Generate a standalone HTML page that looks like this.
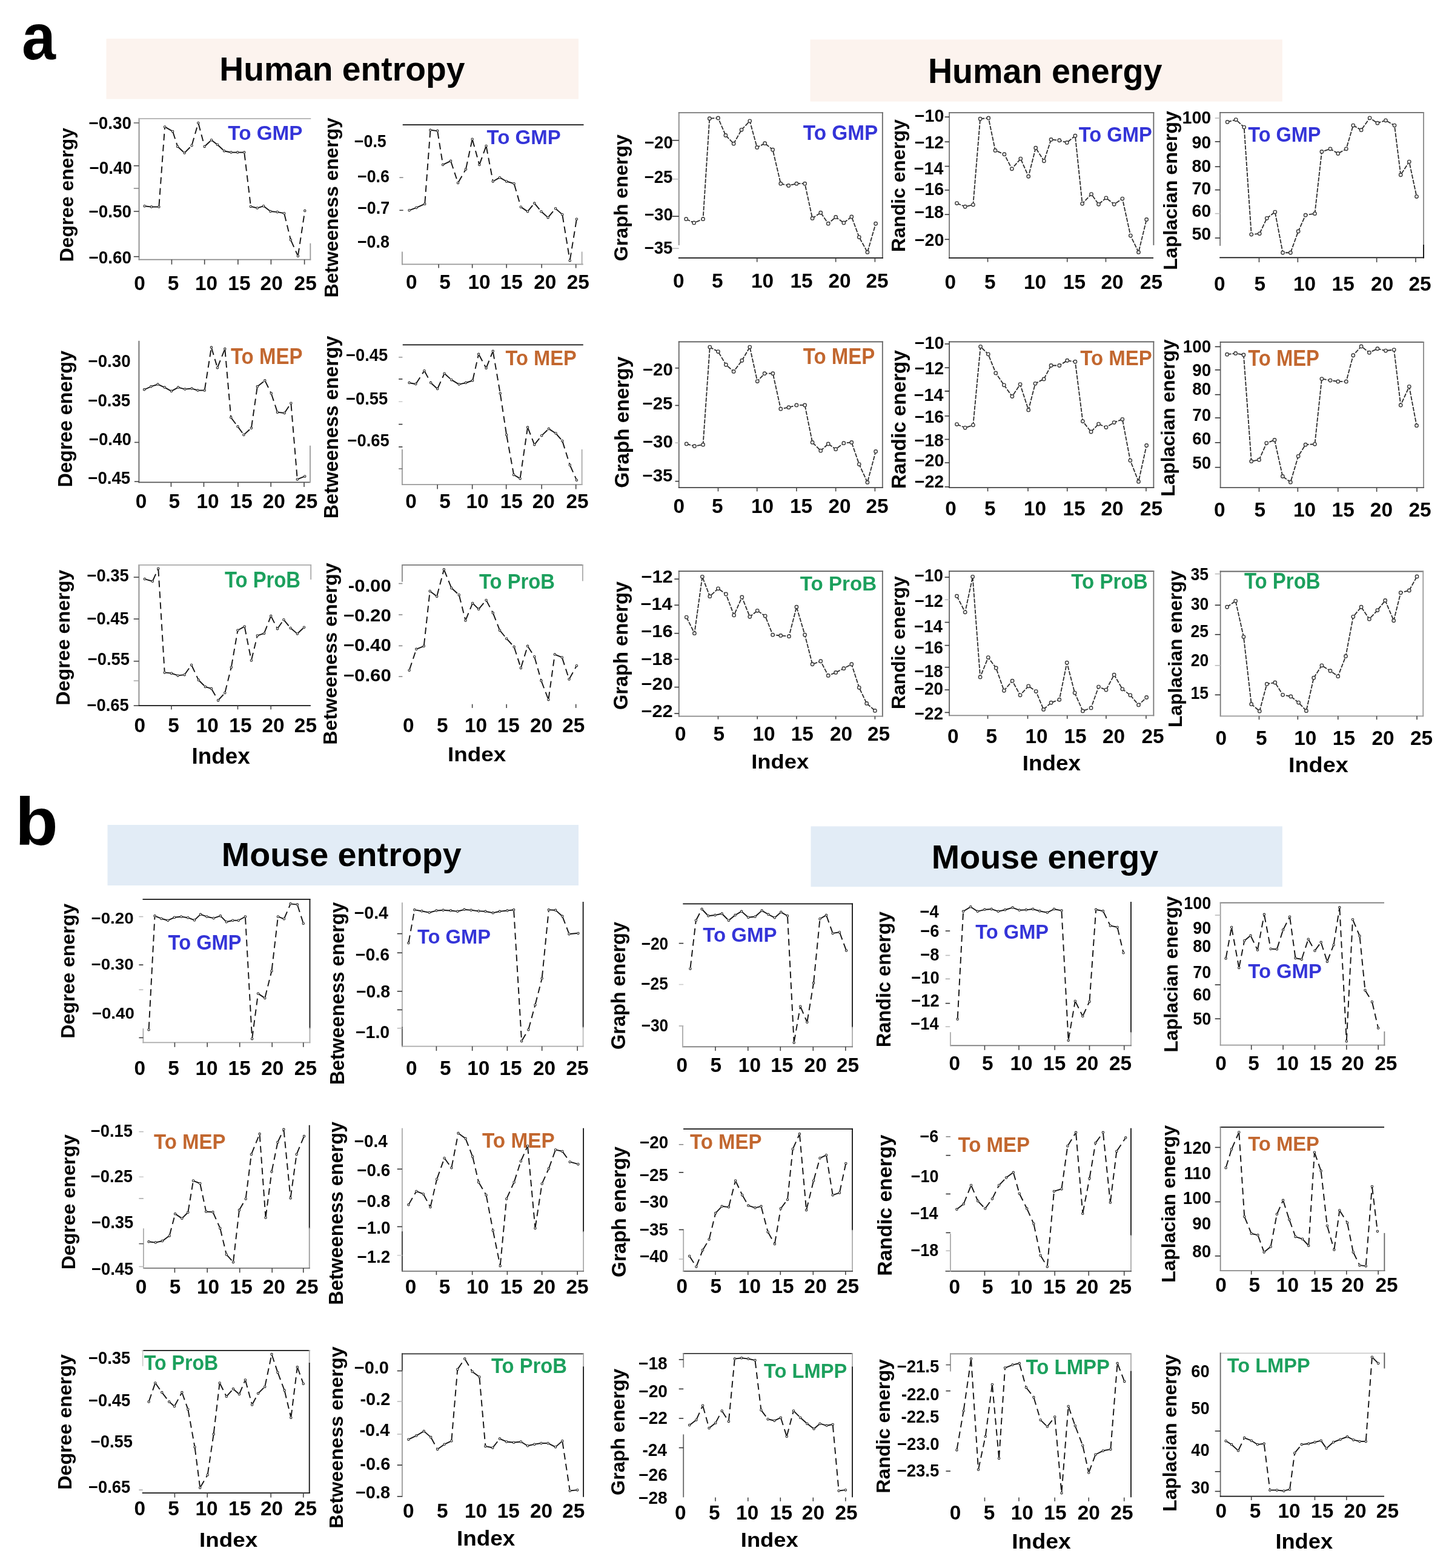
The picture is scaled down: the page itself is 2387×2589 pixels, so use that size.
<!DOCTYPE html>
<html><head><meta charset="utf-8"><title>Figure</title>
<style>html,body{margin:0;padding:0;background:#fff;overflow:hidden;}svg{display:block;}</style></head>
<body><svg width="2387" height="2589" viewBox="0 0 2387 2589" font-family="'Liberation Sans', Arial, sans-serif" font-weight="bold">
<rect x="0" y="0" width="2387" height="2589" fill="#fff"/>
<rect x="175.5" y="63.8" width="779.5" height="99.7" fill="#fcf3ee"/>
<rect x="1337.5" y="65.3" width="779.3" height="102.3" fill="#fcf3ee"/>
<rect x="177.5" y="1362" width="777.5" height="100" fill="#e2ecf6"/>
<rect x="1338.5" y="1364.4" width="778.3" height="99.8" fill="#e2ecf6"/>
<text x="362.37" y="132.8" font-size="55.13" textLength="405" lengthAdjust="spacingAndGlyphs" fill="#000">Human entropy</text>
<text x="1531.95" y="137.4" font-size="58.04" textLength="386.42" lengthAdjust="spacingAndGlyphs" fill="#000">Human energy</text>
<text x="365.84" y="1430.4" font-size="55.13" textLength="395.95" lengthAdjust="spacingAndGlyphs" fill="#000">Mouse entropy</text>
<text x="1537.84" y="1434" font-size="55.27" textLength="374.34" lengthAdjust="spacingAndGlyphs" fill="#000">Mouse energy</text>
<text x="35.99" y="98.4" font-size="107.53" textLength="55.88" lengthAdjust="spacingAndGlyphs" fill="#000">a</text>
<text x="24.97" y="1395.2" font-size="110.62" textLength="70.76" lengthAdjust="spacingAndGlyphs" fill="#000">b</text>
<g id="a1c1">
<line x1="229.55" y1="195.78" x2="229.55" y2="428.57" stroke="#8a8a8a" stroke-width="1.8" stroke-linecap="square"/>
<line x1="229.55" y1="195.78" x2="512.34" y2="195.78" stroke="#b0b0b0" stroke-width="1.8" stroke-linecap="square"/>
<line x1="229.55" y1="428.57" x2="512.34" y2="428.57" stroke="#8a8a8a" stroke-width="1.8" stroke-linecap="square"/>
<line x1="512.34" y1="402.6" x2="512.34" y2="428.57" stroke="#999" stroke-width="1.8" stroke-linecap="square"/>
<line x1="220.78" y1="202.92" x2="229.55" y2="202.92" stroke="#666" stroke-width="1.6"/>
<line x1="220.78" y1="273.7" x2="229.55" y2="273.7" stroke="#444" stroke-width="1.6"/>
<line x1="220.78" y1="311.04" x2="229.55" y2="311.04" stroke="#888" stroke-width="1.6"/>
<line x1="220.78" y1="349.03" x2="229.55" y2="349.03" stroke="#444" stroke-width="1.6"/>
<line x1="220.78" y1="423.7" x2="229.55" y2="423.7" stroke="#444" stroke-width="1.6"/>
<line x1="283.44" y1="428.57" x2="283.44" y2="436.69" stroke="#444" stroke-width="1.6"/>
<line x1="337.66" y1="428.57" x2="337.66" y2="436.69" stroke="#444" stroke-width="1.6"/>
<line x1="392.86" y1="428.57" x2="392.86" y2="436.69" stroke="#444" stroke-width="1.6"/>
<line x1="447.4" y1="428.57" x2="447.4" y2="436.69" stroke="#444" stroke-width="1.6"/>
<line x1="502.6" y1="428.57" x2="502.6" y2="436.69" stroke="#444" stroke-width="1.6"/>
<text x="146.54" y="212.66" font-size="28.67" textLength="70.49" lengthAdjust="spacingAndGlyphs" fill="#000">−0.30</text>
<text x="147.52" y="287.34" font-size="28.67" textLength="70.49" lengthAdjust="spacingAndGlyphs" fill="#000">−0.40</text>
<text x="146.54" y="358.77" font-size="28.67" textLength="70.49" lengthAdjust="spacingAndGlyphs" fill="#000">−0.50</text>
<text x="146.54" y="435.06" font-size="28.67" textLength="70.49" lengthAdjust="spacingAndGlyphs" fill="#000">−0.60</text>
<text x="221.26" y="478.9" font-size="32.97" textLength="18.55" lengthAdjust="spacingAndGlyphs" fill="#000">0</text>
<text x="276.74" y="478.9" font-size="32.97" textLength="18.55" lengthAdjust="spacingAndGlyphs" fill="#000">5</text>
<text x="322.02" y="478.9" font-size="32.97" textLength="37.1" lengthAdjust="spacingAndGlyphs" fill="#000">10</text>
<text x="376.36" y="478.9" font-size="32.97" textLength="37.1" lengthAdjust="spacingAndGlyphs" fill="#000">15</text>
<text x="429.63" y="478.9" font-size="32.97" textLength="37.1" lengthAdjust="spacingAndGlyphs" fill="#000">20</text>
<text x="485.59" y="478.9" font-size="32.97" textLength="37.1" lengthAdjust="spacingAndGlyphs" fill="#000">25</text>
<text transform="translate(120.61,430) rotate(-90)" x="-2.15" y="0" font-size="31.83" textLength="221.12" lengthAdjust="spacingAndGlyphs" fill="#000">Degree energy</text>
<text x="376.29" y="230.52" font-size="32.68" textLength="123.27" lengthAdjust="spacingAndGlyphs" fill="#3434d8">To GMP</text>
<path d="M240.62,340.49L248.01,341.33" fill="none" stroke="#151515" stroke-width="1.9" stroke-dasharray="11 7"/>
<path d="M252,341.56L260.34,341.56" fill="none" stroke="#151515" stroke-width="1.9" stroke-dasharray="11 7"/>
<path d="M262.48,339.56L271.93,211.41" fill="none" stroke="#151515" stroke-width="1.9" stroke-dasharray="11 7"/>
<path d="M273.81,210.41L283.33,215.89" fill="none" stroke="#151515" stroke-width="1.9" stroke-dasharray="11 7"/>
<path d="M285.68,218.79L292.56,239.98" fill="none" stroke="#151515" stroke-width="1.9" stroke-dasharray="11 7"/>
<path d="M294.64,243.26L303.09,251.23" fill="none" stroke="#151515" stroke-width="1.9" stroke-dasharray="11 7"/>
<path d="M305.94,251.16L315.16,241.69" fill="none" stroke="#151515" stroke-width="1.9" stroke-dasharray="11 7"/>
<path d="M317.11,238.34L326.72,204.84" fill="none" stroke="#151515" stroke-width="1.9" stroke-dasharray="11 7"/>
<path d="M327.79,204.85L337.15,239.95" fill="none" stroke="#151515" stroke-width="1.9" stroke-dasharray="11 7"/>
<path d="M339.12,240.51L347.57,232.54" fill="none" stroke="#151515" stroke-width="1.9" stroke-dasharray="11 7"/>
<path d="M350.61,232.39L357.18,237.42" fill="none" stroke="#151515" stroke-width="1.9" stroke-dasharray="11 7"/>
<path d="M360.22,240.01L368.67,247.98" fill="none" stroke="#151515" stroke-width="1.9" stroke-dasharray="11 7"/>
<path d="M372.09,249.74L379.53,251.23" fill="none" stroke="#151515" stroke-width="1.9" stroke-dasharray="11 7"/>
<path d="M383.49,251.62L390.21,251.62" fill="none" stroke="#151515" stroke-width="1.9" stroke-dasharray="11 7"/>
<path d="M394.21,251.62L401.25,251.62" fill="none" stroke="#151515" stroke-width="1.9" stroke-dasharray="11 7"/>
<path d="M403.49,253.61L413.72,338.92" fill="none" stroke="#151515" stroke-width="1.9" stroke-dasharray="11 7"/>
<path d="M415.9,341.38L422.73,343.04" fill="none" stroke="#151515" stroke-width="1.9" stroke-dasharray="11 7"/>
<path d="M426.58,342.91L433.16,340.86" fill="none" stroke="#151515" stroke-width="1.9" stroke-dasharray="11 7"/>
<path d="M436.65,341.48L444.85,347.8" fill="none" stroke="#151515" stroke-width="1.9" stroke-dasharray="11 7"/>
<path d="M448.42,349.2L455.8,349.83" fill="none" stroke="#151515" stroke-width="1.9" stroke-dasharray="11 7"/>
<path d="M459.75,350.39L467.19,351.88" fill="none" stroke="#151515" stroke-width="1.9" stroke-dasharray="11 7"/>
<path d="M469.63,354.22L479.4,394.16" fill="none" stroke="#151515" stroke-width="1.9" stroke-dasharray="11 7"/>
<path d="M480.69,397.93L491.06,420.9" fill="none" stroke="#151515" stroke-width="1.9" stroke-dasharray="11 7"/>
<path d="M492.18,420.75L502.95,350.03" fill="none" stroke="#151515" stroke-width="1.9" stroke-dasharray="11 7"/>
<circle cx="238.64" cy="340.26" r="1.7" fill="none" stroke="#222" stroke-width="1.1"/>
<circle cx="250" cy="341.56" r="1.7" fill="none" stroke="#222" stroke-width="1.1"/>
<circle cx="262.34" cy="341.56" r="1.7" fill="none" stroke="#222" stroke-width="1.1"/>
<circle cx="272.08" cy="209.42" r="1.7" fill="none" stroke="#222" stroke-width="1.1"/>
<circle cx="285.06" cy="216.88" r="1.7" fill="none" stroke="#222" stroke-width="1.1"/>
<circle cx="293.18" cy="241.88" r="1.7" fill="none" stroke="#222" stroke-width="1.1"/>
<circle cx="304.55" cy="252.6" r="1.7" fill="none" stroke="#222" stroke-width="1.1"/>
<circle cx="316.56" cy="240.26" r="1.7" fill="none" stroke="#222" stroke-width="1.1"/>
<circle cx="327.27" cy="202.92" r="1.7" fill="none" stroke="#222" stroke-width="1.1"/>
<circle cx="337.66" cy="241.88" r="1.7" fill="none" stroke="#222" stroke-width="1.1"/>
<circle cx="349.03" cy="231.17" r="1.7" fill="none" stroke="#222" stroke-width="1.1"/>
<circle cx="358.77" cy="238.64" r="1.7" fill="none" stroke="#222" stroke-width="1.1"/>
<circle cx="370.13" cy="249.35" r="1.7" fill="none" stroke="#222" stroke-width="1.1"/>
<circle cx="381.49" cy="251.62" r="1.7" fill="none" stroke="#222" stroke-width="1.1"/>
<circle cx="392.21" cy="251.62" r="1.7" fill="none" stroke="#222" stroke-width="1.1"/>
<circle cx="403.25" cy="251.62" r="1.7" fill="none" stroke="#222" stroke-width="1.1"/>
<circle cx="413.96" cy="340.91" r="1.7" fill="none" stroke="#222" stroke-width="1.1"/>
<circle cx="424.68" cy="343.51" r="1.7" fill="none" stroke="#222" stroke-width="1.1"/>
<circle cx="435.06" cy="340.26" r="1.7" fill="none" stroke="#222" stroke-width="1.1"/>
<circle cx="446.43" cy="349.03" r="1.7" fill="none" stroke="#222" stroke-width="1.1"/>
<circle cx="457.79" cy="350" r="1.7" fill="none" stroke="#222" stroke-width="1.1"/>
<circle cx="469.16" cy="352.27" r="1.7" fill="none" stroke="#222" stroke-width="1.1"/>
<circle cx="479.87" cy="396.1" r="1.7" fill="none" stroke="#222" stroke-width="1.1"/>
<circle cx="491.88" cy="422.73" r="1.7" fill="none" stroke="#222" stroke-width="1.1"/>
<circle cx="503.25" cy="348.05" r="1.7" fill="none" stroke="#222" stroke-width="1.1"/>
</g>
<g id="a1c2">
<line x1="665.63" y1="206.1" x2="962.62" y2="206.1" stroke="#111" stroke-width="1.8" stroke-linecap="square"/>
<line x1="663.89" y1="436.37" x2="961.87" y2="436.37" stroke="#999" stroke-width="1.8" stroke-linecap="square"/>
<line x1="663.89" y1="416.45" x2="663.89" y2="436.37" stroke="#999" stroke-width="1.8" stroke-linecap="square"/>
<line x1="960.63" y1="416.45" x2="960.63" y2="436.37" stroke="#aaa" stroke-width="1.8" stroke-linecap="square"/>
<line x1="659.41" y1="293.23" x2="665.63" y2="293.23" stroke="#888" stroke-width="1.6"/>
<line x1="659.41" y1="347.25" x2="665.63" y2="347.25" stroke="#444" stroke-width="1.6"/>
<line x1="724.13" y1="436.37" x2="724.13" y2="442.59" stroke="#444" stroke-width="1.6"/>
<line x1="779.65" y1="436.37" x2="779.65" y2="442.59" stroke="#444" stroke-width="1.6"/>
<line x1="836.16" y1="436.37" x2="836.16" y2="442.59" stroke="#444" stroke-width="1.6"/>
<line x1="894.16" y1="436.37" x2="894.16" y2="442.59" stroke="#444" stroke-width="1.6"/>
<line x1="950.67" y1="436.37" x2="950.67" y2="442.59" stroke="#444" stroke-width="1.6"/>
<text x="584.83" y="242.69" font-size="28.67" textLength="52.96" lengthAdjust="spacingAndGlyphs" fill="#000">−0.5</text>
<text x="590.01" y="301.44" font-size="28.67" textLength="52.96" lengthAdjust="spacingAndGlyphs" fill="#000">−0.6</text>
<text x="590.21" y="352.97" font-size="28.67" textLength="52.96" lengthAdjust="spacingAndGlyphs" fill="#000">−0.7</text>
<text x="589.88" y="408.98" font-size="28.67" textLength="52.96" lengthAdjust="spacingAndGlyphs" fill="#000">−0.8</text>
<text x="670.07" y="477.44" font-size="32.97" textLength="18.55" lengthAdjust="spacingAndGlyphs" fill="#000">0</text>
<text x="725.29" y="477.44" font-size="32.97" textLength="18.55" lengthAdjust="spacingAndGlyphs" fill="#000">5</text>
<text x="772.46" y="477.44" font-size="32.97" textLength="37.1" lengthAdjust="spacingAndGlyphs" fill="#000">10</text>
<text x="825.78" y="477.44" font-size="32.97" textLength="37.1" lengthAdjust="spacingAndGlyphs" fill="#000">15</text>
<text x="881.21" y="477.44" font-size="32.97" textLength="37.1" lengthAdjust="spacingAndGlyphs" fill="#000">20</text>
<text x="935.77" y="477.44" font-size="32.97" textLength="37.1" lengthAdjust="spacingAndGlyphs" fill="#000">25</text>
<text transform="translate(558.36,489.2) rotate(-90)" x="-2.15" y="0" font-size="31.82" textLength="297.13" lengthAdjust="spacingAndGlyphs" fill="#000">Betweeness energy</text>
<text x="803.46" y="238.46" font-size="32.76" textLength="122.25" lengthAdjust="spacingAndGlyphs" fill="#3434d8">To GMP</text>
<path d="M677.47,346.57L685.41,343.69" fill="none" stroke="#151515" stroke-width="1.9" stroke-dasharray="11 7"/>
<path d="M689.12,342.2L699.4,337.61" fill="none" stroke="#151515" stroke-width="1.9" stroke-dasharray="11 7"/>
<path d="M701.38,334.8L710.29,216.8" fill="none" stroke="#151515" stroke-width="1.9" stroke-dasharray="11 7"/>
<path d="M712.43,215.02L720.15,215.84" fill="none" stroke="#151515" stroke-width="1.9" stroke-dasharray="11 7"/>
<path d="M722.46,218.03L730.79,270.09" fill="none" stroke="#151515" stroke-width="1.9" stroke-dasharray="11 7"/>
<path d="M732.91,271.2L742.25,266.71" fill="none" stroke="#151515" stroke-width="1.9" stroke-dasharray="11 7"/>
<path d="M744.68,267.74L755.37,300.04" fill="none" stroke="#151515" stroke-width="1.9" stroke-dasharray="11 7"/>
<path d="M757,300.21L767.94,281.27" fill="none" stroke="#151515" stroke-width="1.9" stroke-dasharray="11 7"/>
<path d="M769.36,277.58L779.23,231.7" fill="none" stroke="#151515" stroke-width="1.9" stroke-dasharray="11 7"/>
<path d="M780.18,231.67L790.81,270.14" fill="none" stroke="#151515" stroke-width="1.9" stroke-dasharray="11 7"/>
<path d="M792.02,270.18L801.87,242.83" fill="none" stroke="#151515" stroke-width="1.9" stroke-dasharray="11 7"/>
<path d="M802.93,242.91L813.38,297.49" fill="none" stroke="#151515" stroke-width="1.9" stroke-dasharray="11 7"/>
<path d="M815.5,298.48L823.21,294.2" fill="none" stroke="#151515" stroke-width="1.9" stroke-dasharray="11 7"/>
<path d="M826.7,294.2L834.41,298.48" fill="none" stroke="#151515" stroke-width="1.9" stroke-dasharray="11 7"/>
<path d="M838.07,300.02L846.69,302.61" fill="none" stroke="#151515" stroke-width="1.9" stroke-dasharray="11 7"/>
<path d="M849.16,305.1L859.25,339.85" fill="none" stroke="#151515" stroke-width="1.9" stroke-dasharray="11 7"/>
<path d="M861.47,342.88L869.34,348.13" fill="none" stroke="#151515" stroke-width="1.9" stroke-dasharray="11 7"/>
<path d="M872.27,347.69L880.94,337.09" fill="none" stroke="#151515" stroke-width="1.9" stroke-dasharray="11 7"/>
<path d="M883.48,337.09L892.15,347.69" fill="none" stroke="#151515" stroke-width="1.9" stroke-dasharray="11 7"/>
<path d="M894.91,350.57L903.12,357.87" fill="none" stroke="#151515" stroke-width="1.9" stroke-dasharray="11 7"/>
<path d="M905.9,357.66L915.78,345.8" fill="none" stroke="#151515" stroke-width="1.9" stroke-dasharray="11 7"/>
<path d="M918.56,345.59L926.77,352.89" fill="none" stroke="#151515" stroke-width="1.9" stroke-dasharray="11 7"/>
<path d="M928.59,356.19L940.39,428.17" fill="none" stroke="#151515" stroke-width="1.9" stroke-dasharray="11 7"/>
<path d="M941.03,428.17L951.59,363.66" fill="none" stroke="#151515" stroke-width="1.9" stroke-dasharray="11 7"/>
<circle cx="675.59" cy="347.25" r="1.7" fill="none" stroke="#222" stroke-width="1.1"/>
<circle cx="687.29" cy="343.01" r="1.7" fill="none" stroke="#222" stroke-width="1.1"/>
<circle cx="701.23" cy="336.79" r="1.7" fill="none" stroke="#222" stroke-width="1.1"/>
<circle cx="710.44" cy="214.81" r="1.7" fill="none" stroke="#222" stroke-width="1.1"/>
<circle cx="722.14" cy="216.05" r="1.7" fill="none" stroke="#222" stroke-width="1.1"/>
<circle cx="731.1" cy="272.07" r="1.7" fill="none" stroke="#222" stroke-width="1.1"/>
<circle cx="744.05" cy="265.84" r="1.7" fill="none" stroke="#222" stroke-width="1.1"/>
<circle cx="756" cy="301.94" r="1.7" fill="none" stroke="#222" stroke-width="1.1"/>
<circle cx="768.94" cy="279.53" r="1.7" fill="none" stroke="#222" stroke-width="1.1"/>
<circle cx="779.65" cy="229.75" r="1.7" fill="none" stroke="#222" stroke-width="1.1"/>
<circle cx="791.35" cy="272.07" r="1.7" fill="none" stroke="#222" stroke-width="1.1"/>
<circle cx="802.55" cy="240.95" r="1.7" fill="none" stroke="#222" stroke-width="1.1"/>
<circle cx="813.75" cy="299.45" r="1.7" fill="none" stroke="#222" stroke-width="1.1"/>
<circle cx="824.95" cy="293.23" r="1.7" fill="none" stroke="#222" stroke-width="1.1"/>
<circle cx="836.16" cy="299.45" r="1.7" fill="none" stroke="#222" stroke-width="1.1"/>
<circle cx="848.6" cy="303.18" r="1.7" fill="none" stroke="#222" stroke-width="1.1"/>
<circle cx="859.81" cy="341.77" r="1.7" fill="none" stroke="#222" stroke-width="1.1"/>
<circle cx="871.01" cy="349.24" r="1.7" fill="none" stroke="#222" stroke-width="1.1"/>
<circle cx="882.21" cy="335.55" r="1.7" fill="none" stroke="#222" stroke-width="1.1"/>
<circle cx="893.41" cy="349.24" r="1.7" fill="none" stroke="#222" stroke-width="1.1"/>
<circle cx="904.62" cy="359.2" r="1.7" fill="none" stroke="#222" stroke-width="1.1"/>
<circle cx="917.06" cy="344.26" r="1.7" fill="none" stroke="#222" stroke-width="1.1"/>
<circle cx="928.26" cy="354.22" r="1.7" fill="none" stroke="#222" stroke-width="1.1"/>
<circle cx="940.71" cy="430.14" r="1.7" fill="none" stroke="#222" stroke-width="1.1"/>
<circle cx="951.91" cy="361.69" r="1.7" fill="none" stroke="#222" stroke-width="1.1"/>
</g>
<g id="a1c3">
<line x1="1120.74" y1="186.18" x2="1120.74" y2="404.01" stroke="#888" stroke-width="1.8" stroke-linecap="square"/>
<line x1="1120.74" y1="186.18" x2="1456.81" y2="186.18" stroke="#777" stroke-width="1.8" stroke-linecap="square"/>
<line x1="1456.81" y1="186.18" x2="1456.81" y2="425.91" stroke="#666" stroke-width="1.8" stroke-linecap="square"/>
<line x1="1120.74" y1="425.91" x2="1456.81" y2="425.91" stroke="#111" stroke-width="1.8" stroke-linecap="square"/>
<line x1="1109.53" y1="231.74" x2="1120.74" y2="231.74" stroke="#333" stroke-width="1.6"/>
<line x1="1109.53" y1="295.72" x2="1120.74" y2="295.72" stroke="#bbb" stroke-width="1.6"/>
<line x1="1109.53" y1="357.2" x2="1120.74" y2="357.2" stroke="#333" stroke-width="1.6"/>
<line x1="1109.53" y1="410.23" x2="1120.74" y2="410.23" stroke="#bbb" stroke-width="1.6"/>
<line x1="1249.69" y1="425.91" x2="1249.69" y2="432.63" stroke="#444" stroke-width="1.6"/>
<line x1="1379.64" y1="425.91" x2="1379.64" y2="432.63" stroke="#444" stroke-width="1.6"/>
<line x1="1444.36" y1="425.91" x2="1444.36" y2="432.63" stroke="#444" stroke-width="1.6"/>
<text x="1064.05" y="244.68" font-size="28.67" textLength="46.62" lengthAdjust="spacingAndGlyphs" fill="#000">−20</text>
<text x="1063.71" y="301.94" font-size="28.67" textLength="46.62" lengthAdjust="spacingAndGlyphs" fill="#000">−25</text>
<text x="1064.05" y="363.68" font-size="28.67" textLength="46.62" lengthAdjust="spacingAndGlyphs" fill="#000">−30</text>
<text x="1063.71" y="418.94" font-size="28.67" textLength="46.62" lengthAdjust="spacingAndGlyphs" fill="#000">−35</text>
<text x="1110.98" y="474.95" font-size="32.97" textLength="18.55" lengthAdjust="spacingAndGlyphs" fill="#000">0</text>
<text x="1174.92" y="474.95" font-size="32.97" textLength="18.55" lengthAdjust="spacingAndGlyphs" fill="#000">5</text>
<text x="1240.02" y="474.95" font-size="32.97" textLength="37.1" lengthAdjust="spacingAndGlyphs" fill="#000">10</text>
<text x="1304.53" y="474.95" font-size="32.97" textLength="37.1" lengthAdjust="spacingAndGlyphs" fill="#000">15</text>
<text x="1367.43" y="474.95" font-size="32.97" textLength="37.1" lengthAdjust="spacingAndGlyphs" fill="#000">20</text>
<text x="1429.46" y="474.95" font-size="32.97" textLength="37.1" lengthAdjust="spacingAndGlyphs" fill="#000">25</text>
<text transform="translate(1036.29,430) rotate(-90)" x="-1.29" y="0" font-size="32.16" textLength="209.12" lengthAdjust="spacingAndGlyphs" fill="#000">Graph energy</text>
<text x="1325.78" y="230.99" font-size="34.69" textLength="123.51" lengthAdjust="spacingAndGlyphs" fill="#3434d8">To GMP</text>
<polyline points="1132.69,361.69 1145.63,367.91 1160.57,361.69 1171.27,195.64 1185.46,194.89 1197.91,223.52 1211.1,237.21 1224.05,214.31 1237.74,199.87 1249.69,243.44 1262.63,236.72 1275.58,247.17 1288.77,303.18 1301.72,306.42 1314.91,303.18 1328.6,303.18 1341.05,360.44 1354.74,351.23 1367.19,369.15 1379.64,358.45 1392.83,367.91 1405.78,357.95 1418.22,391.56 1431.91,416.45 1445.61,369.15" fill="none" stroke="#2c2c2c" stroke-width="1.8" stroke-dasharray="7 2" stroke-linejoin="round"/>
<circle cx="1132.69" cy="361.69" r="2.7" fill="#fff" stroke="#3a3a3a" stroke-width="1.4"/>
<circle cx="1145.63" cy="367.91" r="2.7" fill="#fff" stroke="#3a3a3a" stroke-width="1.4"/>
<circle cx="1160.57" cy="361.69" r="2.7" fill="#fff" stroke="#3a3a3a" stroke-width="1.4"/>
<circle cx="1171.27" cy="195.64" r="2.7" fill="#fff" stroke="#3a3a3a" stroke-width="1.4"/>
<circle cx="1185.46" cy="194.89" r="2.7" fill="#fff" stroke="#3a3a3a" stroke-width="1.4"/>
<circle cx="1197.91" cy="223.52" r="2.7" fill="#fff" stroke="#3a3a3a" stroke-width="1.4"/>
<circle cx="1211.1" cy="237.21" r="2.7" fill="#fff" stroke="#3a3a3a" stroke-width="1.4"/>
<circle cx="1224.05" cy="214.31" r="2.7" fill="#fff" stroke="#3a3a3a" stroke-width="1.4"/>
<circle cx="1237.74" cy="199.87" r="2.7" fill="#fff" stroke="#3a3a3a" stroke-width="1.4"/>
<circle cx="1249.69" cy="243.44" r="2.7" fill="#fff" stroke="#3a3a3a" stroke-width="1.4"/>
<circle cx="1262.63" cy="236.72" r="2.7" fill="#fff" stroke="#3a3a3a" stroke-width="1.4"/>
<circle cx="1275.58" cy="247.17" r="2.7" fill="#fff" stroke="#3a3a3a" stroke-width="1.4"/>
<circle cx="1288.77" cy="303.18" r="2.7" fill="#fff" stroke="#3a3a3a" stroke-width="1.4"/>
<circle cx="1301.72" cy="306.42" r="2.7" fill="#fff" stroke="#3a3a3a" stroke-width="1.4"/>
<circle cx="1314.91" cy="303.18" r="2.7" fill="#fff" stroke="#3a3a3a" stroke-width="1.4"/>
<circle cx="1328.6" cy="303.18" r="2.7" fill="#fff" stroke="#3a3a3a" stroke-width="1.4"/>
<circle cx="1341.05" cy="360.44" r="2.7" fill="#fff" stroke="#3a3a3a" stroke-width="1.4"/>
<circle cx="1354.74" cy="351.23" r="2.7" fill="#fff" stroke="#3a3a3a" stroke-width="1.4"/>
<circle cx="1367.19" cy="369.15" r="2.7" fill="#fff" stroke="#3a3a3a" stroke-width="1.4"/>
<circle cx="1379.64" cy="358.45" r="2.7" fill="#fff" stroke="#3a3a3a" stroke-width="1.4"/>
<circle cx="1392.83" cy="367.91" r="2.7" fill="#fff" stroke="#3a3a3a" stroke-width="1.4"/>
<circle cx="1405.78" cy="357.95" r="2.7" fill="#fff" stroke="#3a3a3a" stroke-width="1.4"/>
<circle cx="1418.22" cy="391.56" r="2.7" fill="#fff" stroke="#3a3a3a" stroke-width="1.4"/>
<circle cx="1431.91" cy="416.45" r="2.7" fill="#fff" stroke="#3a3a3a" stroke-width="1.4"/>
<circle cx="1445.61" cy="369.15" r="2.7" fill="#fff" stroke="#3a3a3a" stroke-width="1.4"/>
</g>
<g id="a1c4">
<line x1="1567.05" y1="186.18" x2="1567.05" y2="425.91" stroke="#777" stroke-width="1.8" stroke-linecap="square"/>
<line x1="1567.05" y1="186.18" x2="1904.36" y2="186.18" stroke="#666" stroke-width="1.8" stroke-linecap="square"/>
<line x1="1904.36" y1="186.18" x2="1904.36" y2="404.01" stroke="#666" stroke-width="1.8" stroke-linecap="square"/>
<line x1="1567.05" y1="425.91" x2="1903.12" y2="425.91" stroke="#111" stroke-width="1.8" stroke-linecap="square"/>
<line x1="1559.58" y1="193.15" x2="1567.05" y2="193.15" stroke="#333" stroke-width="1.6"/>
<line x1="1559.58" y1="234.23" x2="1567.05" y2="234.23" stroke="#333" stroke-width="1.6"/>
<line x1="1559.58" y1="274.56" x2="1567.05" y2="274.56" stroke="#333" stroke-width="1.6"/>
<line x1="1559.58" y1="313.89" x2="1567.05" y2="313.89" stroke="#333" stroke-width="1.6"/>
<line x1="1559.58" y1="354.22" x2="1567.05" y2="354.22" stroke="#333" stroke-width="1.6"/>
<line x1="1559.58" y1="395.29" x2="1567.05" y2="395.29" stroke="#333" stroke-width="1.6"/>
<line x1="1630.53" y1="425.91" x2="1630.53" y2="432.63" stroke="#444" stroke-width="1.6"/>
<line x1="1761.72" y1="425.91" x2="1761.72" y2="432.63" stroke="#444" stroke-width="1.6"/>
<line x1="1825.45" y1="425.91" x2="1825.45" y2="432.63" stroke="#444" stroke-width="1.6"/>
<text x="1509.82" y="201.12" font-size="28.67" textLength="48.45" lengthAdjust="spacingAndGlyphs" fill="#000">−10</text>
<text x="1509.75" y="244.68" font-size="28.67" textLength="48.45" lengthAdjust="spacingAndGlyphs" fill="#000">−12</text>
<text x="1508.82" y="288.25" font-size="28.67" textLength="48.45" lengthAdjust="spacingAndGlyphs" fill="#000">−14</text>
<text x="1509.68" y="321.85" font-size="28.67" textLength="48.45" lengthAdjust="spacingAndGlyphs" fill="#000">−16</text>
<text x="1509.53" y="360.44" font-size="28.67" textLength="48.45" lengthAdjust="spacingAndGlyphs" fill="#000">−18</text>
<text x="1509.82" y="406.49" font-size="28.67" textLength="48.45" lengthAdjust="spacingAndGlyphs" fill="#000">−20</text>
<text x="1559.53" y="477.44" font-size="32.97" textLength="18.55" lengthAdjust="spacingAndGlyphs" fill="#000">0</text>
<text x="1624.96" y="477.44" font-size="32.97" textLength="18.55" lengthAdjust="spacingAndGlyphs" fill="#000">5</text>
<text x="1690.06" y="477.44" font-size="32.97" textLength="37.1" lengthAdjust="spacingAndGlyphs" fill="#000">10</text>
<text x="1755.07" y="477.44" font-size="32.97" textLength="37.1" lengthAdjust="spacingAndGlyphs" fill="#000">15</text>
<text x="1817.48" y="477.44" font-size="32.97" textLength="37.1" lengthAdjust="spacingAndGlyphs" fill="#000">20</text>
<text x="1881.99" y="477.44" font-size="32.97" textLength="37.1" lengthAdjust="spacingAndGlyphs" fill="#000">25</text>
<text transform="translate(1494.49,413.9) rotate(-90)" x="-2.14" y="0" font-size="31.76" textLength="218.85" lengthAdjust="spacingAndGlyphs" fill="#000">Randic energy</text>
<text x="1780.81" y="234.23" font-size="35.85" textLength="120.99" lengthAdjust="spacingAndGlyphs" fill="#3434d8">To GMP</text>
<polyline points="1579.49,335.55 1593.18,341.27 1606.38,338.04 1618.08,196.14 1631.77,194.89 1642.97,248.42 1657.91,254.64 1670.36,278.79 1684.79,262.11 1697.74,291.23 1709.69,244.18 1723.38,265.84 1735.08,230.49 1748.77,231.74 1761.22,235.47 1774.91,224.27 1786.61,336.29 1801.55,320.61 1813.5,337.29 1825.94,326.83 1839.14,337.29 1852.83,328.08 1866.27,389.07 1879.47,416.45 1892.66,362.43" fill="none" stroke="#2c2c2c" stroke-width="1.8" stroke-dasharray="7 2" stroke-linejoin="round"/>
<circle cx="1579.49" cy="335.55" r="2.7" fill="#fff" stroke="#3a3a3a" stroke-width="1.4"/>
<circle cx="1593.18" cy="341.27" r="2.7" fill="#fff" stroke="#3a3a3a" stroke-width="1.4"/>
<circle cx="1606.38" cy="338.04" r="2.7" fill="#fff" stroke="#3a3a3a" stroke-width="1.4"/>
<circle cx="1618.08" cy="196.14" r="2.7" fill="#fff" stroke="#3a3a3a" stroke-width="1.4"/>
<circle cx="1631.77" cy="194.89" r="2.7" fill="#fff" stroke="#3a3a3a" stroke-width="1.4"/>
<circle cx="1642.97" cy="248.42" r="2.7" fill="#fff" stroke="#3a3a3a" stroke-width="1.4"/>
<circle cx="1657.91" cy="254.64" r="2.7" fill="#fff" stroke="#3a3a3a" stroke-width="1.4"/>
<circle cx="1670.36" cy="278.79" r="2.7" fill="#fff" stroke="#3a3a3a" stroke-width="1.4"/>
<circle cx="1684.79" cy="262.11" r="2.7" fill="#fff" stroke="#3a3a3a" stroke-width="1.4"/>
<circle cx="1697.74" cy="291.23" r="2.7" fill="#fff" stroke="#3a3a3a" stroke-width="1.4"/>
<circle cx="1709.69" cy="244.18" r="2.7" fill="#fff" stroke="#3a3a3a" stroke-width="1.4"/>
<circle cx="1723.38" cy="265.84" r="2.7" fill="#fff" stroke="#3a3a3a" stroke-width="1.4"/>
<circle cx="1735.08" cy="230.49" r="2.7" fill="#fff" stroke="#3a3a3a" stroke-width="1.4"/>
<circle cx="1748.77" cy="231.74" r="2.7" fill="#fff" stroke="#3a3a3a" stroke-width="1.4"/>
<circle cx="1761.22" cy="235.47" r="2.7" fill="#fff" stroke="#3a3a3a" stroke-width="1.4"/>
<circle cx="1774.91" cy="224.27" r="2.7" fill="#fff" stroke="#3a3a3a" stroke-width="1.4"/>
<circle cx="1786.61" cy="336.29" r="2.7" fill="#fff" stroke="#3a3a3a" stroke-width="1.4"/>
<circle cx="1801.55" cy="320.61" r="2.7" fill="#fff" stroke="#3a3a3a" stroke-width="1.4"/>
<circle cx="1813.5" cy="337.29" r="2.7" fill="#fff" stroke="#3a3a3a" stroke-width="1.4"/>
<circle cx="1825.94" cy="326.83" r="2.7" fill="#fff" stroke="#3a3a3a" stroke-width="1.4"/>
<circle cx="1839.14" cy="337.29" r="2.7" fill="#fff" stroke="#3a3a3a" stroke-width="1.4"/>
<circle cx="1852.83" cy="328.08" r="2.7" fill="#fff" stroke="#3a3a3a" stroke-width="1.4"/>
<circle cx="1866.27" cy="389.07" r="2.7" fill="#fff" stroke="#3a3a3a" stroke-width="1.4"/>
<circle cx="1879.47" cy="416.45" r="2.7" fill="#fff" stroke="#3a3a3a" stroke-width="1.4"/>
<circle cx="1892.66" cy="362.43" r="2.7" fill="#fff" stroke="#3a3a3a" stroke-width="1.4"/>
</g>
<g id="a1c5">
<line x1="2014.11" y1="185.84" x2="2014.11" y2="404.99" stroke="#777" stroke-width="1.8" stroke-linecap="square"/>
<line x1="2014.11" y1="185.84" x2="2349.99" y2="185.84" stroke="#666" stroke-width="1.8" stroke-linecap="square"/>
<line x1="2349.99" y1="185.84" x2="2349.99" y2="425.43" stroke="#888" stroke-width="1.8" stroke-linecap="square"/>
<line x1="2349.99" y1="404.99" x2="2349.99" y2="425.43" stroke="#111" stroke-width="1.8" stroke-linecap="square"/>
<line x1="2014.11" y1="425.43" x2="2349.99" y2="425.43" stroke="#111" stroke-width="1.8" stroke-linecap="square"/>
<line x1="2005.68" y1="195.03" x2="2014.11" y2="195.03" stroke="#bbb" stroke-width="1.6"/>
<line x1="2005.68" y1="233.86" x2="2014.11" y2="233.86" stroke="#333" stroke-width="1.6"/>
<line x1="2005.68" y1="275.24" x2="2014.11" y2="275.24" stroke="#333" stroke-width="1.6"/>
<line x1="2005.68" y1="313.55" x2="2014.11" y2="313.55" stroke="#333" stroke-width="1.6"/>
<line x1="2005.68" y1="352.63" x2="2014.11" y2="352.63" stroke="#bbb" stroke-width="1.6"/>
<line x1="2005.68" y1="392.99" x2="2014.11" y2="392.99" stroke="#333" stroke-width="1.6"/>
<line x1="2078.47" y1="425.43" x2="2078.47" y2="433.09" stroke="#444" stroke-width="1.6"/>
<line x1="2142.33" y1="425.43" x2="2142.33" y2="433.09" stroke="#444" stroke-width="1.6"/>
<line x1="2272.6" y1="425.43" x2="2272.6" y2="433.09" stroke="#444" stroke-width="1.6"/>
<line x1="2336.97" y1="425.43" x2="2336.97" y2="433.09" stroke="#444" stroke-width="1.6"/>
<text x="1951.53" y="204.48" font-size="28.67" textLength="47.66" lengthAdjust="spacingAndGlyphs" fill="#000">100</text>
<text x="1967.45" y="245.35" font-size="28.67" textLength="31.77" lengthAdjust="spacingAndGlyphs" fill="#000">90</text>
<text x="1967.45" y="283.67" font-size="28.67" textLength="31.77" lengthAdjust="spacingAndGlyphs" fill="#000">80</text>
<text x="1967.45" y="320.7" font-size="28.67" textLength="31.77" lengthAdjust="spacingAndGlyphs" fill="#000">70</text>
<text x="1967.45" y="357.74" font-size="28.67" textLength="31.77" lengthAdjust="spacingAndGlyphs" fill="#000">60</text>
<text x="1967.45" y="396.05" font-size="28.67" textLength="31.77" lengthAdjust="spacingAndGlyphs" fill="#000">50</text>
<text x="2004.09" y="480.34" font-size="32.97" textLength="18.55" lengthAdjust="spacingAndGlyphs" fill="#000">0</text>
<text x="2070.45" y="480.34" font-size="32.97" textLength="18.55" lengthAdjust="spacingAndGlyphs" fill="#000">5</text>
<text x="2134.94" y="480.34" font-size="32.97" textLength="37.1" lengthAdjust="spacingAndGlyphs" fill="#000">10</text>
<text x="2198.59" y="480.34" font-size="32.97" textLength="37.1" lengthAdjust="spacingAndGlyphs" fill="#000">15</text>
<text x="2263.11" y="480.34" font-size="32.97" textLength="37.1" lengthAdjust="spacingAndGlyphs" fill="#000">20</text>
<text x="2325.48" y="480.34" font-size="32.97" textLength="37.1" lengthAdjust="spacingAndGlyphs" fill="#000">25</text>
<text transform="translate(1942.59,443.9) rotate(-90)" x="-2.17" y="0" font-size="32.17" textLength="262.84" lengthAdjust="spacingAndGlyphs" fill="#000">Laplacian energy</text>
<text x="2060.27" y="233.86" font-size="35.6" textLength="120.26" lengthAdjust="spacingAndGlyphs" fill="#3434d8">To GMP</text>
<polyline points="2026.11,201.42 2040.16,197.59 2053.7,210.1 2065.7,387.11 2079.24,385.84 2091.25,360.29 2104.78,350.08 2117.55,417.25 2130.33,417.25 2143.1,382.01 2155.1,355.19 2170.43,352.63 2181.92,250.46 2195.97,245.86 2208.74,253.52 2222.28,245.86 2233.77,207.04 2247.06,214.7 2261.1,194.78 2273.88,203.21 2287.41,198.86 2301.97,207.04 2312.19,288.77 2326.24,267.06 2338.5,324.53" fill="none" stroke="#2c2c2c" stroke-width="1.8" stroke-dasharray="7 2" stroke-linejoin="round"/>
<circle cx="2026.11" cy="201.42" r="2.7" fill="#fff" stroke="#3a3a3a" stroke-width="1.4"/>
<circle cx="2040.16" cy="197.59" r="2.7" fill="#fff" stroke="#3a3a3a" stroke-width="1.4"/>
<circle cx="2053.7" cy="210.1" r="2.7" fill="#fff" stroke="#3a3a3a" stroke-width="1.4"/>
<circle cx="2065.7" cy="387.11" r="2.7" fill="#fff" stroke="#3a3a3a" stroke-width="1.4"/>
<circle cx="2079.24" cy="385.84" r="2.7" fill="#fff" stroke="#3a3a3a" stroke-width="1.4"/>
<circle cx="2091.25" cy="360.29" r="2.7" fill="#fff" stroke="#3a3a3a" stroke-width="1.4"/>
<circle cx="2104.78" cy="350.08" r="2.7" fill="#fff" stroke="#3a3a3a" stroke-width="1.4"/>
<circle cx="2117.55" cy="417.25" r="2.7" fill="#fff" stroke="#3a3a3a" stroke-width="1.4"/>
<circle cx="2130.33" cy="417.25" r="2.7" fill="#fff" stroke="#3a3a3a" stroke-width="1.4"/>
<circle cx="2143.1" cy="382.01" r="2.7" fill="#fff" stroke="#3a3a3a" stroke-width="1.4"/>
<circle cx="2155.1" cy="355.19" r="2.7" fill="#fff" stroke="#3a3a3a" stroke-width="1.4"/>
<circle cx="2170.43" cy="352.63" r="2.7" fill="#fff" stroke="#3a3a3a" stroke-width="1.4"/>
<circle cx="2181.92" cy="250.46" r="2.7" fill="#fff" stroke="#3a3a3a" stroke-width="1.4"/>
<circle cx="2195.97" cy="245.86" r="2.7" fill="#fff" stroke="#3a3a3a" stroke-width="1.4"/>
<circle cx="2208.74" cy="253.52" r="2.7" fill="#fff" stroke="#3a3a3a" stroke-width="1.4"/>
<circle cx="2222.28" cy="245.86" r="2.7" fill="#fff" stroke="#3a3a3a" stroke-width="1.4"/>
<circle cx="2233.77" cy="207.04" r="2.7" fill="#fff" stroke="#3a3a3a" stroke-width="1.4"/>
<circle cx="2247.06" cy="214.7" r="2.7" fill="#fff" stroke="#3a3a3a" stroke-width="1.4"/>
<circle cx="2261.1" cy="194.78" r="2.7" fill="#fff" stroke="#3a3a3a" stroke-width="1.4"/>
<circle cx="2273.88" cy="203.21" r="2.7" fill="#fff" stroke="#3a3a3a" stroke-width="1.4"/>
<circle cx="2287.41" cy="198.86" r="2.7" fill="#fff" stroke="#3a3a3a" stroke-width="1.4"/>
<circle cx="2301.97" cy="207.04" r="2.7" fill="#fff" stroke="#3a3a3a" stroke-width="1.4"/>
<circle cx="2312.19" cy="288.77" r="2.7" fill="#fff" stroke="#3a3a3a" stroke-width="1.4"/>
<circle cx="2326.24" cy="267.06" r="2.7" fill="#fff" stroke="#3a3a3a" stroke-width="1.4"/>
<circle cx="2338.5" cy="324.53" r="2.7" fill="#fff" stroke="#3a3a3a" stroke-width="1.4"/>
</g>
<g id="a2c1">
<line x1="229.41" y1="563.65" x2="229.41" y2="796.41" stroke="#666" stroke-width="1.8" stroke-linecap="square"/>
<line x1="229.41" y1="796.41" x2="510.71" y2="796.41" stroke="#555" stroke-width="1.8" stroke-linecap="square"/>
<line x1="511.96" y1="736.66" x2="511.96" y2="796.41" stroke="#999" stroke-width="1.8" stroke-linecap="square"/>
<line x1="221.94" y1="730.44" x2="229.41" y2="730.44" stroke="#444" stroke-width="1.6"/>
<line x1="221.94" y1="795.17" x2="229.41" y2="795.17" stroke="#444" stroke-width="1.6"/>
<line x1="282.43" y1="796.41" x2="282.43" y2="803.88" stroke="#444" stroke-width="1.6"/>
<line x1="336.45" y1="796.41" x2="336.45" y2="803.88" stroke="#444" stroke-width="1.6"/>
<line x1="392.96" y1="796.41" x2="392.96" y2="803.88" stroke="#444" stroke-width="1.6"/>
<line x1="447.23" y1="796.41" x2="447.23" y2="803.88" stroke="#444" stroke-width="1.6"/>
<line x1="502" y1="796.41" x2="502" y2="803.88" stroke="#444" stroke-width="1.6"/>
<text x="145.58" y="605.97" font-size="28.67" textLength="70" lengthAdjust="spacingAndGlyphs" fill="#000">−0.30</text>
<text x="145.24" y="670.69" font-size="28.67" textLength="70" lengthAdjust="spacingAndGlyphs" fill="#000">−0.35</text>
<text x="146.83" y="735.42" font-size="28.67" textLength="70" lengthAdjust="spacingAndGlyphs" fill="#000">−0.40</text>
<text x="145.24" y="798.9" font-size="28.67" textLength="70" lengthAdjust="spacingAndGlyphs" fill="#000">−0.45</text>
<text x="223.89" y="838.73" font-size="32.97" textLength="18.55" lengthAdjust="spacingAndGlyphs" fill="#000">0</text>
<text x="278.61" y="838.73" font-size="32.97" textLength="18.55" lengthAdjust="spacingAndGlyphs" fill="#000">5</text>
<text x="324.54" y="838.73" font-size="32.97" textLength="37.1" lengthAdjust="spacingAndGlyphs" fill="#000">10</text>
<text x="379.6" y="838.73" font-size="32.97" textLength="37.1" lengthAdjust="spacingAndGlyphs" fill="#000">15</text>
<text x="433.78" y="838.73" font-size="32.97" textLength="37.1" lengthAdjust="spacingAndGlyphs" fill="#000">20</text>
<text x="487.1" y="838.73" font-size="32.97" textLength="37.1" lengthAdjust="spacingAndGlyphs" fill="#000">25</text>
<text transform="translate(118.51,802.2) rotate(-90)" x="-2.19" y="0" font-size="32.47" textLength="225.57" lengthAdjust="spacingAndGlyphs" fill="#000">Degree energy</text>
<text x="380.93" y="600.99" font-size="37.15" textLength="118.48" lengthAdjust="spacingAndGlyphs" fill="#c2672f">To MEP</text>
<path d="M239.95,642.5L247.5,639.14" fill="none" stroke="#151515" stroke-width="1.9" stroke-dasharray="11 7"/>
<path d="M251.22,637.7L258.63,635.23" fill="none" stroke="#151515" stroke-width="1.9" stroke-dasharray="11 7"/>
<path d="M262.35,635.41L269.9,638.76" fill="none" stroke="#151515" stroke-width="1.9" stroke-dasharray="11 7"/>
<path d="M273.48,640.55L281.18,644.83" fill="none" stroke="#151515" stroke-width="1.9" stroke-dasharray="11 7"/>
<path d="M284.68,644.83L292.38,640.55" fill="none" stroke="#151515" stroke-width="1.9" stroke-dasharray="11 7"/>
<path d="M296.06,640.09L303.4,642.05" fill="none" stroke="#151515" stroke-width="1.9" stroke-dasharray="11 7"/>
<path d="M307.33,642.39L314.55,641.75" fill="none" stroke="#151515" stroke-width="1.9" stroke-dasharray="11 7"/>
<path d="M318.45,642.14L324.58,643.98" fill="none" stroke="#151515" stroke-width="1.9" stroke-dasharray="11 7"/>
<path d="M328.49,644.56L335.7,644.56" fill="none" stroke="#151515" stroke-width="1.9" stroke-dasharray="11 7"/>
<path d="M338.01,642.58L348.59,575.58" fill="none" stroke="#151515" stroke-width="1.9" stroke-dasharray="11 7"/>
<path d="M349.47,575.52L358.29,605.3" fill="none" stroke="#151515" stroke-width="1.9" stroke-dasharray="11 7"/>
<path d="M359.6,605.36L370.56,577.95" fill="none" stroke="#151515" stroke-width="1.9" stroke-dasharray="11 7"/>
<path d="M371.48,578.09L381.09,687.37" fill="none" stroke="#151515" stroke-width="1.9" stroke-dasharray="11 7"/>
<path d="M382.46,690.97L391.26,702.7" fill="none" stroke="#151515" stroke-width="1.9" stroke-dasharray="11 7"/>
<path d="M393.64,705.92L401.25,716.38" fill="none" stroke="#151515" stroke-width="1.9" stroke-dasharray="11 7"/>
<path d="M403.91,716.66L413.38,708.13" fill="none" stroke="#151515" stroke-width="1.9" stroke-dasharray="11 7"/>
<path d="M415.16,704.81L424.54,640.31" fill="none" stroke="#151515" stroke-width="1.9" stroke-dasharray="11 7"/>
<path d="M426.39,637.08L435.71,629.62" fill="none" stroke="#151515" stroke-width="1.9" stroke-dasharray="11 7"/>
<path d="M438.16,630.17L446.84,647.74" fill="none" stroke="#151515" stroke-width="1.9" stroke-dasharray="11 7"/>
<path d="M448.35,651.43L457.31,678.75" fill="none" stroke="#151515" stroke-width="1.9" stroke-dasharray="11 7"/>
<path d="M459.93,680.86L467.65,681.69" fill="none" stroke="#151515" stroke-width="1.9" stroke-dasharray="11 7"/>
<path d="M470.74,680.23L479.24,667.38" fill="none" stroke="#151515" stroke-width="1.9" stroke-dasharray="11 7"/>
<path d="M480.51,667.71L490.63,789.44" fill="none" stroke="#151515" stroke-width="1.9" stroke-dasharray="11 7"/>
<path d="M492.65,790.69L501.39,787.2" fill="none" stroke="#151515" stroke-width="1.9" stroke-dasharray="11 7"/>
<circle cx="238.12" cy="643.31" r="1.7" fill="none" stroke="#222" stroke-width="1.1"/>
<circle cx="249.32" cy="638.33" r="1.7" fill="none" stroke="#222" stroke-width="1.1"/>
<circle cx="260.53" cy="634.6" r="1.7" fill="none" stroke="#222" stroke-width="1.1"/>
<circle cx="271.73" cy="639.58" r="1.7" fill="none" stroke="#222" stroke-width="1.1"/>
<circle cx="282.93" cy="645.8" r="1.7" fill="none" stroke="#222" stroke-width="1.1"/>
<circle cx="294.13" cy="639.58" r="1.7" fill="none" stroke="#222" stroke-width="1.1"/>
<circle cx="305.33" cy="642.56" r="1.7" fill="none" stroke="#222" stroke-width="1.1"/>
<circle cx="316.54" cy="641.57" r="1.7" fill="none" stroke="#222" stroke-width="1.1"/>
<circle cx="326.49" cy="644.56" r="1.7" fill="none" stroke="#222" stroke-width="1.1"/>
<circle cx="337.7" cy="644.56" r="1.7" fill="none" stroke="#222" stroke-width="1.1"/>
<circle cx="348.9" cy="573.61" r="1.7" fill="none" stroke="#222" stroke-width="1.1"/>
<circle cx="358.86" cy="607.21" r="1.7" fill="none" stroke="#222" stroke-width="1.1"/>
<circle cx="371.3" cy="576.1" r="1.7" fill="none" stroke="#222" stroke-width="1.1"/>
<circle cx="381.26" cy="689.37" r="1.7" fill="none" stroke="#222" stroke-width="1.1"/>
<circle cx="392.46" cy="704.3" r="1.7" fill="none" stroke="#222" stroke-width="1.1"/>
<circle cx="402.42" cy="717.99" r="1.7" fill="none" stroke="#222" stroke-width="1.1"/>
<circle cx="414.87" cy="706.79" r="1.7" fill="none" stroke="#222" stroke-width="1.1"/>
<circle cx="424.83" cy="638.33" r="1.7" fill="none" stroke="#222" stroke-width="1.1"/>
<circle cx="437.27" cy="628.37" r="1.7" fill="none" stroke="#222" stroke-width="1.1"/>
<circle cx="447.73" cy="649.53" r="1.7" fill="none" stroke="#222" stroke-width="1.1"/>
<circle cx="457.94" cy="680.65" r="1.7" fill="none" stroke="#222" stroke-width="1.1"/>
<circle cx="469.64" cy="681.9" r="1.7" fill="none" stroke="#222" stroke-width="1.1"/>
<circle cx="480.34" cy="665.72" r="1.7" fill="none" stroke="#222" stroke-width="1.1"/>
<circle cx="490.8" cy="791.43" r="1.7" fill="none" stroke="#222" stroke-width="1.1"/>
<circle cx="503.24" cy="786.45" r="1.7" fill="none" stroke="#222" stroke-width="1.1"/>
</g>
<g id="a2c2">
<line x1="665.63" y1="569.38" x2="961.87" y2="569.38" stroke="#111" stroke-width="1.8" stroke-linecap="square"/>
<line x1="663.89" y1="800.14" x2="960.63" y2="800.14" stroke="#999" stroke-width="1.8" stroke-linecap="square"/>
<line x1="663.89" y1="742.89" x2="663.89" y2="800.14" stroke="#999" stroke-width="1.8" stroke-linecap="square"/>
<line x1="960.63" y1="742.89" x2="960.63" y2="800.14" stroke="#aaa" stroke-width="1.8" stroke-linecap="square"/>
<line x1="658.16" y1="589.79" x2="664.39" y2="589.79" stroke="#999" stroke-width="1.6"/>
<line x1="658.16" y1="625.88" x2="664.39" y2="625.88" stroke="#333" stroke-width="1.6"/>
<line x1="658.16" y1="663.23" x2="664.39" y2="663.23" stroke="#ccc" stroke-width="1.6"/>
<line x1="658.16" y1="700.57" x2="664.39" y2="700.57" stroke="#333" stroke-width="1.6"/>
<line x1="658.16" y1="737.91" x2="664.39" y2="737.91" stroke="#333" stroke-width="1.6"/>
<line x1="658.16" y1="774.01" x2="664.39" y2="774.01" stroke="#777" stroke-width="1.6"/>
<line x1="722.14" y1="800.14" x2="722.14" y2="807.61" stroke="#444" stroke-width="1.6"/>
<line x1="779.65" y1="800.14" x2="779.65" y2="807.61" stroke="#444" stroke-width="1.6"/>
<line x1="835.66" y1="800.14" x2="835.66" y2="807.61" stroke="#444" stroke-width="1.6"/>
<line x1="894.16" y1="800.14" x2="894.16" y2="807.61" stroke="#444" stroke-width="1.6"/>
<line x1="950.67" y1="800.14" x2="950.67" y2="807.61" stroke="#444" stroke-width="1.6"/>
<text x="571.12" y="596.01" font-size="28.67" textLength="69.14" lengthAdjust="spacingAndGlyphs" fill="#000">−0.45</text>
<text x="571.12" y="668.21" font-size="28.67" textLength="69.14" lengthAdjust="spacingAndGlyphs" fill="#000">−0.55</text>
<text x="573.61" y="736.66" font-size="28.67" textLength="69.14" lengthAdjust="spacingAndGlyphs" fill="#000">−0.65</text>
<text x="669.32" y="838.73" font-size="32.97" textLength="18.55" lengthAdjust="spacingAndGlyphs" fill="#000">0</text>
<text x="725.29" y="838.73" font-size="32.97" textLength="18.55" lengthAdjust="spacingAndGlyphs" fill="#000">5</text>
<text x="769.48" y="838.73" font-size="32.97" textLength="37.1" lengthAdjust="spacingAndGlyphs" fill="#000">10</text>
<text x="825.78" y="838.73" font-size="32.97" textLength="37.1" lengthAdjust="spacingAndGlyphs" fill="#000">15</text>
<text x="878.72" y="838.73" font-size="32.97" textLength="37.1" lengthAdjust="spacingAndGlyphs" fill="#000">20</text>
<text x="934.52" y="838.73" font-size="32.97" textLength="37.1" lengthAdjust="spacingAndGlyphs" fill="#000">25</text>
<text transform="translate(558.43,854.1) rotate(-90)" x="-2.18" y="0" font-size="32.33" textLength="301.87" lengthAdjust="spacingAndGlyphs" fill="#000">Betweeness energy</text>
<text x="834.59" y="603.48" font-size="35.2" textLength="117.22" lengthAdjust="spacingAndGlyphs" fill="#c2672f">To MEP</text>
<path d="M677.56,632.47L684.33,633.73" fill="none" stroke="#151515" stroke-width="1.9" stroke-dasharray="11 7"/>
<path d="M687.38,632.42L699.4,613.87" fill="none" stroke="#151515" stroke-width="1.9" stroke-dasharray="11 7"/>
<path d="M701.43,613.95L710.24,630.35" fill="none" stroke="#151515" stroke-width="1.9" stroke-dasharray="11 7"/>
<path d="M712.67,633.45L720.66,640.72" fill="none" stroke="#151515" stroke-width="1.9" stroke-dasharray="11 7"/>
<path d="M722.96,640.24L732.77,618.5" fill="none" stroke="#151515" stroke-width="1.9" stroke-dasharray="11 7"/>
<path d="M735.08,618.01L743.8,625.8" fill="none" stroke="#151515" stroke-width="1.9" stroke-dasharray="11 7"/>
<path d="M747.01,628.16L756.02,633.57" fill="none" stroke="#151515" stroke-width="1.9" stroke-dasharray="11 7"/>
<path d="M759.69,634.16L766.99,632.54" fill="none" stroke="#151515" stroke-width="1.9" stroke-dasharray="11 7"/>
<path d="M770.84,631.48L778.25,629.01" fill="none" stroke="#151515" stroke-width="1.9" stroke-dasharray="11 7"/>
<path d="M780.59,626.42L789.66,586.76" fill="none" stroke="#151515" stroke-width="1.9" stroke-dasharray="11 7"/>
<path d="M791.06,586.57L801.59,605.95" fill="none" stroke="#151515" stroke-width="1.9" stroke-dasharray="11 7"/>
<path d="M803.29,605.86L813.01,581.69" fill="none" stroke="#151515" stroke-width="1.9" stroke-dasharray="11 7"/>
<path d="M814.09,581.8L825.36,647.56" fill="none" stroke="#151515" stroke-width="1.9" stroke-dasharray="11 7"/>
<path d="M826,651.51L835.85,716.02" fill="none" stroke="#151515" stroke-width="1.9" stroke-dasharray="11 7"/>
<path d="M836.51,719.96L847.75,782" fill="none" stroke="#151515" stroke-width="1.9" stroke-dasharray="11 7"/>
<path d="M849.82,784.99L856.84,789.16" fill="none" stroke="#151515" stroke-width="1.9" stroke-dasharray="11 7"/>
<path d="M858.85,788.21L870.72,707.53" fill="none" stroke="#151515" stroke-width="1.9" stroke-dasharray="11 7"/>
<path d="M871.74,707.41L881.48,732.31" fill="none" stroke="#151515" stroke-width="1.9" stroke-dasharray="11 7"/>
<path d="M883.46,732.61L892.91,720.8" fill="none" stroke="#151515" stroke-width="1.9" stroke-dasharray="11 7"/>
<path d="M895.6,717.86L904.42,709.42" fill="none" stroke="#151515" stroke-width="1.9" stroke-dasharray="11 7"/>
<path d="M907.55,709.11L915.87,714.43" fill="none" stroke="#151515" stroke-width="1.9" stroke-dasharray="11 7"/>
<path d="M918.86,717.02L926.96,726.43" fill="none" stroke="#151515" stroke-width="1.9" stroke-dasharray="11 7"/>
<path d="M928.86,729.86L940.12,765.87" fill="none" stroke="#151515" stroke-width="1.9" stroke-dasharray="11 7"/>
<path d="M941.53,769.61L951.09,790.85" fill="none" stroke="#151515" stroke-width="1.9" stroke-dasharray="11 7"/>
<circle cx="675.59" cy="632.11" r="1.7" fill="none" stroke="#222" stroke-width="1.1"/>
<circle cx="686.29" cy="634.1" r="1.7" fill="none" stroke="#222" stroke-width="1.1"/>
<circle cx="700.48" cy="612.19" r="1.7" fill="none" stroke="#222" stroke-width="1.1"/>
<circle cx="711.19" cy="632.11" r="1.7" fill="none" stroke="#222" stroke-width="1.1"/>
<circle cx="722.14" cy="642.07" r="1.7" fill="none" stroke="#222" stroke-width="1.1"/>
<circle cx="733.59" cy="616.67" r="1.7" fill="none" stroke="#222" stroke-width="1.1"/>
<circle cx="745.29" cy="627.13" r="1.7" fill="none" stroke="#222" stroke-width="1.1"/>
<circle cx="757.74" cy="634.6" r="1.7" fill="none" stroke="#222" stroke-width="1.1"/>
<circle cx="768.94" cy="632.11" r="1.7" fill="none" stroke="#222" stroke-width="1.1"/>
<circle cx="780.14" cy="628.37" r="1.7" fill="none" stroke="#222" stroke-width="1.1"/>
<circle cx="790.1" cy="584.81" r="1.7" fill="none" stroke="#222" stroke-width="1.1"/>
<circle cx="802.55" cy="607.71" r="1.7" fill="none" stroke="#222" stroke-width="1.1"/>
<circle cx="813.75" cy="579.83" r="1.7" fill="none" stroke="#222" stroke-width="1.1"/>
<circle cx="825.7" cy="649.53" r="1.7" fill="none" stroke="#222" stroke-width="1.1"/>
<circle cx="836.16" cy="717.99" r="1.7" fill="none" stroke="#222" stroke-width="1.1"/>
<circle cx="848.11" cy="783.96" r="1.7" fill="none" stroke="#222" stroke-width="1.1"/>
<circle cx="858.56" cy="790.19" r="1.7" fill="none" stroke="#222" stroke-width="1.1"/>
<circle cx="871.01" cy="705.55" r="1.7" fill="none" stroke="#222" stroke-width="1.1"/>
<circle cx="882.21" cy="734.17" r="1.7" fill="none" stroke="#222" stroke-width="1.1"/>
<circle cx="894.16" cy="719.24" r="1.7" fill="none" stroke="#222" stroke-width="1.1"/>
<circle cx="905.86" cy="708.04" r="1.7" fill="none" stroke="#222" stroke-width="1.1"/>
<circle cx="917.56" cy="715.5" r="1.7" fill="none" stroke="#222" stroke-width="1.1"/>
<circle cx="928.26" cy="727.95" r="1.7" fill="none" stroke="#222" stroke-width="1.1"/>
<circle cx="940.71" cy="767.78" r="1.7" fill="none" stroke="#222" stroke-width="1.1"/>
<circle cx="951.91" cy="792.68" r="1.7" fill="none" stroke="#222" stroke-width="1.1"/>
</g>
<g id="a2c3">
<line x1="1120.74" y1="564.4" x2="1120.74" y2="805.12" stroke="#666" stroke-width="1.8" stroke-linecap="square"/>
<line x1="1120.74" y1="564.4" x2="1456.81" y2="564.4" stroke="#555" stroke-width="1.8" stroke-linecap="square"/>
<line x1="1456.81" y1="564.4" x2="1456.81" y2="805.12" stroke="#666" stroke-width="1.8" stroke-linecap="square"/>
<line x1="1120.74" y1="805.12" x2="1456.81" y2="805.12" stroke="#444" stroke-width="1.8" stroke-linecap="square"/>
<line x1="1114.51" y1="607.71" x2="1120.74" y2="607.71" stroke="#333" stroke-width="1.6"/>
<line x1="1114.51" y1="669.45" x2="1120.74" y2="669.45" stroke="#333" stroke-width="1.6"/>
<line x1="1114.51" y1="731.19" x2="1120.74" y2="731.19" stroke="#bbb" stroke-width="1.6"/>
<line x1="1114.51" y1="794.67" x2="1120.74" y2="794.67" stroke="#333" stroke-width="1.6"/>
<line x1="1185.46" y1="805.12" x2="1185.46" y2="811.35" stroke="#444" stroke-width="1.6"/>
<line x1="1249.69" y1="805.12" x2="1249.69" y2="811.35" stroke="#444" stroke-width="1.6"/>
<line x1="1314.91" y1="805.12" x2="1314.91" y2="811.35" stroke="#444" stroke-width="1.6"/>
<line x1="1379.64" y1="805.12" x2="1379.64" y2="811.35" stroke="#444" stroke-width="1.6"/>
<line x1="1444.36" y1="805.12" x2="1444.36" y2="811.35" stroke="#444" stroke-width="1.6"/>
<text x="1060.99" y="619.66" font-size="28.67" textLength="49.76" lengthAdjust="spacingAndGlyphs" fill="#000">−20</text>
<text x="1060.62" y="675.67" font-size="28.67" textLength="49.76" lengthAdjust="spacingAndGlyphs" fill="#000">−25</text>
<text x="1060.99" y="739.15" font-size="28.67" textLength="49.76" lengthAdjust="spacingAndGlyphs" fill="#000">−30</text>
<text x="1060.62" y="795.17" font-size="28.67" textLength="49.76" lengthAdjust="spacingAndGlyphs" fill="#000">−35</text>
<text x="1111.48" y="846.7" font-size="32.97" textLength="18.55" lengthAdjust="spacingAndGlyphs" fill="#000">0</text>
<text x="1174.92" y="846.7" font-size="32.97" textLength="18.55" lengthAdjust="spacingAndGlyphs" fill="#000">5</text>
<text x="1240.02" y="846.7" font-size="32.97" textLength="37.1" lengthAdjust="spacingAndGlyphs" fill="#000">10</text>
<text x="1304.03" y="846.7" font-size="32.97" textLength="37.1" lengthAdjust="spacingAndGlyphs" fill="#000">15</text>
<text x="1367.43" y="846.7" font-size="32.97" textLength="37.1" lengthAdjust="spacingAndGlyphs" fill="#000">20</text>
<text x="1429.46" y="846.7" font-size="32.97" textLength="37.1" lengthAdjust="spacingAndGlyphs" fill="#000">25</text>
<text transform="translate(1038.21,804.5) rotate(-90)" x="-1.34" y="0" font-size="33.4" textLength="217.18" lengthAdjust="spacingAndGlyphs" fill="#000">Graph energy</text>
<text x="1325.78" y="600.99" font-size="37.15" textLength="118.48" lengthAdjust="spacingAndGlyphs" fill="#c2672f">To MEP</text>
<polyline points="1133.18,732.93 1146.38,736.66 1160.57,734.17 1171.77,573.11 1185.46,580.58 1198.41,602.24 1211.1,613.44 1224.79,595.27 1237.74,573.11 1250.19,629.62 1262.14,616.67 1275.83,616.67 1288.77,675.18 1301.97,672.69 1314.91,668.95 1328.6,668.95 1341.05,730.44 1354.74,744.13 1367.19,732.93 1379.64,741.64 1392.83,731.69 1405.78,730.44 1418.22,766.54 1431.91,796.41 1445.61,745.38" fill="none" stroke="#2c2c2c" stroke-width="1.8" stroke-dasharray="7 2" stroke-linejoin="round"/>
<circle cx="1133.18" cy="732.93" r="2.7" fill="#fff" stroke="#3a3a3a" stroke-width="1.4"/>
<circle cx="1146.38" cy="736.66" r="2.7" fill="#fff" stroke="#3a3a3a" stroke-width="1.4"/>
<circle cx="1160.57" cy="734.17" r="2.7" fill="#fff" stroke="#3a3a3a" stroke-width="1.4"/>
<circle cx="1171.77" cy="573.11" r="2.7" fill="#fff" stroke="#3a3a3a" stroke-width="1.4"/>
<circle cx="1185.46" cy="580.58" r="2.7" fill="#fff" stroke="#3a3a3a" stroke-width="1.4"/>
<circle cx="1198.41" cy="602.24" r="2.7" fill="#fff" stroke="#3a3a3a" stroke-width="1.4"/>
<circle cx="1211.1" cy="613.44" r="2.7" fill="#fff" stroke="#3a3a3a" stroke-width="1.4"/>
<circle cx="1224.79" cy="595.27" r="2.7" fill="#fff" stroke="#3a3a3a" stroke-width="1.4"/>
<circle cx="1237.74" cy="573.11" r="2.7" fill="#fff" stroke="#3a3a3a" stroke-width="1.4"/>
<circle cx="1250.19" cy="629.62" r="2.7" fill="#fff" stroke="#3a3a3a" stroke-width="1.4"/>
<circle cx="1262.14" cy="616.67" r="2.7" fill="#fff" stroke="#3a3a3a" stroke-width="1.4"/>
<circle cx="1275.83" cy="616.67" r="2.7" fill="#fff" stroke="#3a3a3a" stroke-width="1.4"/>
<circle cx="1288.77" cy="675.18" r="2.7" fill="#fff" stroke="#3a3a3a" stroke-width="1.4"/>
<circle cx="1301.97" cy="672.69" r="2.7" fill="#fff" stroke="#3a3a3a" stroke-width="1.4"/>
<circle cx="1314.91" cy="668.95" r="2.7" fill="#fff" stroke="#3a3a3a" stroke-width="1.4"/>
<circle cx="1328.6" cy="668.95" r="2.7" fill="#fff" stroke="#3a3a3a" stroke-width="1.4"/>
<circle cx="1341.05" cy="730.44" r="2.7" fill="#fff" stroke="#3a3a3a" stroke-width="1.4"/>
<circle cx="1354.74" cy="744.13" r="2.7" fill="#fff" stroke="#3a3a3a" stroke-width="1.4"/>
<circle cx="1367.19" cy="732.93" r="2.7" fill="#fff" stroke="#3a3a3a" stroke-width="1.4"/>
<circle cx="1379.64" cy="741.64" r="2.7" fill="#fff" stroke="#3a3a3a" stroke-width="1.4"/>
<circle cx="1392.83" cy="731.69" r="2.7" fill="#fff" stroke="#3a3a3a" stroke-width="1.4"/>
<circle cx="1405.78" cy="730.44" r="2.7" fill="#fff" stroke="#3a3a3a" stroke-width="1.4"/>
<circle cx="1418.22" cy="766.54" r="2.7" fill="#fff" stroke="#3a3a3a" stroke-width="1.4"/>
<circle cx="1431.91" cy="796.41" r="2.7" fill="#fff" stroke="#3a3a3a" stroke-width="1.4"/>
<circle cx="1445.61" cy="745.38" r="2.7" fill="#fff" stroke="#3a3a3a" stroke-width="1.4"/>
</g>
<g id="a2c4">
<line x1="1567.05" y1="564.4" x2="1567.05" y2="805.12" stroke="#555" stroke-width="1.8" stroke-linecap="square"/>
<line x1="1567.05" y1="564.4" x2="1904.36" y2="564.4" stroke="#555" stroke-width="1.8" stroke-linecap="square"/>
<line x1="1904.36" y1="564.4" x2="1904.36" y2="805.12" stroke="#666" stroke-width="1.8" stroke-linecap="square"/>
<line x1="1567.05" y1="805.12" x2="1904.36" y2="805.12" stroke="#444" stroke-width="1.8" stroke-linecap="square"/>
<line x1="1559.58" y1="567.88" x2="1567.05" y2="567.88" stroke="#333" stroke-width="1.6"/>
<line x1="1559.58" y1="607.21" x2="1567.05" y2="607.21" stroke="#333" stroke-width="1.6"/>
<line x1="1559.58" y1="645.8" x2="1567.05" y2="645.8" stroke="#111" stroke-width="1.6"/>
<line x1="1559.58" y1="686.88" x2="1567.05" y2="686.88" stroke="#333" stroke-width="1.6"/>
<line x1="1559.58" y1="725.46" x2="1567.05" y2="725.46" stroke="#333" stroke-width="1.6"/>
<line x1="1559.58" y1="764.05" x2="1567.05" y2="764.05" stroke="#333" stroke-width="1.6"/>
<line x1="1559.58" y1="803.88" x2="1567.05" y2="803.88" stroke="#333" stroke-width="1.6"/>
<line x1="1630.53" y1="805.12" x2="1630.53" y2="811.35" stroke="#444" stroke-width="1.6"/>
<line x1="1696.99" y1="805.12" x2="1696.99" y2="811.35" stroke="#444" stroke-width="1.6"/>
<line x1="1761.72" y1="805.12" x2="1761.72" y2="811.35" stroke="#444" stroke-width="1.6"/>
<line x1="1825.94" y1="805.12" x2="1825.94" y2="811.35" stroke="#444" stroke-width="1.6"/>
<line x1="1891.91" y1="805.12" x2="1891.91" y2="811.35" stroke="#444" stroke-width="1.6"/>
<text x="1509.82" y="576.1" font-size="28.67" textLength="48.45" lengthAdjust="spacingAndGlyphs" fill="#000">−10</text>
<text x="1509.75" y="618.42" font-size="28.67" textLength="48.45" lengthAdjust="spacingAndGlyphs" fill="#000">−12</text>
<text x="1508.82" y="661.98" font-size="28.67" textLength="48.45" lengthAdjust="spacingAndGlyphs" fill="#000">−14</text>
<text x="1509.68" y="698.08" font-size="28.67" textLength="48.45" lengthAdjust="spacingAndGlyphs" fill="#000">−16</text>
<text x="1509.53" y="736.66" font-size="28.67" textLength="48.45" lengthAdjust="spacingAndGlyphs" fill="#000">−18</text>
<text x="1509.82" y="770.27" font-size="28.67" textLength="48.45" lengthAdjust="spacingAndGlyphs" fill="#000">−20</text>
<text x="1509.75" y="805.12" font-size="28.67" textLength="48.45" lengthAdjust="spacingAndGlyphs" fill="#000">−22</text>
<text x="1560.28" y="851.18" font-size="32.97" textLength="18.55" lengthAdjust="spacingAndGlyphs" fill="#000">0</text>
<text x="1624.96" y="851.18" font-size="32.97" textLength="18.55" lengthAdjust="spacingAndGlyphs" fill="#000">5</text>
<text x="1690.06" y="851.18" font-size="32.97" textLength="37.1" lengthAdjust="spacingAndGlyphs" fill="#000">10</text>
<text x="1754.57" y="851.18" font-size="32.97" textLength="37.1" lengthAdjust="spacingAndGlyphs" fill="#000">15</text>
<text x="1817.48" y="851.18" font-size="32.97" textLength="37.1" lengthAdjust="spacingAndGlyphs" fill="#000">20</text>
<text x="1881.99" y="851.18" font-size="32.97" textLength="37.1" lengthAdjust="spacingAndGlyphs" fill="#000">25</text>
<text transform="translate(1495.17,805) rotate(-90)" x="-2.24" y="0" font-size="33.25" textLength="229.16" lengthAdjust="spacingAndGlyphs" fill="#000">Randic energy</text>
<text x="1783.29" y="603.48" font-size="35.2" textLength="118.48" lengthAdjust="spacingAndGlyphs" fill="#c2672f">To MEP</text>
<polyline points="1579.49,700.57 1593.18,706.29 1606.38,701.81 1618.58,572.36 1631.27,584.81 1643.72,615.93 1657.41,635.84 1670.85,654.51 1684.05,634.6 1697.74,676.92 1708.94,633.35 1723.13,625.88 1735.08,603.48 1748.77,603.48 1761.72,595.27 1774.91,597.26 1787.36,695.59 1801.05,713.01 1813.5,700.07 1825.94,705.55 1839.14,697.58 1852.83,692.35 1865.78,760.31 1879.47,795.17 1892.66,735.42" fill="none" stroke="#2c2c2c" stroke-width="1.8" stroke-dasharray="7 2" stroke-linejoin="round"/>
<circle cx="1579.49" cy="700.57" r="2.7" fill="#fff" stroke="#3a3a3a" stroke-width="1.4"/>
<circle cx="1593.18" cy="706.29" r="2.7" fill="#fff" stroke="#3a3a3a" stroke-width="1.4"/>
<circle cx="1606.38" cy="701.81" r="2.7" fill="#fff" stroke="#3a3a3a" stroke-width="1.4"/>
<circle cx="1618.58" cy="572.36" r="2.7" fill="#fff" stroke="#3a3a3a" stroke-width="1.4"/>
<circle cx="1631.27" cy="584.81" r="2.7" fill="#fff" stroke="#3a3a3a" stroke-width="1.4"/>
<circle cx="1643.72" cy="615.93" r="2.7" fill="#fff" stroke="#3a3a3a" stroke-width="1.4"/>
<circle cx="1657.41" cy="635.84" r="2.7" fill="#fff" stroke="#3a3a3a" stroke-width="1.4"/>
<circle cx="1670.85" cy="654.51" r="2.7" fill="#fff" stroke="#3a3a3a" stroke-width="1.4"/>
<circle cx="1684.05" cy="634.6" r="2.7" fill="#fff" stroke="#3a3a3a" stroke-width="1.4"/>
<circle cx="1697.74" cy="676.92" r="2.7" fill="#fff" stroke="#3a3a3a" stroke-width="1.4"/>
<circle cx="1708.94" cy="633.35" r="2.7" fill="#fff" stroke="#3a3a3a" stroke-width="1.4"/>
<circle cx="1723.13" cy="625.88" r="2.7" fill="#fff" stroke="#3a3a3a" stroke-width="1.4"/>
<circle cx="1735.08" cy="603.48" r="2.7" fill="#fff" stroke="#3a3a3a" stroke-width="1.4"/>
<circle cx="1748.77" cy="603.48" r="2.7" fill="#fff" stroke="#3a3a3a" stroke-width="1.4"/>
<circle cx="1761.72" cy="595.27" r="2.7" fill="#fff" stroke="#3a3a3a" stroke-width="1.4"/>
<circle cx="1774.91" cy="597.26" r="2.7" fill="#fff" stroke="#3a3a3a" stroke-width="1.4"/>
<circle cx="1787.36" cy="695.59" r="2.7" fill="#fff" stroke="#3a3a3a" stroke-width="1.4"/>
<circle cx="1801.05" cy="713.01" r="2.7" fill="#fff" stroke="#3a3a3a" stroke-width="1.4"/>
<circle cx="1813.5" cy="700.07" r="2.7" fill="#fff" stroke="#3a3a3a" stroke-width="1.4"/>
<circle cx="1825.94" cy="705.55" r="2.7" fill="#fff" stroke="#3a3a3a" stroke-width="1.4"/>
<circle cx="1839.14" cy="697.58" r="2.7" fill="#fff" stroke="#3a3a3a" stroke-width="1.4"/>
<circle cx="1852.83" cy="692.35" r="2.7" fill="#fff" stroke="#3a3a3a" stroke-width="1.4"/>
<circle cx="1865.78" cy="760.31" r="2.7" fill="#fff" stroke="#3a3a3a" stroke-width="1.4"/>
<circle cx="1879.47" cy="795.17" r="2.7" fill="#fff" stroke="#3a3a3a" stroke-width="1.4"/>
<circle cx="1892.66" cy="735.42" r="2.7" fill="#fff" stroke="#3a3a3a" stroke-width="1.4"/>
</g>
<g id="a2c5">
<line x1="2014.62" y1="564.78" x2="2014.62" y2="805.13" stroke="#666" stroke-width="1.8" stroke-linecap="square"/>
<line x1="2014.62" y1="564.78" x2="2349.99" y2="564.78" stroke="#555" stroke-width="1.8" stroke-linecap="square"/>
<line x1="2349.99" y1="564.78" x2="2349.99" y2="805.13" stroke="#888" stroke-width="1.8" stroke-linecap="square"/>
<line x1="2014.62" y1="805.13" x2="2349.99" y2="805.13" stroke="#555" stroke-width="1.8" stroke-linecap="square"/>
<line x1="2005.68" y1="572.44" x2="2014.62" y2="572.44" stroke="#333" stroke-width="1.6"/>
<line x1="2005.68" y1="610.75" x2="2014.62" y2="610.75" stroke="#333" stroke-width="1.6"/>
<line x1="2005.68" y1="651.62" x2="2014.62" y2="651.62" stroke="#333" stroke-width="1.6"/>
<line x1="2005.68" y1="689.94" x2="2014.62" y2="689.94" stroke="#333" stroke-width="1.6"/>
<line x1="2005.68" y1="730.8" x2="2014.62" y2="730.8" stroke="#333" stroke-width="1.6"/>
<line x1="2005.68" y1="771.67" x2="2014.62" y2="771.67" stroke="#333" stroke-width="1.6"/>
<line x1="2078.47" y1="805.13" x2="2078.47" y2="812.03" stroke="#444" stroke-width="1.6"/>
<line x1="2142.33" y1="805.13" x2="2142.33" y2="812.03" stroke="#444" stroke-width="1.6"/>
<line x1="2208.74" y1="805.13" x2="2208.74" y2="812.03" stroke="#444" stroke-width="1.6"/>
<line x1="2272.6" y1="805.13" x2="2272.6" y2="812.03" stroke="#444" stroke-width="1.6"/>
<line x1="2339.01" y1="805.13" x2="2339.01" y2="812.03" stroke="#444" stroke-width="1.6"/>
<text x="1952.86" y="582.15" font-size="28.67" textLength="46.29" lengthAdjust="spacingAndGlyphs" fill="#000">100</text>
<text x="1968.33" y="621.23" font-size="28.67" textLength="30.86" lengthAdjust="spacingAndGlyphs" fill="#000">90</text>
<text x="1968.33" y="652.39" font-size="28.67" textLength="30.86" lengthAdjust="spacingAndGlyphs" fill="#000">80</text>
<text x="1968.33" y="694.53" font-size="28.67" textLength="30.86" lengthAdjust="spacingAndGlyphs" fill="#000">70</text>
<text x="1968.33" y="734.13" font-size="28.67" textLength="30.86" lengthAdjust="spacingAndGlyphs" fill="#000">60</text>
<text x="1968.33" y="773.72" font-size="28.67" textLength="30.86" lengthAdjust="spacingAndGlyphs" fill="#000">50</text>
<text x="2004.09" y="852.9" font-size="32.97" textLength="18.55" lengthAdjust="spacingAndGlyphs" fill="#000">0</text>
<text x="2070.45" y="852.9" font-size="32.97" textLength="18.55" lengthAdjust="spacingAndGlyphs" fill="#000">5</text>
<text x="2134.94" y="852.9" font-size="32.97" textLength="37.1" lengthAdjust="spacingAndGlyphs" fill="#000">10</text>
<text x="2198.59" y="852.9" font-size="32.97" textLength="37.1" lengthAdjust="spacingAndGlyphs" fill="#000">15</text>
<text x="2261.84" y="852.9" font-size="32.97" textLength="37.1" lengthAdjust="spacingAndGlyphs" fill="#000">20</text>
<text x="2325.48" y="852.9" font-size="32.97" textLength="37.1" lengthAdjust="spacingAndGlyphs" fill="#000">25</text>
<text transform="translate(1939.48,817.6) rotate(-90)" x="-2.14" y="0" font-size="31.74" textLength="259.31" lengthAdjust="spacingAndGlyphs" fill="#000">Laplacian energy</text>
<text x="2060.27" y="603.86" font-size="36.11" textLength="117.69" lengthAdjust="spacingAndGlyphs" fill="#c2672f">To MEP</text>
<polyline points="2025.6,585.21 2039.65,583.42 2052.93,585.98 2065.7,761.71 2078.47,759.16 2090.73,731.57 2104.02,726.46 2117.3,786.49 2130.33,796.19 2143.1,753.28 2155.1,734.13 2170.43,733.36 2181.92,625.57 2195.97,628.12 2208.74,629.91 2222.28,629.91 2233.77,586.74 2247.06,571.93 2260.34,582.15 2273.88,575.76 2287.41,579.08 2301.21,577.55 2312.19,668.99 2326.24,638.34 2338.5,702.71" fill="none" stroke="#2c2c2c" stroke-width="1.8" stroke-dasharray="7 2" stroke-linejoin="round"/>
<circle cx="2025.6" cy="585.21" r="2.7" fill="#fff" stroke="#3a3a3a" stroke-width="1.4"/>
<circle cx="2039.65" cy="583.42" r="2.7" fill="#fff" stroke="#3a3a3a" stroke-width="1.4"/>
<circle cx="2052.93" cy="585.98" r="2.7" fill="#fff" stroke="#3a3a3a" stroke-width="1.4"/>
<circle cx="2065.7" cy="761.71" r="2.7" fill="#fff" stroke="#3a3a3a" stroke-width="1.4"/>
<circle cx="2078.47" cy="759.16" r="2.7" fill="#fff" stroke="#3a3a3a" stroke-width="1.4"/>
<circle cx="2090.73" cy="731.57" r="2.7" fill="#fff" stroke="#3a3a3a" stroke-width="1.4"/>
<circle cx="2104.02" cy="726.46" r="2.7" fill="#fff" stroke="#3a3a3a" stroke-width="1.4"/>
<circle cx="2117.3" cy="786.49" r="2.7" fill="#fff" stroke="#3a3a3a" stroke-width="1.4"/>
<circle cx="2130.33" cy="796.19" r="2.7" fill="#fff" stroke="#3a3a3a" stroke-width="1.4"/>
<circle cx="2143.1" cy="753.28" r="2.7" fill="#fff" stroke="#3a3a3a" stroke-width="1.4"/>
<circle cx="2155.1" cy="734.13" r="2.7" fill="#fff" stroke="#3a3a3a" stroke-width="1.4"/>
<circle cx="2170.43" cy="733.36" r="2.7" fill="#fff" stroke="#3a3a3a" stroke-width="1.4"/>
<circle cx="2181.92" cy="625.57" r="2.7" fill="#fff" stroke="#3a3a3a" stroke-width="1.4"/>
<circle cx="2195.97" cy="628.12" r="2.7" fill="#fff" stroke="#3a3a3a" stroke-width="1.4"/>
<circle cx="2208.74" cy="629.91" r="2.7" fill="#fff" stroke="#3a3a3a" stroke-width="1.4"/>
<circle cx="2222.28" cy="629.91" r="2.7" fill="#fff" stroke="#3a3a3a" stroke-width="1.4"/>
<circle cx="2233.77" cy="586.74" r="2.7" fill="#fff" stroke="#3a3a3a" stroke-width="1.4"/>
<circle cx="2247.06" cy="571.93" r="2.7" fill="#fff" stroke="#3a3a3a" stroke-width="1.4"/>
<circle cx="2260.34" cy="582.15" r="2.7" fill="#fff" stroke="#3a3a3a" stroke-width="1.4"/>
<circle cx="2273.88" cy="575.76" r="2.7" fill="#fff" stroke="#3a3a3a" stroke-width="1.4"/>
<circle cx="2287.41" cy="579.08" r="2.7" fill="#fff" stroke="#3a3a3a" stroke-width="1.4"/>
<circle cx="2301.21" cy="577.55" r="2.7" fill="#fff" stroke="#3a3a3a" stroke-width="1.4"/>
<circle cx="2312.19" cy="668.99" r="2.7" fill="#fff" stroke="#3a3a3a" stroke-width="1.4"/>
<circle cx="2326.24" cy="638.34" r="2.7" fill="#fff" stroke="#3a3a3a" stroke-width="1.4"/>
<circle cx="2338.5" cy="702.71" r="2.7" fill="#fff" stroke="#3a3a3a" stroke-width="1.4"/>
</g>
<g id="a3c1">
<line x1="229.41" y1="932.9" x2="229.41" y2="1165.17" stroke="#888" stroke-width="1.8" stroke-linecap="square"/>
<line x1="229.41" y1="932.9" x2="513.2" y2="932.9" stroke="#aaa" stroke-width="1.8" stroke-linecap="square"/>
<line x1="513.2" y1="932.9" x2="513.2" y2="956.05" stroke="#aaa" stroke-width="1.8" stroke-linecap="square"/>
<line x1="229.41" y1="1165.17" x2="511.96" y2="1165.17" stroke="#111" stroke-width="1.8" stroke-linecap="square"/>
<line x1="220.69" y1="953.07" x2="229.41" y2="953.07" stroke="#444" stroke-width="1.6"/>
<line x1="220.69" y1="1022.02" x2="229.41" y2="1022.02" stroke="#444" stroke-width="1.6"/>
<line x1="220.69" y1="1091.73" x2="229.41" y2="1091.73" stroke="#444" stroke-width="1.6"/>
<line x1="220.69" y1="1124.09" x2="229.41" y2="1124.09" stroke="#aaa" stroke-width="1.6"/>
<line x1="220.69" y1="1165.17" x2="229.41" y2="1165.17" stroke="#444" stroke-width="1.6"/>
<line x1="282.93" y1="1165.17" x2="282.93" y2="1171.39" stroke="#444" stroke-width="1.6"/>
<line x1="392.46" y1="1165.17" x2="392.46" y2="1171.39" stroke="#444" stroke-width="1.6"/>
<line x1="447.23" y1="1165.17" x2="447.23" y2="1171.39" stroke="#444" stroke-width="1.6"/>
<text x="143.61" y="959.79" font-size="28.67" textLength="69.14" lengthAdjust="spacingAndGlyphs" fill="#000">−0.35</text>
<text x="143.61" y="1030.74" font-size="28.67" textLength="69.14" lengthAdjust="spacingAndGlyphs" fill="#000">−0.45</text>
<text x="144.85" y="1097.95" font-size="28.67" textLength="69.14" lengthAdjust="spacingAndGlyphs" fill="#000">−0.55</text>
<text x="143.61" y="1173.88" font-size="28.67" textLength="69.14" lengthAdjust="spacingAndGlyphs" fill="#000">−0.65</text>
<text x="221.4" y="1208.73" font-size="32.97" textLength="18.55" lengthAdjust="spacingAndGlyphs" fill="#000">0</text>
<text x="277.37" y="1208.73" font-size="32.97" textLength="18.55" lengthAdjust="spacingAndGlyphs" fill="#000">5</text>
<text x="323.79" y="1208.73" font-size="32.97" textLength="37.1" lengthAdjust="spacingAndGlyphs" fill="#000">10</text>
<text x="378.35" y="1208.73" font-size="32.97" textLength="37.1" lengthAdjust="spacingAndGlyphs" fill="#000">15</text>
<text x="432.54" y="1208.73" font-size="32.97" textLength="37.1" lengthAdjust="spacingAndGlyphs" fill="#000">20</text>
<text x="485.85" y="1208.73" font-size="32.97" textLength="37.1" lengthAdjust="spacingAndGlyphs" fill="#000">25</text>
<text transform="translate(115.36,1162.5) rotate(-90)" x="-2.18" y="0" font-size="32.23" textLength="223.95" lengthAdjust="spacingAndGlyphs" fill="#000">Degree energy</text>
<text x="370.98" y="969.75" font-size="37.15" textLength="125.01" lengthAdjust="spacingAndGlyphs" fill="#1ca05d">To ProB</text>
<text x="316.54" y="1261.01" font-size="37.77" textLength="96.19" lengthAdjust="spacingAndGlyphs" fill="#000">Index</text>
<path d="M240.79,956.61L249.89,959.23" fill="none" stroke="#151515" stroke-width="1.9" stroke-dasharray="11 7"/>
<path d="M252.63,957.96L260.46,940.45" fill="none" stroke="#151515" stroke-width="1.9" stroke-dasharray="11 7"/>
<path d="M261.39,940.62L271.61,1108.4" fill="none" stroke="#151515" stroke-width="1.9" stroke-dasharray="11 7"/>
<path d="M273.72,1110.62L280.94,1111.42" fill="none" stroke="#151515" stroke-width="1.9" stroke-dasharray="11 7"/>
<path d="M284.82,1112.3L291.75,1114.72" fill="none" stroke="#151515" stroke-width="1.9" stroke-dasharray="11 7"/>
<path d="M295.62,1115.15L302.6,1114.36" fill="none" stroke="#151515" stroke-width="1.9" stroke-dasharray="11 7"/>
<path d="M305.74,1112.5L314.88,1099.58" fill="none" stroke="#151515" stroke-width="1.9" stroke-dasharray="11 7"/>
<path d="M316.89,1099.76L326.89,1121.04" fill="none" stroke="#151515" stroke-width="1.9" stroke-dasharray="11 7"/>
<path d="M329.15,1124.26L337.53,1132.63" fill="none" stroke="#151515" stroke-width="1.9" stroke-dasharray="11 7"/>
<path d="M340.86,1134.62L346.98,1136.46" fill="none" stroke="#151515" stroke-width="1.9" stroke-dasharray="11 7"/>
<path d="M349.9,1138.77L359.1,1154.72" fill="none" stroke="#151515" stroke-width="1.9" stroke-dasharray="11 7"/>
<path d="M361.44,1154.97L369.97,1145.49" fill="none" stroke="#151515" stroke-width="1.9" stroke-dasharray="11 7"/>
<path d="M371.78,1142.06L381.28,1103.63" fill="none" stroke="#151515" stroke-width="1.9" stroke-dasharray="11 7"/>
<path d="M382.11,1099.72L392.12,1042.66" fill="none" stroke="#151515" stroke-width="1.9" stroke-dasharray="11 7"/>
<path d="M394.21,1039.72L401.92,1035.44" fill="none" stroke="#151515" stroke-width="1.9" stroke-dasharray="11 7"/>
<path d="M404.06,1036.43L414.48,1088.52" fill="none" stroke="#151515" stroke-width="1.9" stroke-dasharray="11 7"/>
<path d="M415.34,1088.54L424.36,1051.35" fill="none" stroke="#151515" stroke-width="1.9" stroke-dasharray="11 7"/>
<path d="M426.72,1048.78L434.13,1046.31" fill="none" stroke="#151515" stroke-width="1.9" stroke-dasharray="11 7"/>
<path d="M436.76,1043.81L446.5,1018.91" fill="none" stroke="#151515" stroke-width="1.9" stroke-dasharray="11 7"/>
<path d="M448.13,1018.83L457.03,1036.42" fill="none" stroke="#151515" stroke-width="1.9" stroke-dasharray="11 7"/>
<path d="M459.08,1036.57L467.24,1024.91" fill="none" stroke="#151515" stroke-width="1.9" stroke-dasharray="11 7"/>
<path d="M469.66,1024.82L478.33,1035.41" fill="none" stroke="#151515" stroke-width="1.9" stroke-dasharray="11 7"/>
<path d="M481.12,1038.25L489.27,1045.13" fill="none" stroke="#151515" stroke-width="1.9" stroke-dasharray="11 7"/>
<path d="M492.24,1045.04L500.55,1037.1" fill="none" stroke="#151515" stroke-width="1.9" stroke-dasharray="11 7"/>
<circle cx="238.87" cy="956.05" r="1.7" fill="none" stroke="#222" stroke-width="1.1"/>
<circle cx="251.81" cy="959.79" r="1.7" fill="none" stroke="#222" stroke-width="1.1"/>
<circle cx="261.27" cy="938.63" r="1.7" fill="none" stroke="#222" stroke-width="1.1"/>
<circle cx="271.73" cy="1110.4" r="1.7" fill="none" stroke="#222" stroke-width="1.1"/>
<circle cx="282.93" cy="1111.64" r="1.7" fill="none" stroke="#222" stroke-width="1.1"/>
<circle cx="293.63" cy="1115.38" r="1.7" fill="none" stroke="#222" stroke-width="1.1"/>
<circle cx="304.59" cy="1114.13" r="1.7" fill="none" stroke="#222" stroke-width="1.1"/>
<circle cx="316.04" cy="1097.95" r="1.7" fill="none" stroke="#222" stroke-width="1.1"/>
<circle cx="327.74" cy="1122.85" r="1.7" fill="none" stroke="#222" stroke-width="1.1"/>
<circle cx="338.94" cy="1134.05" r="1.7" fill="none" stroke="#222" stroke-width="1.1"/>
<circle cx="348.9" cy="1137.04" r="1.7" fill="none" stroke="#222" stroke-width="1.1"/>
<circle cx="360.1" cy="1156.45" r="1.7" fill="none" stroke="#222" stroke-width="1.1"/>
<circle cx="371.3" cy="1144.01" r="1.7" fill="none" stroke="#222" stroke-width="1.1"/>
<circle cx="381.76" cy="1101.69" r="1.7" fill="none" stroke="#222" stroke-width="1.1"/>
<circle cx="392.46" cy="1040.69" r="1.7" fill="none" stroke="#222" stroke-width="1.1"/>
<circle cx="403.67" cy="1034.47" r="1.7" fill="none" stroke="#222" stroke-width="1.1"/>
<circle cx="414.87" cy="1090.48" r="1.7" fill="none" stroke="#222" stroke-width="1.1"/>
<circle cx="424.83" cy="1049.41" r="1.7" fill="none" stroke="#222" stroke-width="1.1"/>
<circle cx="436.03" cy="1045.67" r="1.7" fill="none" stroke="#222" stroke-width="1.1"/>
<circle cx="447.23" cy="1017.05" r="1.7" fill="none" stroke="#222" stroke-width="1.1"/>
<circle cx="457.94" cy="1038.21" r="1.7" fill="none" stroke="#222" stroke-width="1.1"/>
<circle cx="468.39" cy="1023.27" r="1.7" fill="none" stroke="#222" stroke-width="1.1"/>
<circle cx="479.59" cy="1036.96" r="1.7" fill="none" stroke="#222" stroke-width="1.1"/>
<circle cx="490.8" cy="1046.42" r="1.7" fill="none" stroke="#222" stroke-width="1.1"/>
<circle cx="502" cy="1035.72" r="1.7" fill="none" stroke="#222" stroke-width="1.1"/>
</g>
<g id="a3c2">
<line x1="663.89" y1="932.9" x2="961.87" y2="932.9" stroke="#777" stroke-width="1.8" stroke-linecap="square"/>
<line x1="663.89" y1="932.9" x2="663.89" y2="959.79" stroke="#888" stroke-width="1.8" stroke-linecap="square"/>
<line x1="961.87" y1="932.9" x2="961.87" y2="958.54" stroke="#aaa" stroke-width="1.8" stroke-linecap="square"/>
<line x1="658.16" y1="963.52" x2="664.39" y2="963.52" stroke="#888" stroke-width="1.6"/>
<line x1="658.16" y1="1015.05" x2="664.39" y2="1015.05" stroke="#888" stroke-width="1.6"/>
<line x1="658.16" y1="1066.34" x2="664.39" y2="1066.34" stroke="#888" stroke-width="1.6"/>
<line x1="658.16" y1="1117.12" x2="664.39" y2="1117.12" stroke="#888" stroke-width="1.6"/>
<line x1="779.65" y1="1162.68" x2="779.65" y2="1168.9" stroke="#444" stroke-width="1.6"/>
<line x1="836.16" y1="1162.68" x2="836.16" y2="1168.9" stroke="#444" stroke-width="1.6"/>
<line x1="950.67" y1="1162.68" x2="950.67" y2="1168.9" stroke="#444" stroke-width="1.6"/>
<text x="574.77" y="976.72" font-size="28.67" textLength="71.01" lengthAdjust="spacingAndGlyphs" fill="#000">-0.00</text>
<text x="566.9" y="1025.76" font-size="28.67" textLength="78.83" lengthAdjust="spacingAndGlyphs" fill="#000">−0.20</text>
<text x="566.9" y="1074.8" font-size="28.67" textLength="78.83" lengthAdjust="spacingAndGlyphs" fill="#000">−0.40</text>
<text x="566.9" y="1125.33" font-size="28.67" textLength="78.83" lengthAdjust="spacingAndGlyphs" fill="#000">−0.60</text>
<text x="665.09" y="1208.73" font-size="32.97" textLength="18.55" lengthAdjust="spacingAndGlyphs" fill="#000">0</text>
<text x="721.06" y="1208.73" font-size="32.97" textLength="18.55" lengthAdjust="spacingAndGlyphs" fill="#000">5</text>
<text x="766.99" y="1208.73" font-size="32.97" textLength="37.1" lengthAdjust="spacingAndGlyphs" fill="#000">10</text>
<text x="820.8" y="1208.73" font-size="32.97" textLength="37.1" lengthAdjust="spacingAndGlyphs" fill="#000">15</text>
<text x="874.99" y="1208.73" font-size="32.97" textLength="37.1" lengthAdjust="spacingAndGlyphs" fill="#000">20</text>
<text x="928.3" y="1208.73" font-size="32.97" textLength="37.1" lengthAdjust="spacingAndGlyphs" fill="#000">25</text>
<text transform="translate(555.79,1227.5) rotate(-90)" x="-2.17" y="0" font-size="32.15" textLength="300.25" lengthAdjust="spacingAndGlyphs" fill="#000">Betweeness energy</text>
<text x="791.02" y="972.24" font-size="35.2" textLength="125.01" lengthAdjust="spacingAndGlyphs" fill="#1ca05d">To ProB</text>
<text x="739.07" y="1257.27" font-size="32.62" textLength="96.19" lengthAdjust="spacingAndGlyphs" fill="#000">Index</text>
<path d="M676.23,1104.77L686.65,1073.71" fill="none" stroke="#151515" stroke-width="1.9" stroke-dasharray="11 7"/>
<path d="M689.15,1071.07L697.88,1067.58" fill="none" stroke="#151515" stroke-width="1.9" stroke-dasharray="11 7"/>
<path d="M699.95,1064.85L709.48,977.96" fill="none" stroke="#151515" stroke-width="1.9" stroke-dasharray="11 7"/>
<path d="M711.29,977.18L719.55,983.47" fill="none" stroke="#151515" stroke-width="1.9" stroke-dasharray="11 7"/>
<path d="M721.66,982.75L732.33,942.3" fill="none" stroke="#151515" stroke-width="1.9" stroke-dasharray="11 7"/>
<path d="M733.6,942.22L744.54,969.14" fill="none" stroke="#151515" stroke-width="1.9" stroke-dasharray="11 7"/>
<path d="M746.78,972.33L756.25,980.86" fill="none" stroke="#151515" stroke-width="1.9" stroke-dasharray="11 7"/>
<path d="M758.23,984.13L767.95,1022.57" fill="none" stroke="#151515" stroke-width="1.9" stroke-dasharray="11 7"/>
<path d="M769.2,1022.66L779.39,997.74" fill="none" stroke="#151515" stroke-width="1.9" stroke-dasharray="11 7"/>
<path d="M781.56,997.3L788.69,1004.43" fill="none" stroke="#151515" stroke-width="1.9" stroke-dasharray="11 7"/>
<path d="M791.38,1004.31L801.27,992.44" fill="none" stroke="#151515" stroke-width="1.9" stroke-dasharray="11 7"/>
<path d="M803.48,992.67L812.82,1010.3" fill="none" stroke="#151515" stroke-width="1.9" stroke-dasharray="11 7"/>
<path d="M814.48,1013.93L824.23,1038.83" fill="none" stroke="#151515" stroke-width="1.9" stroke-dasharray="11 7"/>
<path d="M826.22,1042.24L834.89,1052.84" fill="none" stroke="#151515" stroke-width="1.9" stroke-dasharray="11 7"/>
<path d="M837.5,1055.87L847.26,1066.6" fill="none" stroke="#151515" stroke-width="1.9" stroke-dasharray="11 7"/>
<path d="M849.22,1069.98L859.19,1101.03" fill="none" stroke="#151515" stroke-width="1.9" stroke-dasharray="11 7"/>
<path d="M860.4,1101.02L870.42,1068.74" fill="none" stroke="#151515" stroke-width="1.9" stroke-dasharray="11 7"/>
<path d="M872.09,1068.52L881.13,1082.58" fill="none" stroke="#151515" stroke-width="1.9" stroke-dasharray="11 7"/>
<path d="M882.75,1086.18L892.87,1122.16" fill="none" stroke="#151515" stroke-width="1.9" stroke-dasharray="11 7"/>
<path d="M894.13,1125.96L904.65,1153.34" fill="none" stroke="#151515" stroke-width="1.9" stroke-dasharray="11 7"/>
<path d="M905.64,1153.23L915.54,1082.51" fill="none" stroke="#151515" stroke-width="1.9" stroke-dasharray="11 7"/>
<path d="M917.66,1081.29L925.92,1084.73" fill="none" stroke="#151515" stroke-width="1.9" stroke-dasharray="11 7"/>
<path d="M928.38,1087.41L938.85,1119.7" fill="none" stroke="#151515" stroke-width="1.9" stroke-dasharray="11 7"/>
<path d="M940.44,1119.85L950.94,1100.94" fill="none" stroke="#151515" stroke-width="1.9" stroke-dasharray="11 7"/>
<circle cx="675.59" cy="1106.66" r="1.7" fill="none" stroke="#222" stroke-width="1.1"/>
<circle cx="687.29" cy="1071.81" r="1.7" fill="none" stroke="#222" stroke-width="1.1"/>
<circle cx="699.74" cy="1066.83" r="1.7" fill="none" stroke="#222" stroke-width="1.1"/>
<circle cx="709.69" cy="975.97" r="1.7" fill="none" stroke="#222" stroke-width="1.1"/>
<circle cx="721.15" cy="984.68" r="1.7" fill="none" stroke="#222" stroke-width="1.1"/>
<circle cx="732.85" cy="940.37" r="1.7" fill="none" stroke="#222" stroke-width="1.1"/>
<circle cx="745.29" cy="970.99" r="1.7" fill="none" stroke="#222" stroke-width="1.1"/>
<circle cx="757.74" cy="982.19" r="1.7" fill="none" stroke="#222" stroke-width="1.1"/>
<circle cx="768.44" cy="1024.51" r="1.7" fill="none" stroke="#222" stroke-width="1.1"/>
<circle cx="780.14" cy="995.88" r="1.7" fill="none" stroke="#222" stroke-width="1.1"/>
<circle cx="790.1" cy="1005.84" r="1.7" fill="none" stroke="#222" stroke-width="1.1"/>
<circle cx="802.55" cy="990.91" r="1.7" fill="none" stroke="#222" stroke-width="1.1"/>
<circle cx="813.75" cy="1012.07" r="1.7" fill="none" stroke="#222" stroke-width="1.1"/>
<circle cx="824.95" cy="1040.69" r="1.7" fill="none" stroke="#222" stroke-width="1.1"/>
<circle cx="836.16" cy="1054.39" r="1.7" fill="none" stroke="#222" stroke-width="1.1"/>
<circle cx="848.6" cy="1068.08" r="1.7" fill="none" stroke="#222" stroke-width="1.1"/>
<circle cx="859.81" cy="1102.93" r="1.7" fill="none" stroke="#222" stroke-width="1.1"/>
<circle cx="871.01" cy="1066.83" r="1.7" fill="none" stroke="#222" stroke-width="1.1"/>
<circle cx="882.21" cy="1084.26" r="1.7" fill="none" stroke="#222" stroke-width="1.1"/>
<circle cx="893.41" cy="1124.09" r="1.7" fill="none" stroke="#222" stroke-width="1.1"/>
<circle cx="905.36" cy="1155.21" r="1.7" fill="none" stroke="#222" stroke-width="1.1"/>
<circle cx="915.82" cy="1080.53" r="1.7" fill="none" stroke="#222" stroke-width="1.1"/>
<circle cx="927.77" cy="1085.5" r="1.7" fill="none" stroke="#222" stroke-width="1.1"/>
<circle cx="939.47" cy="1121.6" r="1.7" fill="none" stroke="#222" stroke-width="1.1"/>
<circle cx="951.91" cy="1099.2" r="1.7" fill="none" stroke="#222" stroke-width="1.1"/>
</g>
<g id="a3c3">
<line x1="1120.74" y1="943.15" x2="1120.74" y2="1182.63" stroke="#777" stroke-width="1.8" stroke-linecap="square"/>
<line x1="1120.74" y1="943.15" x2="1456.81" y2="943.15" stroke="#555" stroke-width="1.8" stroke-linecap="square"/>
<line x1="1456.81" y1="943.15" x2="1456.81" y2="1182.63" stroke="#666" stroke-width="1.8" stroke-linecap="square"/>
<line x1="1120.74" y1="1182.63" x2="1456.81" y2="1182.63" stroke="#888" stroke-width="1.8" stroke-linecap="square"/>
<line x1="1113.27" y1="956.1" x2="1120.74" y2="956.1" stroke="#333" stroke-width="1.6"/>
<line x1="1113.27" y1="999.16" x2="1120.74" y2="999.16" stroke="#333" stroke-width="1.6"/>
<line x1="1113.27" y1="1045.72" x2="1120.74" y2="1045.72" stroke="#333" stroke-width="1.6"/>
<line x1="1113.27" y1="1088.53" x2="1120.74" y2="1088.53" stroke="#111" stroke-width="1.6"/>
<line x1="1113.27" y1="1134.59" x2="1120.74" y2="1134.59" stroke="#333" stroke-width="1.6"/>
<line x1="1113.27" y1="1178.15" x2="1120.74" y2="1178.15" stroke="#333" stroke-width="1.6"/>
<line x1="1185.46" y1="1182.63" x2="1185.46" y2="1187.61" stroke="#444" stroke-width="1.6"/>
<line x1="1250.19" y1="1182.63" x2="1250.19" y2="1187.61" stroke="#444" stroke-width="1.6"/>
<line x1="1314.91" y1="1182.63" x2="1314.91" y2="1187.61" stroke="#444" stroke-width="1.6"/>
<line x1="1379.64" y1="1182.63" x2="1379.64" y2="1187.61" stroke="#444" stroke-width="1.6"/>
<line x1="1444.36" y1="1182.63" x2="1444.36" y2="1187.61" stroke="#444" stroke-width="1.6"/>
<text x="1058.44" y="962.32" font-size="28.67" textLength="52.3" lengthAdjust="spacingAndGlyphs" fill="#000">−12</text>
<text x="1057.43" y="1007.13" font-size="28.67" textLength="52.3" lengthAdjust="spacingAndGlyphs" fill="#000">−14</text>
<text x="1058.36" y="1051.94" font-size="28.67" textLength="52.3" lengthAdjust="spacingAndGlyphs" fill="#000">−16</text>
<text x="1058.2" y="1097.99" font-size="28.67" textLength="52.3" lengthAdjust="spacingAndGlyphs" fill="#000">−18</text>
<text x="1058.51" y="1139.07" font-size="28.67" textLength="52.3" lengthAdjust="spacingAndGlyphs" fill="#000">−20</text>
<text x="1058.44" y="1183.88" font-size="28.67" textLength="52.3" lengthAdjust="spacingAndGlyphs" fill="#000">−22</text>
<text x="1113.97" y="1223.21" font-size="32.97" textLength="18.55" lengthAdjust="spacingAndGlyphs" fill="#000">0</text>
<text x="1177.41" y="1223.21" font-size="32.97" textLength="18.55" lengthAdjust="spacingAndGlyphs" fill="#000">5</text>
<text x="1242.5" y="1223.21" font-size="32.97" textLength="37.1" lengthAdjust="spacingAndGlyphs" fill="#000">10</text>
<text x="1305.78" y="1223.21" font-size="32.97" textLength="37.1" lengthAdjust="spacingAndGlyphs" fill="#000">15</text>
<text x="1369.92" y="1223.21" font-size="32.97" textLength="37.1" lengthAdjust="spacingAndGlyphs" fill="#000">20</text>
<text x="1431.95" y="1223.21" font-size="32.97" textLength="37.1" lengthAdjust="spacingAndGlyphs" fill="#000">25</text>
<text transform="translate(1035.61,1170.8) rotate(-90)" x="-1.3" y="0" font-size="32.61" textLength="212.04" lengthAdjust="spacingAndGlyphs" fill="#000">Graph energy</text>
<text x="1320.8" y="974.77" font-size="33.24" textLength="126.28" lengthAdjust="spacingAndGlyphs" fill="#1ca05d">To ProB</text>
<text x="1240.27" y="1268.52" font-size="32.62" textLength="94.9" lengthAdjust="spacingAndGlyphs" fill="#000">Index</text>
<polyline points="1133.18,1019.08 1146.38,1045.72 1159.32,952.36 1171.77,984.72 1185.46,971.78 1198.41,980.99 1211.6,1015.84 1224.79,985.97 1237.74,1018.33 1250.19,1008.37 1263.13,1017.09 1275.58,1048.21 1288.77,1049.45 1302.46,1050.69 1314.91,1002.15 1328.6,1048.21 1341.05,1096.75 1354.74,1091.77 1367.19,1115.42 1379.64,1110.44 1392.83,1103.72 1405.78,1096.75 1418.22,1135.33 1430.67,1161.47 1444.36,1173.42" fill="none" stroke="#2c2c2c" stroke-width="1.8" stroke-dasharray="7 2" stroke-linejoin="round"/>
<circle cx="1133.18" cy="1019.08" r="2.7" fill="#fff" stroke="#3a3a3a" stroke-width="1.4"/>
<circle cx="1146.38" cy="1045.72" r="2.7" fill="#fff" stroke="#3a3a3a" stroke-width="1.4"/>
<circle cx="1159.32" cy="952.36" r="2.7" fill="#fff" stroke="#3a3a3a" stroke-width="1.4"/>
<circle cx="1171.77" cy="984.72" r="2.7" fill="#fff" stroke="#3a3a3a" stroke-width="1.4"/>
<circle cx="1185.46" cy="971.78" r="2.7" fill="#fff" stroke="#3a3a3a" stroke-width="1.4"/>
<circle cx="1198.41" cy="980.99" r="2.7" fill="#fff" stroke="#3a3a3a" stroke-width="1.4"/>
<circle cx="1211.6" cy="1015.84" r="2.7" fill="#fff" stroke="#3a3a3a" stroke-width="1.4"/>
<circle cx="1224.79" cy="985.97" r="2.7" fill="#fff" stroke="#3a3a3a" stroke-width="1.4"/>
<circle cx="1237.74" cy="1018.33" r="2.7" fill="#fff" stroke="#3a3a3a" stroke-width="1.4"/>
<circle cx="1250.19" cy="1008.37" r="2.7" fill="#fff" stroke="#3a3a3a" stroke-width="1.4"/>
<circle cx="1263.13" cy="1017.09" r="2.7" fill="#fff" stroke="#3a3a3a" stroke-width="1.4"/>
<circle cx="1275.58" cy="1048.21" r="2.7" fill="#fff" stroke="#3a3a3a" stroke-width="1.4"/>
<circle cx="1288.77" cy="1049.45" r="2.7" fill="#fff" stroke="#3a3a3a" stroke-width="1.4"/>
<circle cx="1302.46" cy="1050.69" r="2.7" fill="#fff" stroke="#3a3a3a" stroke-width="1.4"/>
<circle cx="1314.91" cy="1002.15" r="2.7" fill="#fff" stroke="#3a3a3a" stroke-width="1.4"/>
<circle cx="1328.6" cy="1048.21" r="2.7" fill="#fff" stroke="#3a3a3a" stroke-width="1.4"/>
<circle cx="1341.05" cy="1096.75" r="2.7" fill="#fff" stroke="#3a3a3a" stroke-width="1.4"/>
<circle cx="1354.74" cy="1091.77" r="2.7" fill="#fff" stroke="#3a3a3a" stroke-width="1.4"/>
<circle cx="1367.19" cy="1115.42" r="2.7" fill="#fff" stroke="#3a3a3a" stroke-width="1.4"/>
<circle cx="1379.64" cy="1110.44" r="2.7" fill="#fff" stroke="#3a3a3a" stroke-width="1.4"/>
<circle cx="1392.83" cy="1103.72" r="2.7" fill="#fff" stroke="#3a3a3a" stroke-width="1.4"/>
<circle cx="1405.78" cy="1096.75" r="2.7" fill="#fff" stroke="#3a3a3a" stroke-width="1.4"/>
<circle cx="1418.22" cy="1135.33" r="2.7" fill="#fff" stroke="#3a3a3a" stroke-width="1.4"/>
<circle cx="1430.67" cy="1161.47" r="2.7" fill="#fff" stroke="#3a3a3a" stroke-width="1.4"/>
<circle cx="1444.36" cy="1173.42" r="2.7" fill="#fff" stroke="#3a3a3a" stroke-width="1.4"/>
</g>
<g id="a3c4">
<line x1="1567.05" y1="943.15" x2="1567.05" y2="1181.39" stroke="#666" stroke-width="1.8" stroke-linecap="square"/>
<line x1="1567.05" y1="943.15" x2="1904.36" y2="943.15" stroke="#555" stroke-width="1.8" stroke-linecap="square"/>
<line x1="1904.36" y1="943.15" x2="1904.36" y2="1181.39" stroke="#777" stroke-width="1.8" stroke-linecap="square"/>
<line x1="1567.05" y1="1181.39" x2="1904.36" y2="1181.39" stroke="#888" stroke-width="1.8" stroke-linecap="square"/>
<line x1="1559.58" y1="953.11" x2="1567.05" y2="953.11" stroke="#333" stroke-width="1.6"/>
<line x1="1559.58" y1="990.2" x2="1567.05" y2="990.2" stroke="#bbb" stroke-width="1.6"/>
<line x1="1559.58" y1="1027.54" x2="1567.05" y2="1027.54" stroke="#333" stroke-width="1.6"/>
<line x1="1559.58" y1="1065.63" x2="1567.05" y2="1065.63" stroke="#333" stroke-width="1.6"/>
<line x1="1559.58" y1="1101.73" x2="1567.05" y2="1101.73" stroke="#333" stroke-width="1.6"/>
<line x1="1559.58" y1="1139.07" x2="1567.05" y2="1139.07" stroke="#333" stroke-width="1.6"/>
<line x1="1559.58" y1="1176.41" x2="1567.05" y2="1176.41" stroke="#333" stroke-width="1.6"/>
<line x1="1630.53" y1="1181.39" x2="1630.53" y2="1186.87" stroke="#444" stroke-width="1.6"/>
<line x1="1696.49" y1="1181.39" x2="1696.49" y2="1186.87" stroke="#444" stroke-width="1.6"/>
<line x1="1761.72" y1="1181.39" x2="1761.72" y2="1186.87" stroke="#444" stroke-width="1.6"/>
<line x1="1825.94" y1="1181.39" x2="1825.94" y2="1186.87" stroke="#444" stroke-width="1.6"/>
<line x1="1891.91" y1="1181.39" x2="1891.91" y2="1186.87" stroke="#444" stroke-width="1.6"/>
<text x="1509.85" y="959.83" font-size="28.67" textLength="47.14" lengthAdjust="spacingAndGlyphs" fill="#000">−10</text>
<text x="1509.78" y="1002.15" font-size="28.67" textLength="47.14" lengthAdjust="spacingAndGlyphs" fill="#000">−12</text>
<text x="1508.88" y="1044.47" font-size="28.67" textLength="47.14" lengthAdjust="spacingAndGlyphs" fill="#000">−14</text>
<text x="1509.71" y="1079.32" font-size="28.67" textLength="47.14" lengthAdjust="spacingAndGlyphs" fill="#000">−16</text>
<text x="1509.57" y="1117.91" font-size="28.67" textLength="47.14" lengthAdjust="spacingAndGlyphs" fill="#000">−18</text>
<text x="1509.85" y="1146.54" font-size="28.67" textLength="47.14" lengthAdjust="spacingAndGlyphs" fill="#000">−20</text>
<text x="1509.78" y="1187.61" font-size="28.67" textLength="47.14" lengthAdjust="spacingAndGlyphs" fill="#000">−22</text>
<text x="1564.01" y="1226.7" font-size="32.97" textLength="18.55" lengthAdjust="spacingAndGlyphs" fill="#000">0</text>
<text x="1627.45" y="1226.7" font-size="32.97" textLength="18.55" lengthAdjust="spacingAndGlyphs" fill="#000">5</text>
<text x="1692.55" y="1226.7" font-size="32.97" textLength="37.1" lengthAdjust="spacingAndGlyphs" fill="#000">10</text>
<text x="1756.57" y="1226.7" font-size="32.97" textLength="37.1" lengthAdjust="spacingAndGlyphs" fill="#000">15</text>
<text x="1819.97" y="1226.7" font-size="32.97" textLength="37.1" lengthAdjust="spacingAndGlyphs" fill="#000">20</text>
<text x="1884.48" y="1226.7" font-size="32.97" textLength="37.1" lengthAdjust="spacingAndGlyphs" fill="#000">25</text>
<text transform="translate(1494.12,1168.9) rotate(-90)" x="-2.15" y="0" font-size="31.89" textLength="219.76" lengthAdjust="spacingAndGlyphs" fill="#000">Randic energy</text>
<text x="1768.36" y="972.28" font-size="35.2" textLength="126.28" lengthAdjust="spacingAndGlyphs" fill="#1ca05d">To ProB</text>
<text x="1687.79" y="1272.25" font-size="34.34" textLength="96.19" lengthAdjust="spacingAndGlyphs" fill="#000">Index</text>
<polyline points="1579.49,984.23 1593.18,1010.86 1605.63,952.36 1618.08,1117.91 1631.27,1085.55 1644.22,1102.97 1657.41,1140.31 1671.1,1124.13 1684.05,1147.78 1697.74,1132.85 1710.19,1141.56 1722.63,1171.43 1735.08,1160.23 1748.77,1155.25 1761.22,1094.26 1774.16,1144.05 1787.36,1173.92 1801.05,1168.94 1813.5,1134.09 1825.94,1139.07 1839.14,1114.17 1852.83,1137.82 1865.78,1147.78 1879.47,1163.96 1892.66,1151.52" fill="none" stroke="#2c2c2c" stroke-width="1.8" stroke-dasharray="7 2" stroke-linejoin="round"/>
<circle cx="1579.49" cy="984.23" r="2.7" fill="#fff" stroke="#3a3a3a" stroke-width="1.4"/>
<circle cx="1593.18" cy="1010.86" r="2.7" fill="#fff" stroke="#3a3a3a" stroke-width="1.4"/>
<circle cx="1605.63" cy="952.36" r="2.7" fill="#fff" stroke="#3a3a3a" stroke-width="1.4"/>
<circle cx="1618.08" cy="1117.91" r="2.7" fill="#fff" stroke="#3a3a3a" stroke-width="1.4"/>
<circle cx="1631.27" cy="1085.55" r="2.7" fill="#fff" stroke="#3a3a3a" stroke-width="1.4"/>
<circle cx="1644.22" cy="1102.97" r="2.7" fill="#fff" stroke="#3a3a3a" stroke-width="1.4"/>
<circle cx="1657.41" cy="1140.31" r="2.7" fill="#fff" stroke="#3a3a3a" stroke-width="1.4"/>
<circle cx="1671.1" cy="1124.13" r="2.7" fill="#fff" stroke="#3a3a3a" stroke-width="1.4"/>
<circle cx="1684.05" cy="1147.78" r="2.7" fill="#fff" stroke="#3a3a3a" stroke-width="1.4"/>
<circle cx="1697.74" cy="1132.85" r="2.7" fill="#fff" stroke="#3a3a3a" stroke-width="1.4"/>
<circle cx="1710.19" cy="1141.56" r="2.7" fill="#fff" stroke="#3a3a3a" stroke-width="1.4"/>
<circle cx="1722.63" cy="1171.43" r="2.7" fill="#fff" stroke="#3a3a3a" stroke-width="1.4"/>
<circle cx="1735.08" cy="1160.23" r="2.7" fill="#fff" stroke="#3a3a3a" stroke-width="1.4"/>
<circle cx="1748.77" cy="1155.25" r="2.7" fill="#fff" stroke="#3a3a3a" stroke-width="1.4"/>
<circle cx="1761.22" cy="1094.26" r="2.7" fill="#fff" stroke="#3a3a3a" stroke-width="1.4"/>
<circle cx="1774.16" cy="1144.05" r="2.7" fill="#fff" stroke="#3a3a3a" stroke-width="1.4"/>
<circle cx="1787.36" cy="1173.92" r="2.7" fill="#fff" stroke="#3a3a3a" stroke-width="1.4"/>
<circle cx="1801.05" cy="1168.94" r="2.7" fill="#fff" stroke="#3a3a3a" stroke-width="1.4"/>
<circle cx="1813.5" cy="1134.09" r="2.7" fill="#fff" stroke="#3a3a3a" stroke-width="1.4"/>
<circle cx="1825.94" cy="1139.07" r="2.7" fill="#fff" stroke="#3a3a3a" stroke-width="1.4"/>
<circle cx="1839.14" cy="1114.17" r="2.7" fill="#fff" stroke="#3a3a3a" stroke-width="1.4"/>
<circle cx="1852.83" cy="1137.82" r="2.7" fill="#fff" stroke="#3a3a3a" stroke-width="1.4"/>
<circle cx="1865.78" cy="1147.78" r="2.7" fill="#fff" stroke="#3a3a3a" stroke-width="1.4"/>
<circle cx="1879.47" cy="1163.96" r="2.7" fill="#fff" stroke="#3a3a3a" stroke-width="1.4"/>
<circle cx="1892.66" cy="1151.52" r="2.7" fill="#fff" stroke="#3a3a3a" stroke-width="1.4"/>
</g>
<g id="a3c5">
<line x1="2014.62" y1="943.5" x2="2014.62" y2="1182.32" stroke="#777" stroke-width="1.8" stroke-linecap="square"/>
<line x1="2014.62" y1="943.5" x2="2349.23" y2="943.5" stroke="#666" stroke-width="1.8" stroke-linecap="square"/>
<line x1="2349.23" y1="943.5" x2="2349.23" y2="1182.32" stroke="#999" stroke-width="1.8" stroke-linecap="square"/>
<line x1="2014.62" y1="1182.32" x2="2349.23" y2="1182.32" stroke="#999" stroke-width="1.8" stroke-linecap="square"/>
<line x1="2005.68" y1="947.59" x2="2014.62" y2="947.59" stroke="#bbb" stroke-width="1.6"/>
<line x1="2005.68" y1="999.18" x2="2014.62" y2="999.18" stroke="#333" stroke-width="1.6"/>
<line x1="2005.68" y1="1047.71" x2="2014.62" y2="1047.71" stroke="#333" stroke-width="1.6"/>
<line x1="2005.68" y1="1098.8" x2="2014.62" y2="1098.8" stroke="#bbb" stroke-width="1.6"/>
<line x1="2005.68" y1="1147.33" x2="2014.62" y2="1147.33" stroke="#333" stroke-width="1.6"/>
<line x1="2078.47" y1="1182.32" x2="2078.47" y2="1188.2" stroke="#444" stroke-width="1.6"/>
<line x1="2142.33" y1="1182.32" x2="2142.33" y2="1188.2" stroke="#444" stroke-width="1.6"/>
<line x1="2208.74" y1="1182.32" x2="2208.74" y2="1188.2" stroke="#444" stroke-width="1.6"/>
<line x1="2272.6" y1="1182.32" x2="2272.6" y2="1188.2" stroke="#444" stroke-width="1.6"/>
<line x1="2339.01" y1="1182.32" x2="2339.01" y2="1188.2" stroke="#444" stroke-width="1.6"/>
<text x="1965.49" y="958.31" font-size="28.67" textLength="29.48" lengthAdjust="spacingAndGlyphs" fill="#000">35</text>
<text x="1965.82" y="1006.85" font-size="28.67" textLength="29.48" lengthAdjust="spacingAndGlyphs" fill="#000">30</text>
<text x="1965.49" y="1051.55" font-size="28.67" textLength="29.48" lengthAdjust="spacingAndGlyphs" fill="#000">25</text>
<text x="1965.82" y="1100.08" font-size="28.67" textLength="29.48" lengthAdjust="spacingAndGlyphs" fill="#000">20</text>
<text x="1965.49" y="1153.72" font-size="28.67" textLength="29.48" lengthAdjust="spacingAndGlyphs" fill="#000">15</text>
<text x="2006.64" y="1230.34" font-size="32.97" textLength="18.55" lengthAdjust="spacingAndGlyphs" fill="#000">0</text>
<text x="2073.01" y="1230.34" font-size="32.97" textLength="18.55" lengthAdjust="spacingAndGlyphs" fill="#000">5</text>
<text x="2136.22" y="1230.34" font-size="32.97" textLength="37.1" lengthAdjust="spacingAndGlyphs" fill="#000">10</text>
<text x="2199.87" y="1230.34" font-size="32.97" textLength="37.1" lengthAdjust="spacingAndGlyphs" fill="#000">15</text>
<text x="2264.39" y="1230.34" font-size="32.97" textLength="37.1" lengthAdjust="spacingAndGlyphs" fill="#000">20</text>
<text x="2328.04" y="1230.34" font-size="32.97" textLength="37.1" lengthAdjust="spacingAndGlyphs" fill="#000">25</text>
<text transform="translate(1950.63,1198.9) rotate(-90)" x="-2.14" y="0" font-size="31.74" textLength="259.31" lengthAdjust="spacingAndGlyphs" fill="#000">Laplacian energy</text>
<text x="2053.88" y="972.36" font-size="36.11" textLength="125.68" lengthAdjust="spacingAndGlyphs" fill="#1ca05d">To ProB</text>
<text x="2127.01" y="1275.04" font-size="35.23" textLength="98.69" lengthAdjust="spacingAndGlyphs" fill="#000">Index</text>
<polyline points="2025.6,1002.25 2039.65,992.29 2052.93,1051.55 2065.7,1162.66 2079.24,1174.15 2091.25,1129.45 2104.78,1126.9 2117.55,1147.33 2130.84,1149.89 2143.61,1160.1 2156.38,1173.64 2168.64,1119.23 2181.92,1098.8 2195.97,1107.74 2208.74,1116.68 2221.51,1083.47 2233.77,1018.34 2247.06,1002.25 2260.34,1022.17 2273.88,1007.61 2286.65,991.52 2300.7,1024.73 2312.19,978.75 2326.24,974.92 2339.01,951.93" fill="none" stroke="#2c2c2c" stroke-width="1.8" stroke-dasharray="7 2" stroke-linejoin="round"/>
<circle cx="2025.6" cy="1002.25" r="2.7" fill="#fff" stroke="#3a3a3a" stroke-width="1.4"/>
<circle cx="2039.65" cy="992.29" r="2.7" fill="#fff" stroke="#3a3a3a" stroke-width="1.4"/>
<circle cx="2052.93" cy="1051.55" r="2.7" fill="#fff" stroke="#3a3a3a" stroke-width="1.4"/>
<circle cx="2065.7" cy="1162.66" r="2.7" fill="#fff" stroke="#3a3a3a" stroke-width="1.4"/>
<circle cx="2079.24" cy="1174.15" r="2.7" fill="#fff" stroke="#3a3a3a" stroke-width="1.4"/>
<circle cx="2091.25" cy="1129.45" r="2.7" fill="#fff" stroke="#3a3a3a" stroke-width="1.4"/>
<circle cx="2104.78" cy="1126.9" r="2.7" fill="#fff" stroke="#3a3a3a" stroke-width="1.4"/>
<circle cx="2117.55" cy="1147.33" r="2.7" fill="#fff" stroke="#3a3a3a" stroke-width="1.4"/>
<circle cx="2130.84" cy="1149.89" r="2.7" fill="#fff" stroke="#3a3a3a" stroke-width="1.4"/>
<circle cx="2143.61" cy="1160.1" r="2.7" fill="#fff" stroke="#3a3a3a" stroke-width="1.4"/>
<circle cx="2156.38" cy="1173.64" r="2.7" fill="#fff" stroke="#3a3a3a" stroke-width="1.4"/>
<circle cx="2168.64" cy="1119.23" r="2.7" fill="#fff" stroke="#3a3a3a" stroke-width="1.4"/>
<circle cx="2181.92" cy="1098.8" r="2.7" fill="#fff" stroke="#3a3a3a" stroke-width="1.4"/>
<circle cx="2195.97" cy="1107.74" r="2.7" fill="#fff" stroke="#3a3a3a" stroke-width="1.4"/>
<circle cx="2208.74" cy="1116.68" r="2.7" fill="#fff" stroke="#3a3a3a" stroke-width="1.4"/>
<circle cx="2221.51" cy="1083.47" r="2.7" fill="#fff" stroke="#3a3a3a" stroke-width="1.4"/>
<circle cx="2233.77" cy="1018.34" r="2.7" fill="#fff" stroke="#3a3a3a" stroke-width="1.4"/>
<circle cx="2247.06" cy="1002.25" r="2.7" fill="#fff" stroke="#3a3a3a" stroke-width="1.4"/>
<circle cx="2260.34" cy="1022.17" r="2.7" fill="#fff" stroke="#3a3a3a" stroke-width="1.4"/>
<circle cx="2273.88" cy="1007.61" r="2.7" fill="#fff" stroke="#3a3a3a" stroke-width="1.4"/>
<circle cx="2286.65" cy="991.52" r="2.7" fill="#fff" stroke="#3a3a3a" stroke-width="1.4"/>
<circle cx="2300.7" cy="1024.73" r="2.7" fill="#fff" stroke="#3a3a3a" stroke-width="1.4"/>
<circle cx="2312.19" cy="978.75" r="2.7" fill="#fff" stroke="#3a3a3a" stroke-width="1.4"/>
<circle cx="2326.24" cy="974.92" r="2.7" fill="#fff" stroke="#3a3a3a" stroke-width="1.4"/>
<circle cx="2339.01" cy="951.93" r="2.7" fill="#fff" stroke="#3a3a3a" stroke-width="1.4"/>
</g>
<g id="b1c1">
<line x1="236.38" y1="1484.89" x2="511.46" y2="1484.89" stroke="#111" stroke-width="1.8" stroke-linecap="square"/>
<line x1="511.46" y1="1484.89" x2="511.46" y2="1697.74" stroke="#111" stroke-width="1.8" stroke-linecap="square"/>
<line x1="511.46" y1="1697.74" x2="511.46" y2="1721.39" stroke="#aaa" stroke-width="1.8" stroke-linecap="square"/>
<line x1="236.38" y1="1721.39" x2="511.46" y2="1721.39" stroke="#aaa" stroke-width="1.8" stroke-linecap="square"/>
<line x1="236.38" y1="1698.98" x2="236.38" y2="1721.39" stroke="#aaa" stroke-width="1.8" stroke-linecap="square"/>
<line x1="229.41" y1="1513.52" x2="236.38" y2="1513.52" stroke="#bbb" stroke-width="1.6"/>
<line x1="229.41" y1="1593.18" x2="236.38" y2="1593.18" stroke="#333" stroke-width="1.6"/>
<line x1="229.41" y1="1634.26" x2="236.38" y2="1634.26" stroke="#bbb" stroke-width="1.6"/>
<line x1="229.41" y1="1713.42" x2="236.38" y2="1713.42" stroke="#333" stroke-width="1.6"/>
<line x1="288.41" y1="1721.39" x2="288.41" y2="1728.86" stroke="#444" stroke-width="1.6"/>
<line x1="342.18" y1="1721.39" x2="342.18" y2="1728.86" stroke="#444" stroke-width="1.6"/>
<line x1="395.7" y1="1721.39" x2="395.7" y2="1728.86" stroke="#444" stroke-width="1.6"/>
<line x1="449.22" y1="1721.39" x2="449.22" y2="1728.86" stroke="#444" stroke-width="1.6"/>
<line x1="500.75" y1="1721.39" x2="500.75" y2="1728.86" stroke="#444" stroke-width="1.6"/>
<text x="150.56" y="1525.22" font-size="26.24" textLength="70" lengthAdjust="spacingAndGlyphs" fill="#000">−0.20</text>
<text x="150.56" y="1600.65" font-size="26.24" textLength="70" lengthAdjust="spacingAndGlyphs" fill="#000">−0.30</text>
<text x="151.81" y="1681.56" font-size="26.24" textLength="70" lengthAdjust="spacingAndGlyphs" fill="#000">−0.40</text>
<text x="221.4" y="1774.91" font-size="32.97" textLength="18.55" lengthAdjust="spacingAndGlyphs" fill="#000">0</text>
<text x="277.37" y="1774.91" font-size="32.97" textLength="18.55" lengthAdjust="spacingAndGlyphs" fill="#000">5</text>
<text x="322.55" y="1774.91" font-size="32.97" textLength="37.1" lengthAdjust="spacingAndGlyphs" fill="#000">10</text>
<text x="376.61" y="1774.91" font-size="32.97" textLength="37.1" lengthAdjust="spacingAndGlyphs" fill="#000">15</text>
<text x="431.3" y="1774.91" font-size="32.97" textLength="37.1" lengthAdjust="spacingAndGlyphs" fill="#000">20</text>
<text x="485.85" y="1774.91" font-size="32.97" textLength="37.1" lengthAdjust="spacingAndGlyphs" fill="#000">25</text>
<text transform="translate(123.16,1712.5) rotate(-90)" x="-2.16" y="0" font-size="32.06" textLength="222.74" lengthAdjust="spacingAndGlyphs" fill="#000">Degree energy</text>
<text x="277.62" y="1568.29" font-size="34.69" textLength="120.99" lengthAdjust="spacingAndGlyphs" fill="#3434d8">To GMP</text>
<path d="M245.69,1698.23L255.44,1514.28" fill="none" stroke="#151515" stroke-width="1.9" stroke-dasharray="11 7"/>
<path d="M257.39,1513.05L264.41,1515.99" fill="none" stroke="#151515" stroke-width="1.9" stroke-dasharray="11 7"/>
<path d="M268.18,1517.29L275.27,1519.22" fill="none" stroke="#151515" stroke-width="1.9" stroke-dasharray="11 7"/>
<path d="M279.02,1518.9L286.1,1515.61" fill="none" stroke="#151515" stroke-width="1.9" stroke-dasharray="11 7"/>
<path d="M289.9,1514.55L297.12,1513.74" fill="none" stroke="#151515" stroke-width="1.9" stroke-dasharray="11 7"/>
<path d="M301.09,1513.83L308.34,1514.96" fill="none" stroke="#151515" stroke-width="1.9" stroke-dasharray="11 7"/>
<path d="M312.19,1515.96L319.14,1518.55" fill="none" stroke="#151515" stroke-width="1.9" stroke-dasharray="11 7"/>
<path d="M322.47,1517.87L329.53,1511.17" fill="none" stroke="#151515" stroke-width="1.9" stroke-dasharray="11 7"/>
<path d="M332.86,1510.46L339.55,1512.85" fill="none" stroke="#151515" stroke-width="1.9" stroke-dasharray="11 7"/>
<path d="M343.38,1513.96L350.68,1515.58" fill="none" stroke="#151515" stroke-width="1.9" stroke-dasharray="11 7"/>
<path d="M354.53,1515.38L361.94,1512.91" fill="none" stroke="#151515" stroke-width="1.9" stroke-dasharray="11 7"/>
<path d="M365.25,1513.69L372.38,1520.82" fill="none" stroke="#151515" stroke-width="1.9" stroke-dasharray="11 7"/>
<path d="M375.74,1521.77L382.3,1520.21" fill="none" stroke="#151515" stroke-width="1.9" stroke-dasharray="11 7"/>
<path d="M386.25,1519.75L391.71,1519.75" fill="none" stroke="#151515" stroke-width="1.9" stroke-dasharray="11 7"/>
<path d="M395.46,1518.77L403.16,1514.49" fill="none" stroke="#151515" stroke-width="1.9" stroke-dasharray="11 7"/>
<path d="M405.02,1515.52L416,1713.17" fill="none" stroke="#151515" stroke-width="1.9" stroke-dasharray="11 7"/>
<path d="M416.38,1713.18L425.81,1642.47" fill="none" stroke="#151515" stroke-width="1.9" stroke-dasharray="11 7"/>
<path d="M427.74,1641.59L435.61,1646.84" fill="none" stroke="#151515" stroke-width="1.9" stroke-dasharray="11 7"/>
<path d="M437.76,1646.01L447.99,1605.08" fill="none" stroke="#151515" stroke-width="1.9" stroke-dasharray="11 7"/>
<path d="M448.71,1601.16L458.7,1515.51" fill="none" stroke="#151515" stroke-width="1.9" stroke-dasharray="11 7"/>
<path d="M460.8,1514.22L467.02,1516.55" fill="none" stroke="#151515" stroke-width="1.9" stroke-dasharray="11 7"/>
<path d="M469.68,1515.42L478.8,1494.2" fill="none" stroke="#151515" stroke-width="1.9" stroke-dasharray="11 7"/>
<path d="M481.58,1492.58L488.81,1493.39" fill="none" stroke="#151515" stroke-width="1.9" stroke-dasharray="11 7"/>
<path d="M491.41,1495.51L500.14,1522.82" fill="none" stroke="#151515" stroke-width="1.9" stroke-dasharray="11 7"/>
<circle cx="245.59" cy="1700.23" r="1.7" fill="none" stroke="#222" stroke-width="1.1"/>
<circle cx="255.55" cy="1512.28" r="1.7" fill="none" stroke="#222" stroke-width="1.1"/>
<circle cx="266.25" cy="1516.76" r="1.7" fill="none" stroke="#222" stroke-width="1.1"/>
<circle cx="277.2" cy="1519.75" r="1.7" fill="none" stroke="#222" stroke-width="1.1"/>
<circle cx="287.91" cy="1514.77" r="1.7" fill="none" stroke="#222" stroke-width="1.1"/>
<circle cx="299.11" cy="1513.52" r="1.7" fill="none" stroke="#222" stroke-width="1.1"/>
<circle cx="310.31" cy="1515.27" r="1.7" fill="none" stroke="#222" stroke-width="1.1"/>
<circle cx="321.02" cy="1519.25" r="1.7" fill="none" stroke="#222" stroke-width="1.1"/>
<circle cx="330.98" cy="1509.79" r="1.7" fill="none" stroke="#222" stroke-width="1.1"/>
<circle cx="341.43" cy="1513.52" r="1.7" fill="none" stroke="#222" stroke-width="1.1"/>
<circle cx="352.63" cy="1516.01" r="1.7" fill="none" stroke="#222" stroke-width="1.1"/>
<circle cx="363.84" cy="1512.28" r="1.7" fill="none" stroke="#222" stroke-width="1.1"/>
<circle cx="373.79" cy="1522.24" r="1.7" fill="none" stroke="#222" stroke-width="1.1"/>
<circle cx="384.25" cy="1519.75" r="1.7" fill="none" stroke="#222" stroke-width="1.1"/>
<circle cx="393.71" cy="1519.75" r="1.7" fill="none" stroke="#222" stroke-width="1.1"/>
<circle cx="404.91" cy="1513.52" r="1.7" fill="none" stroke="#222" stroke-width="1.1"/>
<circle cx="416.11" cy="1715.17" r="1.7" fill="none" stroke="#222" stroke-width="1.1"/>
<circle cx="426.07" cy="1640.48" r="1.7" fill="none" stroke="#222" stroke-width="1.1"/>
<circle cx="437.27" cy="1647.95" r="1.7" fill="none" stroke="#222" stroke-width="1.1"/>
<circle cx="448.48" cy="1603.14" r="1.7" fill="none" stroke="#222" stroke-width="1.1"/>
<circle cx="458.93" cy="1513.52" r="1.7" fill="none" stroke="#222" stroke-width="1.1"/>
<circle cx="468.89" cy="1517.26" r="1.7" fill="none" stroke="#222" stroke-width="1.1"/>
<circle cx="479.59" cy="1492.36" r="1.7" fill="none" stroke="#222" stroke-width="1.1"/>
<circle cx="490.8" cy="1493.61" r="1.7" fill="none" stroke="#222" stroke-width="1.1"/>
<circle cx="500.75" cy="1524.72" r="1.7" fill="none" stroke="#222" stroke-width="1.1"/>
</g>
<g id="b1c2">
<line x1="663.89" y1="1491.12" x2="663.89" y2="1696.49" stroke="#aaa" stroke-width="1.8" stroke-linecap="square"/>
<line x1="663.89" y1="1696.49" x2="663.89" y2="1727.61" stroke="#555" stroke-width="1.8" stroke-linecap="square"/>
<line x1="962.62" y1="1489.87" x2="962.62" y2="1696.49" stroke="#111" stroke-width="1.8" stroke-linecap="square"/>
<line x1="962.62" y1="1696.49" x2="962.62" y2="1727.61" stroke="#bbb" stroke-width="1.8" stroke-linecap="square"/>
<line x1="663.89" y1="1727.61" x2="962.62" y2="1727.61" stroke="#aaa" stroke-width="1.8" stroke-linecap="square"/>
<line x1="655.67" y1="1541.65" x2="663.89" y2="1541.65" stroke="#333" stroke-width="1.6"/>
<line x1="655.67" y1="1573.27" x2="663.89" y2="1573.27" stroke="#333" stroke-width="1.6"/>
<line x1="655.67" y1="1636.75" x2="663.89" y2="1636.75" stroke="#333" stroke-width="1.6"/>
<line x1="655.67" y1="1667.37" x2="663.89" y2="1667.37" stroke="#333" stroke-width="1.6"/>
<line x1="655.67" y1="1697.74" x2="663.89" y2="1697.74" stroke="#bbb" stroke-width="1.6"/>
<line x1="720.4" y1="1727.61" x2="720.4" y2="1735.08" stroke="#444" stroke-width="1.6"/>
<line x1="779.65" y1="1727.61" x2="779.65" y2="1735.08" stroke="#444" stroke-width="1.6"/>
<line x1="837.4" y1="1727.61" x2="837.4" y2="1735.08" stroke="#444" stroke-width="1.6"/>
<line x1="894.66" y1="1727.61" x2="894.66" y2="1735.08" stroke="#444" stroke-width="1.6"/>
<line x1="953.16" y1="1727.61" x2="953.16" y2="1735.08" stroke="#444" stroke-width="1.6"/>
<text x="584.76" y="1516.76" font-size="28.67" textLength="56.17" lengthAdjust="spacingAndGlyphs" fill="#000">−0.4</text>
<text x="586.86" y="1585.72" font-size="28.67" textLength="56.17" lengthAdjust="spacingAndGlyphs" fill="#000">−0.6</text>
<text x="587.96" y="1646.71" font-size="28.67" textLength="56.17" lengthAdjust="spacingAndGlyphs" fill="#000">−0.8</text>
<text x="587" y="1713.92" font-size="28.67" textLength="56.17" lengthAdjust="spacingAndGlyphs" fill="#000">−1.0</text>
<text x="670.07" y="1774.91" font-size="32.97" textLength="18.55" lengthAdjust="spacingAndGlyphs" fill="#000">0</text>
<text x="726.04" y="1774.91" font-size="32.97" textLength="18.55" lengthAdjust="spacingAndGlyphs" fill="#000">5</text>
<text x="771.22" y="1774.91" font-size="32.97" textLength="37.1" lengthAdjust="spacingAndGlyphs" fill="#000">10</text>
<text x="824.53" y="1774.91" font-size="32.97" textLength="37.1" lengthAdjust="spacingAndGlyphs" fill="#000">15</text>
<text x="879.97" y="1774.91" font-size="32.97" textLength="37.1" lengthAdjust="spacingAndGlyphs" fill="#000">20</text>
<text x="934.52" y="1774.91" font-size="32.97" textLength="37.1" lengthAdjust="spacingAndGlyphs" fill="#000">25</text>
<text transform="translate(568.43,1789.1) rotate(-90)" x="-2.18" y="0" font-size="32.33" textLength="301.87" lengthAdjust="spacingAndGlyphs" fill="#000">Betweeness energy</text>
<text x="688.95" y="1558.33" font-size="32.76" textLength="120.99" lengthAdjust="spacingAndGlyphs" fill="#3434d8">To GMP</text>
<path d="M674.7,1555.12L683.94,1504.29" fill="none" stroke="#151515" stroke-width="1.9" stroke-dasharray="11 7"/>
<path d="M686.27,1502.65L694.28,1503.98" fill="none" stroke="#151515" stroke-width="1.9" stroke-dasharray="11 7"/>
<path d="M698.21,1504.7L706.74,1506.41" fill="none" stroke="#151515" stroke-width="1.9" stroke-dasharray="11 7"/>
<path d="M710.63,1506.27L718.47,1504.1" fill="none" stroke="#151515" stroke-width="1.9" stroke-dasharray="11 7"/>
<path d="M722.39,1503.43L729.61,1502.95" fill="none" stroke="#151515" stroke-width="1.9" stroke-dasharray="11 7"/>
<path d="M733.6,1502.94L742.05,1503.45" fill="none" stroke="#151515" stroke-width="1.9" stroke-dasharray="11 7"/>
<path d="M746.04,1503.79L753.26,1504.59" fill="none" stroke="#151515" stroke-width="1.9" stroke-dasharray="11 7"/>
<path d="M757.18,1504.29L764.52,1502.34" fill="none" stroke="#151515" stroke-width="1.9" stroke-dasharray="11 7"/>
<path d="M768.44,1502L775.66,1502.64" fill="none" stroke="#151515" stroke-width="1.9" stroke-dasharray="11 7"/>
<path d="M779.64,1503.06L788.12,1504.07" fill="none" stroke="#151515" stroke-width="1.9" stroke-dasharray="11 7"/>
<path d="M792.1,1504.4L799.31,1504.72" fill="none" stroke="#151515" stroke-width="1.9" stroke-dasharray="11 7"/>
<path d="M803.27,1505.2L811.79,1506.91" fill="none" stroke="#151515" stroke-width="1.9" stroke-dasharray="11 7"/>
<path d="M815.7,1506.87L823,1505.24" fill="none" stroke="#151515" stroke-width="1.9" stroke-dasharray="11 7"/>
<path d="M826.94,1504.61L835.41,1503.76" fill="none" stroke="#151515" stroke-width="1.9" stroke-dasharray="11 7"/>
<path d="M839.39,1503.33L846.12,1502.55" fill="none" stroke="#151515" stroke-width="1.9" stroke-dasharray="11 7"/>
<path d="M848.22,1504.32L860.93,1716.9" fill="none" stroke="#151515" stroke-width="1.9" stroke-dasharray="11 7"/>
<path d="M862.08,1717.18L871.22,1701.94" fill="none" stroke="#151515" stroke-width="1.9" stroke-dasharray="11 7"/>
<path d="M872.78,1698.3L882.93,1661.08" fill="none" stroke="#151515" stroke-width="1.9" stroke-dasharray="11 7"/>
<path d="M883.95,1657.22L894.16,1617.53" fill="none" stroke="#151515" stroke-width="1.9" stroke-dasharray="11 7"/>
<path d="M894.85,1613.6L905.66,1504.31" fill="none" stroke="#151515" stroke-width="1.9" stroke-dasharray="11 7"/>
<path d="M907.86,1502.41L915.06,1502.73" fill="none" stroke="#151515" stroke-width="1.9" stroke-dasharray="11 7"/>
<path d="M918.56,1504.15L926.77,1511.45" fill="none" stroke="#151515" stroke-width="1.9" stroke-dasharray="11 7"/>
<path d="M928.98,1514.64L938.75,1540.28" fill="none" stroke="#151515" stroke-width="1.9" stroke-dasharray="11 7"/>
<path d="M941.46,1541.98L952.41,1541.07" fill="none" stroke="#151515" stroke-width="1.9" stroke-dasharray="11 7"/>
<circle cx="674.34" cy="1557.09" r="1.7" fill="none" stroke="#222" stroke-width="1.1"/>
<circle cx="684.3" cy="1502.32" r="1.7" fill="none" stroke="#222" stroke-width="1.1"/>
<circle cx="696.25" cy="1504.31" r="1.7" fill="none" stroke="#222" stroke-width="1.1"/>
<circle cx="708.7" cy="1506.8" r="1.7" fill="none" stroke="#222" stroke-width="1.1"/>
<circle cx="720.4" cy="1503.56" r="1.7" fill="none" stroke="#222" stroke-width="1.1"/>
<circle cx="731.6" cy="1502.82" r="1.7" fill="none" stroke="#222" stroke-width="1.1"/>
<circle cx="744.05" cy="1503.56" r="1.7" fill="none" stroke="#222" stroke-width="1.1"/>
<circle cx="755.25" cy="1504.81" r="1.7" fill="none" stroke="#222" stroke-width="1.1"/>
<circle cx="766.45" cy="1501.82" r="1.7" fill="none" stroke="#222" stroke-width="1.1"/>
<circle cx="777.65" cy="1502.82" r="1.7" fill="none" stroke="#222" stroke-width="1.1"/>
<circle cx="790.1" cy="1504.31" r="1.7" fill="none" stroke="#222" stroke-width="1.1"/>
<circle cx="801.3" cy="1504.81" r="1.7" fill="none" stroke="#222" stroke-width="1.1"/>
<circle cx="813.75" cy="1507.3" r="1.7" fill="none" stroke="#222" stroke-width="1.1"/>
<circle cx="824.95" cy="1504.81" r="1.7" fill="none" stroke="#222" stroke-width="1.1"/>
<circle cx="837.4" cy="1503.56" r="1.7" fill="none" stroke="#222" stroke-width="1.1"/>
<circle cx="848.11" cy="1502.32" r="1.7" fill="none" stroke="#222" stroke-width="1.1"/>
<circle cx="861.05" cy="1718.9" r="1.7" fill="none" stroke="#222" stroke-width="1.1"/>
<circle cx="872.25" cy="1700.23" r="1.7" fill="none" stroke="#222" stroke-width="1.1"/>
<circle cx="883.46" cy="1659.15" r="1.7" fill="none" stroke="#222" stroke-width="1.1"/>
<circle cx="894.66" cy="1615.59" r="1.7" fill="none" stroke="#222" stroke-width="1.1"/>
<circle cx="905.86" cy="1502.32" r="1.7" fill="none" stroke="#222" stroke-width="1.1"/>
<circle cx="917.06" cy="1502.82" r="1.7" fill="none" stroke="#222" stroke-width="1.1"/>
<circle cx="928.26" cy="1512.78" r="1.7" fill="none" stroke="#222" stroke-width="1.1"/>
<circle cx="939.47" cy="1542.15" r="1.7" fill="none" stroke="#222" stroke-width="1.1"/>
<circle cx="954.4" cy="1540.91" r="1.7" fill="none" stroke="#222" stroke-width="1.1"/>
</g>
<g id="b1c3">
<line x1="1128.21" y1="1492.36" x2="1407.02" y2="1492.36" stroke="#111" stroke-width="1.8" stroke-linecap="square"/>
<line x1="1407.02" y1="1492.36" x2="1407.02" y2="1696.49" stroke="#111" stroke-width="1.8" stroke-linecap="square"/>
<line x1="1407.02" y1="1696.49" x2="1407.02" y2="1728.36" stroke="#aaa" stroke-width="1.8" stroke-linecap="square"/>
<line x1="1126.96" y1="1728.36" x2="1407.02" y2="1728.36" stroke="#777" stroke-width="1.8" stroke-linecap="square"/>
<line x1="1126.96" y1="1695.25" x2="1126.96" y2="1728.36" stroke="#aaa" stroke-width="1.8" stroke-linecap="square"/>
<line x1="1120.74" y1="1557.59" x2="1128.21" y2="1557.59" stroke="#333" stroke-width="1.6"/>
<line x1="1120.74" y1="1625.55" x2="1128.21" y2="1625.55" stroke="#ccc" stroke-width="1.6"/>
<line x1="1120.74" y1="1694.01" x2="1128.21" y2="1694.01" stroke="#aaa" stroke-width="1.6"/>
<line x1="1180.98" y1="1728.36" x2="1180.98" y2="1735.08" stroke="#444" stroke-width="1.6"/>
<line x1="1234.75" y1="1728.36" x2="1234.75" y2="1735.08" stroke="#444" stroke-width="1.6"/>
<line x1="1288.27" y1="1728.36" x2="1288.27" y2="1735.08" stroke="#444" stroke-width="1.6"/>
<line x1="1342.3" y1="1728.36" x2="1342.3" y2="1735.08" stroke="#444" stroke-width="1.6"/>
<line x1="1395.82" y1="1728.36" x2="1395.82" y2="1735.08" stroke="#444" stroke-width="1.6"/>
<text x="1058.63" y="1568.29" font-size="28.67" textLength="44.52" lengthAdjust="spacingAndGlyphs" fill="#000">−20</text>
<text x="1058.3" y="1634.26" font-size="28.67" textLength="44.52" lengthAdjust="spacingAndGlyphs" fill="#000">−25</text>
<text x="1058.63" y="1702.72" font-size="28.67" textLength="44.52" lengthAdjust="spacingAndGlyphs" fill="#000">−30</text>
<text x="1116.46" y="1769.93" font-size="32.97" textLength="18.55" lengthAdjust="spacingAndGlyphs" fill="#000">0</text>
<text x="1172.43" y="1769.93" font-size="32.97" textLength="18.55" lengthAdjust="spacingAndGlyphs" fill="#000">5</text>
<text x="1218.86" y="1769.93" font-size="32.97" textLength="37.1" lengthAdjust="spacingAndGlyphs" fill="#000">10</text>
<text x="1272.17" y="1769.93" font-size="32.97" textLength="37.1" lengthAdjust="spacingAndGlyphs" fill="#000">15</text>
<text x="1327.6" y="1769.93" font-size="32.97" textLength="37.1" lengthAdjust="spacingAndGlyphs" fill="#000">20</text>
<text x="1380.92" y="1769.93" font-size="32.97" textLength="37.1" lengthAdjust="spacingAndGlyphs" fill="#000">25</text>
<text transform="translate(1031.81,1731.6) rotate(-90)" x="-1.3" y="0" font-size="32.42" textLength="210.83" lengthAdjust="spacingAndGlyphs" fill="#000">Graph energy</text>
<text x="1160.24" y="1554.6" font-size="32.76" textLength="122.25" lengthAdjust="spacingAndGlyphs" fill="#3434d8">To GMP</text>
<path d="M1139.64,1597.42L1148.63,1521.73" fill="none" stroke="#151515" stroke-width="1.9" stroke-dasharray="11 7"/>
<path d="M1149.79,1517.97L1157.65,1502.85" fill="none" stroke="#151515" stroke-width="1.9" stroke-dasharray="11 7"/>
<path d="M1159.96,1502.52L1167.9,1510.83" fill="none" stroke="#151515" stroke-width="1.9" stroke-dasharray="11 7"/>
<path d="M1171.27,1512.06L1178.5,1511.25" fill="none" stroke="#151515" stroke-width="1.9" stroke-dasharray="11 7"/>
<path d="M1182.44,1510.6L1189.73,1508.98" fill="none" stroke="#151515" stroke-width="1.9" stroke-dasharray="11 7"/>
<path d="M1193.1,1509.96L1201.47,1518.33" fill="none" stroke="#151515" stroke-width="1.9" stroke-dasharray="11 7"/>
<path d="M1204.44,1518.48L1212.04,1512.3" fill="none" stroke="#151515" stroke-width="1.9" stroke-dasharray="11 7"/>
<path d="M1215.31,1510.01L1222.33,1505.83" fill="none" stroke="#151515" stroke-width="1.9" stroke-dasharray="11 7"/>
<path d="M1225.54,1506.14L1233.76,1513.44" fill="none" stroke="#151515" stroke-width="1.9" stroke-dasharray="11 7"/>
<path d="M1237.24,1514.55L1244.46,1513.74" fill="none" stroke="#151515" stroke-width="1.9" stroke-dasharray="11 7"/>
<path d="M1247.95,1512.19L1256.16,1504.89" fill="none" stroke="#151515" stroke-width="1.9" stroke-dasharray="11 7"/>
<path d="M1259.38,1504.57L1266.63,1508.78" fill="none" stroke="#151515" stroke-width="1.9" stroke-dasharray="11 7"/>
<path d="M1270.13,1510.72L1277.04,1514.34" fill="none" stroke="#151515" stroke-width="1.9" stroke-dasharray="11 7"/>
<path d="M1280.32,1513.94L1287.77,1507.38" fill="none" stroke="#151515" stroke-width="1.9" stroke-dasharray="11 7"/>
<path d="M1291,1507.06L1298.25,1511.27" fill="none" stroke="#151515" stroke-width="1.9" stroke-dasharray="11 7"/>
<path d="M1300.08,1514.28L1310.58,1719.39" fill="none" stroke="#151515" stroke-width="1.9" stroke-dasharray="11 7"/>
<path d="M1311.02,1719.42L1320.79,1663.61" fill="none" stroke="#151515" stroke-width="1.9" stroke-dasharray="11 7"/>
<path d="M1321.92,1663.48L1331.55,1685.94" fill="none" stroke="#151515" stroke-width="1.9" stroke-dasharray="11 7"/>
<path d="M1332.66,1685.81L1342.72,1625.03" fill="none" stroke="#151515" stroke-width="1.9" stroke-dasharray="11 7"/>
<path d="M1343.24,1621.07L1353.3,1519.25" fill="none" stroke="#151515" stroke-width="1.9" stroke-dasharray="11 7"/>
<path d="M1355.22,1516.23L1362.23,1512.06" fill="none" stroke="#151515" stroke-width="1.9" stroke-dasharray="11 7"/>
<path d="M1364.63,1512.92L1373.98,1539.02" fill="none" stroke="#151515" stroke-width="1.9" stroke-dasharray="11 7"/>
<path d="M1376.63,1540.6L1383.88,1539.47" fill="none" stroke="#151515" stroke-width="1.9" stroke-dasharray="11 7"/>
<path d="M1386.55,1541.04L1396.37,1567.66" fill="none" stroke="#151515" stroke-width="1.9" stroke-dasharray="11 7"/>
<circle cx="1139.41" cy="1599.41" r="1.7" fill="none" stroke="#222" stroke-width="1.1"/>
<circle cx="1148.87" cy="1519.75" r="1.7" fill="none" stroke="#222" stroke-width="1.1"/>
<circle cx="1158.58" cy="1501.08" r="1.7" fill="none" stroke="#222" stroke-width="1.1"/>
<circle cx="1169.28" cy="1512.28" r="1.7" fill="none" stroke="#222" stroke-width="1.1"/>
<circle cx="1180.48" cy="1511.03" r="1.7" fill="none" stroke="#222" stroke-width="1.1"/>
<circle cx="1191.69" cy="1508.54" r="1.7" fill="none" stroke="#222" stroke-width="1.1"/>
<circle cx="1202.89" cy="1519.75" r="1.7" fill="none" stroke="#222" stroke-width="1.1"/>
<circle cx="1213.59" cy="1511.03" r="1.7" fill="none" stroke="#222" stroke-width="1.1"/>
<circle cx="1224.05" cy="1504.81" r="1.7" fill="none" stroke="#222" stroke-width="1.1"/>
<circle cx="1235.25" cy="1514.77" r="1.7" fill="none" stroke="#222" stroke-width="1.1"/>
<circle cx="1246.45" cy="1513.52" r="1.7" fill="none" stroke="#222" stroke-width="1.1"/>
<circle cx="1257.65" cy="1503.56" r="1.7" fill="none" stroke="#222" stroke-width="1.1"/>
<circle cx="1268.36" cy="1509.79" r="1.7" fill="none" stroke="#222" stroke-width="1.1"/>
<circle cx="1278.82" cy="1515.27" r="1.7" fill="none" stroke="#222" stroke-width="1.1"/>
<circle cx="1289.27" cy="1506.05" r="1.7" fill="none" stroke="#222" stroke-width="1.1"/>
<circle cx="1299.98" cy="1512.28" r="1.7" fill="none" stroke="#222" stroke-width="1.1"/>
<circle cx="1310.68" cy="1721.39" r="1.7" fill="none" stroke="#222" stroke-width="1.1"/>
<circle cx="1321.14" cy="1661.64" r="1.7" fill="none" stroke="#222" stroke-width="1.1"/>
<circle cx="1332.34" cy="1687.78" r="1.7" fill="none" stroke="#222" stroke-width="1.1"/>
<circle cx="1343.04" cy="1623.06" r="1.7" fill="none" stroke="#222" stroke-width="1.1"/>
<circle cx="1353.5" cy="1517.26" r="1.7" fill="none" stroke="#222" stroke-width="1.1"/>
<circle cx="1363.95" cy="1511.03" r="1.7" fill="none" stroke="#222" stroke-width="1.1"/>
<circle cx="1374.66" cy="1540.91" r="1.7" fill="none" stroke="#222" stroke-width="1.1"/>
<circle cx="1385.86" cy="1539.16" r="1.7" fill="none" stroke="#222" stroke-width="1.1"/>
<circle cx="1397.06" cy="1569.53" r="1.7" fill="none" stroke="#222" stroke-width="1.1"/>
</g>
<g id="b1c4">
<line x1="1866.94" y1="1489.87" x2="1866.94" y2="1705.21" stroke="#111" stroke-width="1.8" stroke-linecap="square"/>
<line x1="1866.94" y1="1705.21" x2="1866.94" y2="1726.37" stroke="#aaa" stroke-width="1.8" stroke-linecap="square"/>
<line x1="1568.95" y1="1726.37" x2="1866.94" y2="1726.37" stroke="#777" stroke-width="1.8" stroke-linecap="square"/>
<line x1="1568.95" y1="1705.21" x2="1568.95" y2="1726.37" stroke="#aaa" stroke-width="1.8" stroke-linecap="square"/>
<line x1="1560.74" y1="1537.17" x2="1568.21" y2="1537.17" stroke="#333" stroke-width="1.6"/>
<line x1="1560.74" y1="1577.5" x2="1568.21" y2="1577.5" stroke="#bbb" stroke-width="1.6"/>
<line x1="1560.74" y1="1616.34" x2="1568.21" y2="1616.34" stroke="#aaa" stroke-width="1.6"/>
<line x1="1560.74" y1="1656.66" x2="1568.21" y2="1656.66" stroke="#333" stroke-width="1.6"/>
<line x1="1560.74" y1="1695.25" x2="1568.21" y2="1695.25" stroke="#bbb" stroke-width="1.6"/>
<line x1="1625.46" y1="1726.37" x2="1625.46" y2="1733.84" stroke="#444" stroke-width="1.6"/>
<line x1="1681.97" y1="1726.37" x2="1681.97" y2="1733.84" stroke="#444" stroke-width="1.6"/>
<line x1="1741.22" y1="1726.37" x2="1741.22" y2="1733.84" stroke="#444" stroke-width="1.6"/>
<line x1="1798.48" y1="1726.37" x2="1798.48" y2="1733.84" stroke="#444" stroke-width="1.6"/>
<line x1="1855.73" y1="1726.37" x2="1855.73" y2="1733.84" stroke="#444" stroke-width="1.6"/>
<text x="1518.5" y="1514.77" font-size="29.09" textLength="31.18" lengthAdjust="spacingAndGlyphs" fill="#000">−4</text>
<text x="1519.32" y="1547.13" font-size="29.09" textLength="31.18" lengthAdjust="spacingAndGlyphs" fill="#000">−6</text>
<text x="1519.18" y="1585.72" font-size="29.09" textLength="31.18" lengthAdjust="spacingAndGlyphs" fill="#000">−8</text>
<text x="1504.28" y="1624.3" font-size="29.09" textLength="46.38" lengthAdjust="spacingAndGlyphs" fill="#000">−10</text>
<text x="1504.21" y="1661.64" font-size="29.09" textLength="46.38" lengthAdjust="spacingAndGlyphs" fill="#000">−12</text>
<text x="1503.32" y="1700.23" font-size="29.09" textLength="46.38" lengthAdjust="spacingAndGlyphs" fill="#000">−14</text>
<text x="1566.42" y="1767.44" font-size="32.97" textLength="18.55" lengthAdjust="spacingAndGlyphs" fill="#000">0</text>
<text x="1621.14" y="1767.44" font-size="32.97" textLength="18.55" lengthAdjust="spacingAndGlyphs" fill="#000">5</text>
<text x="1667.57" y="1767.44" font-size="32.97" textLength="37.1" lengthAdjust="spacingAndGlyphs" fill="#000">10</text>
<text x="1722.13" y="1767.44" font-size="32.97" textLength="37.1" lengthAdjust="spacingAndGlyphs" fill="#000">15</text>
<text x="1776.32" y="1767.44" font-size="32.97" textLength="37.1" lengthAdjust="spacingAndGlyphs" fill="#000">20</text>
<text x="1830.88" y="1767.44" font-size="32.97" textLength="37.1" lengthAdjust="spacingAndGlyphs" fill="#000">25</text>
<text transform="translate(1469.58,1727.1) rotate(-90)" x="-2.19" y="0" font-size="32.5" textLength="224" lengthAdjust="spacingAndGlyphs" fill="#000">Randic energy</text>
<text x="1610.2" y="1550.12" font-size="33.53" textLength="120.99" lengthAdjust="spacingAndGlyphs" fill="#3434d8">To GMP</text>
<path d="M1580.76,1680.81L1590.01,1506.81" fill="none" stroke="#151515" stroke-width="1.9" stroke-dasharray="11 7"/>
<path d="M1591.82,1503.77L1600.6,1498.39" fill="none" stroke="#151515" stroke-width="1.9" stroke-dasharray="11 7"/>
<path d="M1603.99,1498.43L1612.09,1503.72" fill="none" stroke="#151515" stroke-width="1.9" stroke-dasharray="11 7"/>
<path d="M1615.7,1504.31L1623.52,1502.32" fill="none" stroke="#151515" stroke-width="1.9" stroke-dasharray="11 7"/>
<path d="M1627.46,1501.69L1634.67,1501.21" fill="none" stroke="#151515" stroke-width="1.9" stroke-dasharray="11 7"/>
<path d="M1638.56,1501.71L1645.97,1504.18" fill="none" stroke="#151515" stroke-width="1.9" stroke-dasharray="11 7"/>
<path d="M1649.82,1504.38L1657.12,1502.75" fill="none" stroke="#151515" stroke-width="1.9" stroke-dasharray="11 7"/>
<path d="M1660.98,1501.75L1669.6,1499.16" fill="none" stroke="#151515" stroke-width="1.9" stroke-dasharray="11 7"/>
<path d="M1673.39,1499.29L1680.85,1502.11" fill="none" stroke="#151515" stroke-width="1.9" stroke-dasharray="11 7"/>
<path d="M1684.72,1502.73L1691.92,1502.41" fill="none" stroke="#151515" stroke-width="1.9" stroke-dasharray="11 7"/>
<path d="M1695.91,1502.1L1703.14,1501.3" fill="none" stroke="#151515" stroke-width="1.9" stroke-dasharray="11 7"/>
<path d="M1707.04,1501.63L1714.4,1503.76" fill="none" stroke="#151515" stroke-width="1.9" stroke-dasharray="11 7"/>
<path d="M1718.29,1504.7L1726.81,1506.41" fill="none" stroke="#151515" stroke-width="1.9" stroke-dasharray="11 7"/>
<path d="M1730.55,1505.89L1738.19,1501.99" fill="none" stroke="#151515" stroke-width="1.9" stroke-dasharray="11 7"/>
<path d="M1741.94,1501.47L1750.46,1503.17" fill="none" stroke="#151515" stroke-width="1.9" stroke-dasharray="11 7"/>
<path d="M1752.53,1505.56L1763.52,1715.66" fill="none" stroke="#151515" stroke-width="1.9" stroke-dasharray="11 7"/>
<path d="M1763.97,1715.68L1774.49,1654.9" fill="none" stroke="#151515" stroke-width="1.9" stroke-dasharray="11 7"/>
<path d="M1775.72,1654.72L1786.38,1676.04" fill="none" stroke="#151515" stroke-width="1.9" stroke-dasharray="11 7"/>
<path d="M1788.12,1676.01L1797.63,1655.49" fill="none" stroke="#151515" stroke-width="1.9" stroke-dasharray="11 7"/>
<path d="M1798.62,1651.68L1809.04,1503.82" fill="none" stroke="#151515" stroke-width="1.9" stroke-dasharray="11 7"/>
<path d="M1811.14,1502.24L1818.93,1503.9" fill="none" stroke="#151515" stroke-width="1.9" stroke-dasharray="11 7"/>
<path d="M1821.77,1506.1L1831.94,1526.67" fill="none" stroke="#151515" stroke-width="1.9" stroke-dasharray="11 7"/>
<path d="M1834.79,1528.88L1842.57,1530.53" fill="none" stroke="#151515" stroke-width="1.9" stroke-dasharray="11 7"/>
<path d="M1844.99,1532.9L1854.03,1571.32" fill="none" stroke="#151515" stroke-width="1.9" stroke-dasharray="11 7"/>
<circle cx="1580.65" cy="1682.8" r="1.7" fill="none" stroke="#222" stroke-width="1.1"/>
<circle cx="1590.11" cy="1504.81" r="1.7" fill="none" stroke="#222" stroke-width="1.1"/>
<circle cx="1602.31" cy="1497.34" r="1.7" fill="none" stroke="#222" stroke-width="1.1"/>
<circle cx="1613.76" cy="1504.81" r="1.7" fill="none" stroke="#222" stroke-width="1.1"/>
<circle cx="1625.46" cy="1501.82" r="1.7" fill="none" stroke="#222" stroke-width="1.1"/>
<circle cx="1636.66" cy="1501.08" r="1.7" fill="none" stroke="#222" stroke-width="1.1"/>
<circle cx="1647.87" cy="1504.81" r="1.7" fill="none" stroke="#222" stroke-width="1.1"/>
<circle cx="1659.07" cy="1502.32" r="1.7" fill="none" stroke="#222" stroke-width="1.1"/>
<circle cx="1671.52" cy="1498.59" r="1.7" fill="none" stroke="#222" stroke-width="1.1"/>
<circle cx="1682.72" cy="1502.82" r="1.7" fill="none" stroke="#222" stroke-width="1.1"/>
<circle cx="1693.92" cy="1502.32" r="1.7" fill="none" stroke="#222" stroke-width="1.1"/>
<circle cx="1705.12" cy="1501.08" r="1.7" fill="none" stroke="#222" stroke-width="1.1"/>
<circle cx="1716.33" cy="1504.31" r="1.7" fill="none" stroke="#222" stroke-width="1.1"/>
<circle cx="1728.77" cy="1506.8" r="1.7" fill="none" stroke="#222" stroke-width="1.1"/>
<circle cx="1739.98" cy="1501.08" r="1.7" fill="none" stroke="#222" stroke-width="1.1"/>
<circle cx="1752.42" cy="1503.56" r="1.7" fill="none" stroke="#222" stroke-width="1.1"/>
<circle cx="1763.62" cy="1717.65" r="1.7" fill="none" stroke="#222" stroke-width="1.1"/>
<circle cx="1774.83" cy="1652.93" r="1.7" fill="none" stroke="#222" stroke-width="1.1"/>
<circle cx="1787.27" cy="1677.82" r="1.7" fill="none" stroke="#222" stroke-width="1.1"/>
<circle cx="1798.48" cy="1653.68" r="1.7" fill="none" stroke="#222" stroke-width="1.1"/>
<circle cx="1809.18" cy="1501.82" r="1.7" fill="none" stroke="#222" stroke-width="1.1"/>
<circle cx="1820.88" cy="1504.31" r="1.7" fill="none" stroke="#222" stroke-width="1.1"/>
<circle cx="1832.83" cy="1528.46" r="1.7" fill="none" stroke="#222" stroke-width="1.1"/>
<circle cx="1844.53" cy="1530.95" r="1.7" fill="none" stroke="#222" stroke-width="1.1"/>
<circle cx="1854.49" cy="1573.27" r="1.7" fill="none" stroke="#222" stroke-width="1.1"/>
</g>
<g id="b1c5">
<line x1="2014.62" y1="1490.65" x2="2284.09" y2="1490.65" stroke="#777" stroke-width="1.8" stroke-linecap="square"/>
<line x1="2014.62" y1="1490.65" x2="2014.62" y2="1725.64" stroke="#999" stroke-width="1.8" stroke-linecap="square"/>
<line x1="2014.62" y1="1725.64" x2="2285.37" y2="1725.64" stroke="#999" stroke-width="1.8" stroke-linecap="square"/>
<line x1="2285.37" y1="1703.93" x2="2285.37" y2="1725.64" stroke="#888" stroke-width="1.8" stroke-linecap="square"/>
<line x1="2005.68" y1="1511.09" x2="2014.62" y2="1511.09" stroke="#bbb" stroke-width="1.6"/>
<line x1="2005.68" y1="1626.03" x2="2014.62" y2="1626.03" stroke="#333" stroke-width="1.6"/>
<line x1="2005.68" y1="1682.22" x2="2014.62" y2="1682.22" stroke="#333" stroke-width="1.6"/>
<line x1="2065.7" y1="1725.64" x2="2065.7" y2="1733.31" stroke="#444" stroke-width="1.6"/>
<line x1="2118.07" y1="1725.64" x2="2118.07" y2="1733.31" stroke="#444" stroke-width="1.6"/>
<line x1="2170.43" y1="1725.64" x2="2170.43" y2="1733.31" stroke="#444" stroke-width="1.6"/>
<line x1="2222.79" y1="1725.64" x2="2222.79" y2="1733.31" stroke="#444" stroke-width="1.6"/>
<line x1="2275.15" y1="1725.64" x2="2275.15" y2="1733.31" stroke="#444" stroke-width="1.6"/>
<text x="1954.19" y="1500.87" font-size="28.67" textLength="44.93" lengthAdjust="spacingAndGlyphs" fill="#000">100</text>
<text x="1969.2" y="1541.74" font-size="28.67" textLength="29.96" lengthAdjust="spacingAndGlyphs" fill="#000">90</text>
<text x="1969.2" y="1572.39" font-size="28.67" textLength="29.96" lengthAdjust="spacingAndGlyphs" fill="#000">80</text>
<text x="1969.2" y="1615.3" font-size="28.67" textLength="29.96" lengthAdjust="spacingAndGlyphs" fill="#000">70</text>
<text x="1969.2" y="1651.57" font-size="28.67" textLength="29.96" lengthAdjust="spacingAndGlyphs" fill="#000">60</text>
<text x="1969.2" y="1692.44" font-size="28.67" textLength="29.96" lengthAdjust="spacingAndGlyphs" fill="#000">50</text>
<text x="2006.13" y="1766.51" font-size="32.97" textLength="18.55" lengthAdjust="spacingAndGlyphs" fill="#000">0</text>
<text x="2060.24" y="1766.51" font-size="32.97" textLength="18.55" lengthAdjust="spacingAndGlyphs" fill="#000">5</text>
<text x="2106.84" y="1766.51" font-size="32.97" textLength="37.1" lengthAdjust="spacingAndGlyphs" fill="#000">10</text>
<text x="2161.55" y="1766.51" font-size="32.97" textLength="37.1" lengthAdjust="spacingAndGlyphs" fill="#000">15</text>
<text x="2214.58" y="1766.51" font-size="32.97" textLength="37.1" lengthAdjust="spacingAndGlyphs" fill="#000">20</text>
<text x="2269.29" y="1766.51" font-size="32.97" textLength="37.1" lengthAdjust="spacingAndGlyphs" fill="#000">25</text>
<text transform="translate(1943.69,1735.4) rotate(-90)" x="-2.13" y="0" font-size="31.57" textLength="257.9" lengthAdjust="spacingAndGlyphs" fill="#000">Laplacian energy</text>
<text x="2060.27" y="1614.53" font-size="33.62" textLength="121.55" lengthAdjust="spacingAndGlyphs" fill="#3434d8">To GMP</text>
<path d="M2023.92,1580.64L2032.65,1532.98" fill="none" stroke="#151515" stroke-width="1.9" stroke-dasharray="11 7"/>
<path d="M2033.37,1532.98L2044.91,1595.96" fill="none" stroke="#151515" stroke-width="1.9" stroke-dasharray="11 7"/>
<path d="M2045.66,1595.97L2053.82,1555.19" fill="none" stroke="#151515" stroke-width="1.9" stroke-dasharray="11 7"/>
<path d="M2055.75,1551.96L2062.88,1546.07" fill="none" stroke="#151515" stroke-width="1.9" stroke-dasharray="11 7"/>
<path d="M2065.3,1546.6L2075.05,1566.76" fill="none" stroke="#151515" stroke-width="1.9" stroke-dasharray="11 7"/>
<path d="M2076.29,1566.59L2086.54,1511.77" fill="none" stroke="#151515" stroke-width="1.9" stroke-dasharray="11 7"/>
<path d="M2087.27,1511.77L2097.26,1564.8" fill="none" stroke="#151515" stroke-width="1.9" stroke-dasharray="11 7"/>
<path d="M2099.63,1566.87L2105.85,1567.18" fill="none" stroke="#151515" stroke-width="1.9" stroke-dasharray="11 7"/>
<path d="M2108.46,1565.37L2117.46,1537.26" fill="none" stroke="#151515" stroke-width="1.9" stroke-dasharray="11 7"/>
<path d="M2118.97,1533.57L2128.15,1515.42" fill="none" stroke="#151515" stroke-width="1.9" stroke-dasharray="11 7"/>
<path d="M2129.32,1515.62L2138.23,1580.11" fill="none" stroke="#151515" stroke-width="1.9" stroke-dasharray="11 7"/>
<path d="M2140.47,1582.44L2146.75,1583.54" fill="none" stroke="#151515" stroke-width="1.9" stroke-dasharray="11 7"/>
<path d="M2149.34,1581.98L2159.07,1552.58" fill="none" stroke="#151515" stroke-width="1.9" stroke-dasharray="11 7"/>
<path d="M2160.68,1552.42L2169.45,1568.09" fill="none" stroke="#151515" stroke-width="1.9" stroke-dasharray="11 7"/>
<path d="M2171.6,1568.22L2179.47,1557.4" fill="none" stroke="#151515" stroke-width="1.9" stroke-dasharray="11 7"/>
<path d="M2181.25,1557.69L2190.25,1585.81" fill="none" stroke="#151515" stroke-width="1.9" stroke-dasharray="11 7"/>
<path d="M2191.59,1585.85L2200.87,1561.99" fill="none" stroke="#151515" stroke-width="1.9" stroke-dasharray="11 7"/>
<path d="M2201.9,1558.15L2210.99,1500.29" fill="none" stroke="#151515" stroke-width="1.9" stroke-dasharray="11 7"/>
<path d="M2211.4,1500.31L2222.69,1717.26" fill="none" stroke="#151515" stroke-width="1.9" stroke-dasharray="11 7"/>
<path d="M2222.89,1717.26L2232.91,1520.23" fill="none" stroke="#151515" stroke-width="1.9" stroke-dasharray="11 7"/>
<path d="M2233.78,1520.08L2243.73,1543.72" fill="none" stroke="#151515" stroke-width="1.9" stroke-dasharray="11 7"/>
<path d="M2244.7,1547.56L2253.24,1632.98" fill="none" stroke="#151515" stroke-width="1.9" stroke-dasharray="11 7"/>
<path d="M2254.47,1636.68L2263.91,1652.41" fill="none" stroke="#151515" stroke-width="1.9" stroke-dasharray="11 7"/>
<path d="M2265.39,1656.07L2274.7,1695.6" fill="none" stroke="#151515" stroke-width="1.9" stroke-dasharray="11 7"/>
<circle cx="2023.56" cy="1582.61" r="1.7" fill="none" stroke="#222" stroke-width="1.1"/>
<circle cx="2033.01" cy="1531.01" r="1.7" fill="none" stroke="#222" stroke-width="1.1"/>
<circle cx="2045.27" cy="1597.93" r="1.7" fill="none" stroke="#222" stroke-width="1.1"/>
<circle cx="2054.21" cy="1553.23" r="1.7" fill="none" stroke="#222" stroke-width="1.1"/>
<circle cx="2064.43" cy="1544.8" r="1.7" fill="none" stroke="#222" stroke-width="1.1"/>
<circle cx="2075.92" cy="1568.56" r="1.7" fill="none" stroke="#222" stroke-width="1.1"/>
<circle cx="2086.9" cy="1509.81" r="1.7" fill="none" stroke="#222" stroke-width="1.1"/>
<circle cx="2097.63" cy="1566.77" r="1.7" fill="none" stroke="#222" stroke-width="1.1"/>
<circle cx="2107.85" cy="1567.28" r="1.7" fill="none" stroke="#222" stroke-width="1.1"/>
<circle cx="2118.07" cy="1535.35" r="1.7" fill="none" stroke="#222" stroke-width="1.1"/>
<circle cx="2129.05" cy="1513.64" r="1.7" fill="none" stroke="#222" stroke-width="1.1"/>
<circle cx="2138.5" cy="1582.09" r="1.7" fill="none" stroke="#222" stroke-width="1.1"/>
<circle cx="2148.72" cy="1583.88" r="1.7" fill="none" stroke="#222" stroke-width="1.1"/>
<circle cx="2159.7" cy="1550.68" r="1.7" fill="none" stroke="#222" stroke-width="1.1"/>
<circle cx="2170.43" cy="1569.83" r="1.7" fill="none" stroke="#222" stroke-width="1.1"/>
<circle cx="2180.64" cy="1555.79" r="1.7" fill="none" stroke="#222" stroke-width="1.1"/>
<circle cx="2190.86" cy="1587.71" r="1.7" fill="none" stroke="#222" stroke-width="1.1"/>
<circle cx="2201.59" cy="1560.13" r="1.7" fill="none" stroke="#222" stroke-width="1.1"/>
<circle cx="2211.3" cy="1498.31" r="1.7" fill="none" stroke="#222" stroke-width="1.1"/>
<circle cx="2222.79" cy="1719.26" r="1.7" fill="none" stroke="#222" stroke-width="1.1"/>
<circle cx="2233.01" cy="1518.24" r="1.7" fill="none" stroke="#222" stroke-width="1.1"/>
<circle cx="2244.5" cy="1545.57" r="1.7" fill="none" stroke="#222" stroke-width="1.1"/>
<circle cx="2253.44" cy="1634.97" r="1.7" fill="none" stroke="#222" stroke-width="1.1"/>
<circle cx="2264.94" cy="1654.13" r="1.7" fill="none" stroke="#222" stroke-width="1.1"/>
<circle cx="2275.15" cy="1697.55" r="1.7" fill="none" stroke="#222" stroke-width="1.1"/>
</g>
<g id="b2c1">
<line x1="510.71" y1="1858.65" x2="510.71" y2="2027.93" stroke="#111" stroke-width="1.8" stroke-linecap="square"/>
<line x1="510.71" y1="2027.93" x2="510.71" y2="2093.9" stroke="#999" stroke-width="1.8" stroke-linecap="square"/>
<line x1="236.88" y1="2093.9" x2="510.71" y2="2093.9" stroke="#777" stroke-width="1.8" stroke-linecap="square"/>
<line x1="236.88" y1="2029.17" x2="236.88" y2="2093.9" stroke="#aaa" stroke-width="1.8" stroke-linecap="square"/>
<line x1="229.41" y1="1868.61" x2="236.88" y2="1868.61" stroke="#bbb" stroke-width="1.6"/>
<line x1="229.41" y1="1943.29" x2="236.88" y2="1943.29" stroke="#ccc" stroke-width="1.6"/>
<line x1="229.41" y1="1978.89" x2="236.88" y2="1978.89" stroke="#aaa" stroke-width="1.6"/>
<line x1="229.41" y1="2053.57" x2="236.88" y2="2053.57" stroke="#555" stroke-width="1.6"/>
<line x1="229.41" y1="2091.41" x2="236.88" y2="2091.41" stroke="#bbb" stroke-width="1.6"/>
<line x1="288.41" y1="2093.9" x2="288.41" y2="2101.37" stroke="#444" stroke-width="1.6"/>
<line x1="342.18" y1="2093.9" x2="342.18" y2="2101.37" stroke="#444" stroke-width="1.6"/>
<line x1="395.7" y1="2093.9" x2="395.7" y2="2101.37" stroke="#444" stroke-width="1.6"/>
<line x1="449.22" y1="2093.9" x2="449.22" y2="2101.37" stroke="#444" stroke-width="1.6"/>
<line x1="500.75" y1="2093.9" x2="500.75" y2="2101.37" stroke="#444" stroke-width="1.6"/>
<text x="149.83" y="1877.32" font-size="28.67" textLength="69.14" lengthAdjust="spacingAndGlyphs" fill="#000">−0.15</text>
<text x="149.83" y="1952" font-size="28.67" textLength="69.14" lengthAdjust="spacingAndGlyphs" fill="#000">−0.25</text>
<text x="151.07" y="2027.93" font-size="28.67" textLength="69.14" lengthAdjust="spacingAndGlyphs" fill="#000">−0.35</text>
<text x="151.07" y="2105.1" font-size="28.67" textLength="69.14" lengthAdjust="spacingAndGlyphs" fill="#000">−0.45</text>
<text x="223.89" y="2136.22" font-size="32.97" textLength="18.55" lengthAdjust="spacingAndGlyphs" fill="#000">0</text>
<text x="279.86" y="2136.22" font-size="32.97" textLength="18.55" lengthAdjust="spacingAndGlyphs" fill="#000">5</text>
<text x="325.04" y="2136.22" font-size="32.97" textLength="37.1" lengthAdjust="spacingAndGlyphs" fill="#000">10</text>
<text x="379.6" y="2136.22" font-size="32.97" textLength="37.1" lengthAdjust="spacingAndGlyphs" fill="#000">15</text>
<text x="433.78" y="2136.22" font-size="32.97" textLength="37.1" lengthAdjust="spacingAndGlyphs" fill="#000">20</text>
<text x="488.34" y="2136.22" font-size="32.97" textLength="37.1" lengthAdjust="spacingAndGlyphs" fill="#000">25</text>
<text transform="translate(123.63,2094.2) rotate(-90)" x="-2.17" y="0" font-size="32.12" textLength="223.14" lengthAdjust="spacingAndGlyphs" fill="#000">Degree energy</text>
<text x="253.97" y="1897.24" font-size="35.2" textLength="118.48" lengthAdjust="spacingAndGlyphs" fill="#c2672f">To MEP</text>
<path d="M247.58,2050.56L254.8,2051.36" fill="none" stroke="#151515" stroke-width="1.9" stroke-dasharray="11 7"/>
<path d="M258.74,2051.15L266.04,2049.52" fill="none" stroke="#151515" stroke-width="1.9" stroke-dasharray="11 7"/>
<path d="M269.6,2047.9L278.09,2041.57" fill="none" stroke="#151515" stroke-width="1.9" stroke-dasharray="11 7"/>
<path d="M280.2,2038.44L288.65,2006.22" fill="none" stroke="#151515" stroke-width="1.9" stroke-dasharray="11 7"/>
<path d="M290.82,2005.39L298.69,2010.64" fill="none" stroke="#151515" stroke-width="1.9" stroke-dasharray="11 7"/>
<path d="M301.77,2010.33L308.9,2003.21" fill="none" stroke="#151515" stroke-width="1.9" stroke-dasharray="11 7"/>
<path d="M310.64,1999.82L318.7,1951.49" fill="none" stroke="#151515" stroke-width="1.9" stroke-dasharray="11 7"/>
<path d="M320.88,1950.26L328.37,1953.25" fill="none" stroke="#151515" stroke-width="1.9" stroke-dasharray="11 7"/>
<path d="M330.65,1955.95L339.77,1998.59" fill="none" stroke="#151515" stroke-width="1.9" stroke-dasharray="11 7"/>
<path d="M342.18,2000.68L349.39,2001.16" fill="none" stroke="#151515" stroke-width="1.9" stroke-dasharray="11 7"/>
<path d="M352.21,2003.12L362.52,2026.11" fill="none" stroke="#151515" stroke-width="1.9" stroke-dasharray="11 7"/>
<path d="M363.81,2029.87L373.33,2069.55" fill="none" stroke="#151515" stroke-width="1.9" stroke-dasharray="11 7"/>
<path d="M375.13,2072.98L383.66,2082.46" fill="none" stroke="#151515" stroke-width="1.9" stroke-dasharray="11 7"/>
<path d="M385.23,2081.96L394.72,2000.04" fill="none" stroke="#151515" stroke-width="1.9" stroke-dasharray="11 7"/>
<path d="M395.95,1996.32L404.66,1981.12" fill="none" stroke="#151515" stroke-width="1.9" stroke-dasharray="11 7"/>
<path d="M405.91,1977.4L414.62,1907.93" fill="none" stroke="#151515" stroke-width="1.9" stroke-dasharray="11 7"/>
<path d="M415.62,1904.1L427.81,1874.19" fill="none" stroke="#151515" stroke-width="1.9" stroke-dasharray="11 7"/>
<path d="M428.7,1874.34L438.38,2008.51" fill="none" stroke="#151515" stroke-width="1.9" stroke-dasharray="11 7"/>
<path d="M438.78,2008.52L448.22,1936.56" fill="none" stroke="#151515" stroke-width="1.9" stroke-dasharray="11 7"/>
<path d="M448.88,1932.62L458.03,1887.99" fill="none" stroke="#151515" stroke-width="1.9" stroke-dasharray="11 7"/>
<path d="M459.29,1884.22L467.54,1866.68" fill="none" stroke="#151515" stroke-width="1.9" stroke-dasharray="11 7"/>
<path d="M468.59,1866.86L479.4,1976.15" fill="none" stroke="#151515" stroke-width="1.9" stroke-dasharray="11 7"/>
<path d="M479.87,1976.16L489.28,1907.93" fill="none" stroke="#151515" stroke-width="1.9" stroke-dasharray="11 7"/>
<path d="M490.32,1904.1L501.23,1877.92" fill="none" stroke="#151515" stroke-width="1.9" stroke-dasharray="11 7"/>
<circle cx="245.59" cy="2050.33" r="1.7" fill="none" stroke="#222" stroke-width="1.1"/>
<circle cx="256.79" cy="2051.58" r="1.7" fill="none" stroke="#222" stroke-width="1.1"/>
<circle cx="267.99" cy="2049.09" r="1.7" fill="none" stroke="#222" stroke-width="1.1"/>
<circle cx="279.69" cy="2040.38" r="1.7" fill="none" stroke="#222" stroke-width="1.1"/>
<circle cx="289.15" cy="2004.28" r="1.7" fill="none" stroke="#222" stroke-width="1.1"/>
<circle cx="300.36" cy="2011.75" r="1.7" fill="none" stroke="#222" stroke-width="1.1"/>
<circle cx="310.31" cy="2001.79" r="1.7" fill="none" stroke="#222" stroke-width="1.1"/>
<circle cx="319.03" cy="1949.51" r="1.7" fill="none" stroke="#222" stroke-width="1.1"/>
<circle cx="330.23" cy="1953.99" r="1.7" fill="none" stroke="#222" stroke-width="1.1"/>
<circle cx="340.19" cy="2000.55" r="1.7" fill="none" stroke="#222" stroke-width="1.1"/>
<circle cx="351.39" cy="2001.29" r="1.7" fill="none" stroke="#222" stroke-width="1.1"/>
<circle cx="363.34" cy="2027.93" r="1.7" fill="none" stroke="#222" stroke-width="1.1"/>
<circle cx="373.79" cy="2071.49" r="1.7" fill="none" stroke="#222" stroke-width="1.1"/>
<circle cx="385" cy="2083.94" r="1.7" fill="none" stroke="#222" stroke-width="1.1"/>
<circle cx="394.95" cy="1998.06" r="1.7" fill="none" stroke="#222" stroke-width="1.1"/>
<circle cx="405.66" cy="1979.39" r="1.7" fill="none" stroke="#222" stroke-width="1.1"/>
<circle cx="414.87" cy="1905.95" r="1.7" fill="none" stroke="#222" stroke-width="1.1"/>
<circle cx="428.56" cy="1872.34" r="1.7" fill="none" stroke="#222" stroke-width="1.1"/>
<circle cx="438.52" cy="2010.5" r="1.7" fill="none" stroke="#222" stroke-width="1.1"/>
<circle cx="448.48" cy="1934.58" r="1.7" fill="none" stroke="#222" stroke-width="1.1"/>
<circle cx="458.43" cy="1886.03" r="1.7" fill="none" stroke="#222" stroke-width="1.1"/>
<circle cx="468.39" cy="1864.87" r="1.7" fill="none" stroke="#222" stroke-width="1.1"/>
<circle cx="479.59" cy="1978.14" r="1.7" fill="none" stroke="#222" stroke-width="1.1"/>
<circle cx="489.55" cy="1905.95" r="1.7" fill="none" stroke="#222" stroke-width="1.1"/>
<circle cx="502" cy="1876.08" r="1.7" fill="none" stroke="#222" stroke-width="1.1"/>
</g>
<g id="b2c2">
<line x1="663.89" y1="1863.63" x2="663.89" y2="2034.15" stroke="#aaa" stroke-width="1.8" stroke-linecap="square"/>
<line x1="663.89" y1="2034.15" x2="663.89" y2="2098.88" stroke="#333" stroke-width="1.8" stroke-linecap="square"/>
<line x1="963.12" y1="1863.63" x2="963.12" y2="2034.15" stroke="#111" stroke-width="1.8" stroke-linecap="square"/>
<line x1="963.12" y1="2034.15" x2="963.12" y2="2098.88" stroke="#aaa" stroke-width="1.8" stroke-linecap="square"/>
<line x1="663.89" y1="2098.88" x2="963.12" y2="2098.88" stroke="#777" stroke-width="1.8" stroke-linecap="square"/>
<line x1="655.67" y1="1930.34" x2="663.89" y2="1930.34" stroke="#333" stroke-width="1.6"/>
<line x1="655.67" y1="2025.44" x2="663.89" y2="2025.44" stroke="#333" stroke-width="1.6"/>
<line x1="655.67" y1="2072.74" x2="663.89" y2="2072.74" stroke="#ccc" stroke-width="1.6"/>
<line x1="720.4" y1="2098.88" x2="720.4" y2="2105.1" stroke="#444" stroke-width="1.6"/>
<line x1="779.65" y1="2098.88" x2="779.65" y2="2105.1" stroke="#444" stroke-width="1.6"/>
<line x1="837.4" y1="2098.88" x2="837.4" y2="2105.1" stroke="#444" stroke-width="1.6"/>
<line x1="894.66" y1="2098.88" x2="894.66" y2="2105.1" stroke="#444" stroke-width="1.6"/>
<line x1="953.16" y1="2098.88" x2="953.16" y2="2105.1" stroke="#444" stroke-width="1.6"/>
<text x="584.79" y="1893.5" font-size="28.67" textLength="54.89" lengthAdjust="spacingAndGlyphs" fill="#000">−0.4</text>
<text x="589.36" y="1942.05" font-size="28.67" textLength="54.89" lengthAdjust="spacingAndGlyphs" fill="#000">−0.6</text>
<text x="589.22" y="1993.08" font-size="28.67" textLength="54.89" lengthAdjust="spacingAndGlyphs" fill="#000">−0.8</text>
<text x="589.5" y="2036.64" font-size="28.67" textLength="54.89" lengthAdjust="spacingAndGlyphs" fill="#000">−1.0</text>
<text x="589.43" y="2085.19" font-size="28.67" textLength="54.89" lengthAdjust="spacingAndGlyphs" fill="#000">−1.2</text>
<text x="668.82" y="2136.22" font-size="32.97" textLength="18.55" lengthAdjust="spacingAndGlyphs" fill="#000">0</text>
<text x="724.79" y="2136.22" font-size="32.97" textLength="18.55" lengthAdjust="spacingAndGlyphs" fill="#000">5</text>
<text x="769.97" y="2136.22" font-size="32.97" textLength="37.1" lengthAdjust="spacingAndGlyphs" fill="#000">10</text>
<text x="825.78" y="2136.22" font-size="32.97" textLength="37.1" lengthAdjust="spacingAndGlyphs" fill="#000">15</text>
<text x="879.97" y="2136.22" font-size="32.97" textLength="37.1" lengthAdjust="spacingAndGlyphs" fill="#000">20</text>
<text x="934.52" y="2136.22" font-size="32.97" textLength="37.1" lengthAdjust="spacingAndGlyphs" fill="#000">25</text>
<text transform="translate(566.45,2152.5) rotate(-90)" x="-2.19" y="0" font-size="32.41" textLength="302.67" lengthAdjust="spacingAndGlyphs" fill="#000">Betweeness energy</text>
<text x="795.99" y="1894.75" font-size="35.2" textLength="119.74" lengthAdjust="spacingAndGlyphs" fill="#c2672f">To MEP</text>
<path d="M675.34,1987.61L686.29,1968.67" fill="none" stroke="#151515" stroke-width="1.9" stroke-dasharray="11 7"/>
<path d="M689.15,1967.67L696.88,1970.69" fill="none" stroke="#151515" stroke-width="1.9" stroke-dasharray="11 7"/>
<path d="M699.69,1973.18L709.49,1991.32" fill="none" stroke="#151515" stroke-width="1.9" stroke-dasharray="11 7"/>
<path d="M710.89,1991.13L720.69,1948.97" fill="none" stroke="#151515" stroke-width="1.9" stroke-dasharray="11 7"/>
<path d="M721.82,1945.14L732.92,1914.06" fill="none" stroke="#151515" stroke-width="1.9" stroke-dasharray="11 7"/>
<path d="M734.76,1913.79L744.12,1926.73" fill="none" stroke="#151515" stroke-width="1.9" stroke-dasharray="11 7"/>
<path d="M745.68,1926.39L756.11,1873.06" fill="none" stroke="#151515" stroke-width="1.9" stroke-dasharray="11 7"/>
<path d="M758.11,1872.27L766.83,1878.63" fill="none" stroke="#151515" stroke-width="1.9" stroke-dasharray="11 7"/>
<path d="M769.17,1881.67L779.42,1907.82" fill="none" stroke="#151515" stroke-width="1.9" stroke-dasharray="11 7"/>
<path d="M780.6,1911.63L789.64,1950.06" fill="none" stroke="#151515" stroke-width="1.9" stroke-dasharray="11 7"/>
<path d="M791.12,1953.73L801.54,1971.44" fill="none" stroke="#151515" stroke-width="1.9" stroke-dasharray="11 7"/>
<path d="M802.93,1975.13L813.38,2029.7" fill="none" stroke="#151515" stroke-width="1.9" stroke-dasharray="11 7"/>
<path d="M814.15,2033.62L825.3,2088.21" fill="none" stroke="#151515" stroke-width="1.9" stroke-dasharray="11 7"/>
<path d="M825.89,2088.17L835.97,1981.38" fill="none" stroke="#151515" stroke-width="1.9" stroke-dasharray="11 7"/>
<path d="M836.98,1977.57L847.78,1953.82" fill="none" stroke="#151515" stroke-width="1.9" stroke-dasharray="11 7"/>
<path d="M849.22,1950.1L859.19,1919.05" fill="none" stroke="#151515" stroke-width="1.9" stroke-dasharray="11 7"/>
<path d="M860.63,1915.33L870.19,1894.08" fill="none" stroke="#151515" stroke-width="1.9" stroke-dasharray="11 7"/>
<path d="M871.19,1894.25L883.27,2025.94" fill="none" stroke="#151515" stroke-width="1.9" stroke-dasharray="11 7"/>
<path d="M883.76,2025.95L894.36,1956.47" fill="none" stroke="#151515" stroke-width="1.9" stroke-dasharray="11 7"/>
<path d="M895.48,1952.67L905.04,1931.42" fill="none" stroke="#151515" stroke-width="1.9" stroke-dasharray="11 7"/>
<path d="M906.54,1927.72L916.39,1900.36" fill="none" stroke="#151515" stroke-width="1.9" stroke-dasharray="11 7"/>
<path d="M919.01,1898.91L926.31,1900.54" fill="none" stroke="#151515" stroke-width="1.9" stroke-dasharray="11 7"/>
<path d="M929.43,1902.6L939.55,1916.77" fill="none" stroke="#151515" stroke-width="1.9" stroke-dasharray="11 7"/>
<path d="M942.64,1918.92L952.47,1921.6" fill="none" stroke="#151515" stroke-width="1.9" stroke-dasharray="11 7"/>
<circle cx="674.34" cy="1989.34" r="1.7" fill="none" stroke="#222" stroke-width="1.1"/>
<circle cx="687.29" cy="1966.94" r="1.7" fill="none" stroke="#222" stroke-width="1.1"/>
<circle cx="698.74" cy="1971.42" r="1.7" fill="none" stroke="#222" stroke-width="1.1"/>
<circle cx="710.44" cy="1993.08" r="1.7" fill="none" stroke="#222" stroke-width="1.1"/>
<circle cx="721.15" cy="1947.02" r="1.7" fill="none" stroke="#222" stroke-width="1.1"/>
<circle cx="733.59" cy="1912.17" r="1.7" fill="none" stroke="#222" stroke-width="1.1"/>
<circle cx="745.29" cy="1928.35" r="1.7" fill="none" stroke="#222" stroke-width="1.1"/>
<circle cx="756.49" cy="1871.1" r="1.7" fill="none" stroke="#222" stroke-width="1.1"/>
<circle cx="768.44" cy="1879.81" r="1.7" fill="none" stroke="#222" stroke-width="1.1"/>
<circle cx="780.14" cy="1909.68" r="1.7" fill="none" stroke="#222" stroke-width="1.1"/>
<circle cx="790.1" cy="1952" r="1.7" fill="none" stroke="#222" stroke-width="1.1"/>
<circle cx="802.55" cy="1973.16" r="1.7" fill="none" stroke="#222" stroke-width="1.1"/>
<circle cx="813.75" cy="2031.66" r="1.7" fill="none" stroke="#222" stroke-width="1.1"/>
<circle cx="825.7" cy="2090.17" r="1.7" fill="none" stroke="#222" stroke-width="1.1"/>
<circle cx="836.16" cy="1979.39" r="1.7" fill="none" stroke="#222" stroke-width="1.1"/>
<circle cx="848.6" cy="1952" r="1.7" fill="none" stroke="#222" stroke-width="1.1"/>
<circle cx="859.81" cy="1917.15" r="1.7" fill="none" stroke="#222" stroke-width="1.1"/>
<circle cx="871.01" cy="1892.26" r="1.7" fill="none" stroke="#222" stroke-width="1.1"/>
<circle cx="883.46" cy="2027.93" r="1.7" fill="none" stroke="#222" stroke-width="1.1"/>
<circle cx="894.66" cy="1954.49" r="1.7" fill="none" stroke="#222" stroke-width="1.1"/>
<circle cx="905.86" cy="1929.6" r="1.7" fill="none" stroke="#222" stroke-width="1.1"/>
<circle cx="917.06" cy="1898.48" r="1.7" fill="none" stroke="#222" stroke-width="1.1"/>
<circle cx="928.26" cy="1900.97" r="1.7" fill="none" stroke="#222" stroke-width="1.1"/>
<circle cx="940.71" cy="1918.4" r="1.7" fill="none" stroke="#222" stroke-width="1.1"/>
<circle cx="954.4" cy="1922.13" r="1.7" fill="none" stroke="#222" stroke-width="1.1"/>
</g>
<g id="b2c3">
<line x1="1128.95" y1="1864.13" x2="1407.02" y2="1864.13" stroke="#111" stroke-width="1.8" stroke-linecap="square"/>
<line x1="1407.02" y1="1864.13" x2="1407.02" y2="2031.66" stroke="#111" stroke-width="1.8" stroke-linecap="square"/>
<line x1="1407.02" y1="2031.66" x2="1407.02" y2="2098.88" stroke="#aaa" stroke-width="1.8" stroke-linecap="square"/>
<line x1="1128.21" y1="2098.88" x2="1407.02" y2="2098.88" stroke="#444" stroke-width="1.8" stroke-linecap="square"/>
<line x1="1128.21" y1="2030.42" x2="1128.21" y2="2098.88" stroke="#aaa" stroke-width="1.8" stroke-linecap="square"/>
<line x1="1120.74" y1="1889.77" x2="1128.21" y2="1889.77" stroke="#888" stroke-width="1.6"/>
<line x1="1120.74" y1="1935.82" x2="1128.21" y2="1935.82" stroke="#333" stroke-width="1.6"/>
<line x1="1120.74" y1="2030.42" x2="1128.21" y2="2030.42" stroke="#333" stroke-width="1.6"/>
<line x1="1120.74" y1="2078.96" x2="1128.21" y2="2078.96" stroke="#bbb" stroke-width="1.6"/>
<line x1="1180.98" y1="2098.88" x2="1180.98" y2="2105.1" stroke="#444" stroke-width="1.6"/>
<line x1="1234.75" y1="2098.88" x2="1234.75" y2="2105.1" stroke="#444" stroke-width="1.6"/>
<line x1="1288.27" y1="2098.88" x2="1288.27" y2="2105.1" stroke="#444" stroke-width="1.6"/>
<line x1="1342.3" y1="2098.88" x2="1342.3" y2="2105.1" stroke="#444" stroke-width="1.6"/>
<line x1="1395.82" y1="2098.88" x2="1395.82" y2="2105.1" stroke="#444" stroke-width="1.6"/>
<text x="1056.08" y="1895.99" font-size="28.67" textLength="47.14" lengthAdjust="spacingAndGlyphs" fill="#000">−20</text>
<text x="1055.73" y="1949.51" font-size="28.67" textLength="47.14" lengthAdjust="spacingAndGlyphs" fill="#000">−25</text>
<text x="1056.08" y="1994.32" font-size="28.67" textLength="47.14" lengthAdjust="spacingAndGlyphs" fill="#000">−30</text>
<text x="1055.73" y="2040.38" font-size="28.67" textLength="47.14" lengthAdjust="spacingAndGlyphs" fill="#000">−35</text>
<text x="1056.08" y="2083.94" font-size="28.67" textLength="47.14" lengthAdjust="spacingAndGlyphs" fill="#000">−40</text>
<text x="1116.46" y="2134.98" font-size="32.97" textLength="18.55" lengthAdjust="spacingAndGlyphs" fill="#000">0</text>
<text x="1172.43" y="2134.98" font-size="32.97" textLength="18.55" lengthAdjust="spacingAndGlyphs" fill="#000">5</text>
<text x="1218.86" y="2134.98" font-size="32.97" textLength="37.1" lengthAdjust="spacingAndGlyphs" fill="#000">10</text>
<text x="1273.41" y="2134.98" font-size="32.97" textLength="37.1" lengthAdjust="spacingAndGlyphs" fill="#000">15</text>
<text x="1327.6" y="2134.98" font-size="32.97" textLength="37.1" lengthAdjust="spacingAndGlyphs" fill="#000">20</text>
<text x="1380.92" y="2134.98" font-size="32.97" textLength="37.1" lengthAdjust="spacingAndGlyphs" fill="#000">25</text>
<text transform="translate(1032.86,2107.6) rotate(-90)" x="-1.33" y="0" font-size="33.21" textLength="215.97" lengthAdjust="spacingAndGlyphs" fill="#000">Graph energy</text>
<text x="1139.08" y="1897.24" font-size="35.2" textLength="118.48" lengthAdjust="spacingAndGlyphs" fill="#c2672f">To MEP</text>
<path d="M1139.24,2075.67L1148.28,2089.73" fill="none" stroke="#151515" stroke-width="1.9" stroke-dasharray="11 7"/>
<path d="M1150.09,2089.55L1159.34,2065.89" fill="none" stroke="#151515" stroke-width="1.9" stroke-dasharray="11 7"/>
<path d="M1161.1,2062.31L1169.5,2048.32" fill="none" stroke="#151515" stroke-width="1.9" stroke-dasharray="11 7"/>
<path d="M1171,2044.66L1180.75,2004.98" fill="none" stroke="#151515" stroke-width="1.9" stroke-dasharray="11 7"/>
<path d="M1182.59,2001.57L1190.32,1993.3" fill="none" stroke="#151515" stroke-width="1.9" stroke-dasharray="11 7"/>
<path d="M1193.67,1992.05L1200.9,1992.86" fill="none" stroke="#151515" stroke-width="1.9" stroke-dasharray="11 7"/>
<path d="M1203.39,1991.14L1213.59,1951.45" fill="none" stroke="#151515" stroke-width="1.9" stroke-dasharray="11 7"/>
<path d="M1214.95,1951.32L1224.44,1971.36" fill="none" stroke="#151515" stroke-width="1.9" stroke-dasharray="11 7"/>
<path d="M1226.28,1974.9L1234.26,1988.85" fill="none" stroke="#151515" stroke-width="1.9" stroke-dasharray="11 7"/>
<path d="M1237.15,1991.22L1244.56,1993.69" fill="none" stroke="#151515" stroke-width="1.9" stroke-dasharray="11 7"/>
<path d="M1248.39,1993.84L1254.47,1992.32" fill="none" stroke="#151515" stroke-width="1.9" stroke-dasharray="11 7"/>
<path d="M1256.92,1993.77L1267.1,2032.22" fill="none" stroke="#151515" stroke-width="1.9" stroke-dasharray="11 7"/>
<path d="M1268.59,2035.9L1277.83,2052.33" fill="none" stroke="#151515" stroke-width="1.9" stroke-dasharray="11 7"/>
<path d="M1279.15,2052.1L1288.44,1997.54" fill="none" stroke="#151515" stroke-width="1.9" stroke-dasharray="11 7"/>
<path d="M1289.97,1993.97L1298.78,1982.23" fill="none" stroke="#151515" stroke-width="1.9" stroke-dasharray="11 7"/>
<path d="M1300.18,1978.64L1308.48,1899.22" fill="none" stroke="#151515" stroke-width="1.9" stroke-dasharray="11 7"/>
<path d="M1309.51,1895.41L1319.07,1874.17" fill="none" stroke="#151515" stroke-width="1.9" stroke-dasharray="11 7"/>
<path d="M1320.07,1874.33L1330.92,1996.06" fill="none" stroke="#151515" stroke-width="1.9" stroke-dasharray="11 7"/>
<path d="M1331.57,1996.11L1342.56,1951.46" fill="none" stroke="#151515" stroke-width="1.9" stroke-dasharray="11 7"/>
<path d="M1343.58,1947.59L1352.96,1914.1" fill="none" stroke="#151515" stroke-width="1.9" stroke-dasharray="11 7"/>
<path d="M1355.3,1911.31L1362.15,1908.05" fill="none" stroke="#151515" stroke-width="1.9" stroke-dasharray="11 7"/>
<path d="M1364.27,1909.17L1374.34,1971.19" fill="none" stroke="#151515" stroke-width="1.9" stroke-dasharray="11 7"/>
<path d="M1376.56,1972.53L1383.96,1970.06" fill="none" stroke="#151515" stroke-width="1.9" stroke-dasharray="11 7"/>
<path d="M1386.28,1967.47L1395.89,1922.84" fill="none" stroke="#151515" stroke-width="1.9" stroke-dasharray="11 7"/>
<circle cx="1138.16" cy="2073.98" r="1.7" fill="none" stroke="#222" stroke-width="1.1"/>
<circle cx="1149.37" cy="2091.41" r="1.7" fill="none" stroke="#222" stroke-width="1.1"/>
<circle cx="1160.07" cy="2064.03" r="1.7" fill="none" stroke="#222" stroke-width="1.1"/>
<circle cx="1170.53" cy="2046.6" r="1.7" fill="none" stroke="#222" stroke-width="1.1"/>
<circle cx="1181.23" cy="2003.04" r="1.7" fill="none" stroke="#222" stroke-width="1.1"/>
<circle cx="1191.69" cy="1991.83" r="1.7" fill="none" stroke="#222" stroke-width="1.1"/>
<circle cx="1202.89" cy="1993.08" r="1.7" fill="none" stroke="#222" stroke-width="1.1"/>
<circle cx="1214.09" cy="1949.51" r="1.7" fill="none" stroke="#222" stroke-width="1.1"/>
<circle cx="1225.29" cy="1973.16" r="1.7" fill="none" stroke="#222" stroke-width="1.1"/>
<circle cx="1235.25" cy="1990.59" r="1.7" fill="none" stroke="#222" stroke-width="1.1"/>
<circle cx="1246.45" cy="1994.32" r="1.7" fill="none" stroke="#222" stroke-width="1.1"/>
<circle cx="1256.41" cy="1991.83" r="1.7" fill="none" stroke="#222" stroke-width="1.1"/>
<circle cx="1267.61" cy="2034.15" r="1.7" fill="none" stroke="#222" stroke-width="1.1"/>
<circle cx="1278.82" cy="2054.07" r="1.7" fill="none" stroke="#222" stroke-width="1.1"/>
<circle cx="1288.77" cy="1995.57" r="1.7" fill="none" stroke="#222" stroke-width="1.1"/>
<circle cx="1299.98" cy="1980.63" r="1.7" fill="none" stroke="#222" stroke-width="1.1"/>
<circle cx="1308.69" cy="1897.24" r="1.7" fill="none" stroke="#222" stroke-width="1.1"/>
<circle cx="1319.89" cy="1872.34" r="1.7" fill="none" stroke="#222" stroke-width="1.1"/>
<circle cx="1331.09" cy="1998.06" r="1.7" fill="none" stroke="#222" stroke-width="1.1"/>
<circle cx="1343.04" cy="1949.51" r="1.7" fill="none" stroke="#222" stroke-width="1.1"/>
<circle cx="1353.5" cy="1912.17" r="1.7" fill="none" stroke="#222" stroke-width="1.1"/>
<circle cx="1363.95" cy="1907.19" r="1.7" fill="none" stroke="#222" stroke-width="1.1"/>
<circle cx="1374.66" cy="1973.16" r="1.7" fill="none" stroke="#222" stroke-width="1.1"/>
<circle cx="1385.86" cy="1969.43" r="1.7" fill="none" stroke="#222" stroke-width="1.1"/>
<circle cx="1396.32" cy="1920.88" r="1.7" fill="none" stroke="#222" stroke-width="1.1"/>
</g>
<g id="b2c4">
<line x1="1866.94" y1="1863.63" x2="1866.94" y2="2040.38" stroke="#111" stroke-width="1.8" stroke-linecap="square"/>
<line x1="1866.94" y1="2040.38" x2="1866.94" y2="2098.88" stroke="#aaa" stroke-width="1.8" stroke-linecap="square"/>
<line x1="1561.48" y1="2098.88" x2="1866.94" y2="2098.88" stroke="#555" stroke-width="1.8" stroke-linecap="square"/>
<line x1="1568.95" y1="2037.89" x2="1568.95" y2="2098.88" stroke="#aaa" stroke-width="1.8" stroke-linecap="square"/>
<line x1="1561.48" y1="1876.82" x2="1568.95" y2="1876.82" stroke="#888" stroke-width="1.6"/>
<line x1="1561.48" y1="1907.69" x2="1568.95" y2="1907.69" stroke="#333" stroke-width="1.6"/>
<line x1="1561.48" y1="1971.42" x2="1568.95" y2="1971.42" stroke="#333" stroke-width="1.6"/>
<line x1="1561.48" y1="2035.4" x2="1568.95" y2="2035.4" stroke="#333" stroke-width="1.6"/>
<line x1="1561.48" y1="2065.27" x2="1568.95" y2="2065.27" stroke="#bbb" stroke-width="1.6"/>
<line x1="1625.46" y1="2098.88" x2="1625.46" y2="2106.35" stroke="#444" stroke-width="1.6"/>
<line x1="1681.97" y1="2098.88" x2="1681.97" y2="2106.35" stroke="#444" stroke-width="1.6"/>
<line x1="1741.22" y1="2098.88" x2="1741.22" y2="2106.35" stroke="#444" stroke-width="1.6"/>
<line x1="1797.23" y1="2098.88" x2="1797.23" y2="2106.35" stroke="#444" stroke-width="1.6"/>
<line x1="1855.73" y1="2098.88" x2="1855.73" y2="2106.35" stroke="#444" stroke-width="1.6"/>
<text x="1518.52" y="1886.03" font-size="28.67" textLength="30.72" lengthAdjust="spacingAndGlyphs" fill="#000">−6</text>
<text x="1503.7" y="1952" font-size="28.67" textLength="45.71" lengthAdjust="spacingAndGlyphs" fill="#000">−10</text>
<text x="1502.75" y="2012.99" font-size="28.67" textLength="45.71" lengthAdjust="spacingAndGlyphs" fill="#000">−14</text>
<text x="1503.43" y="2073.98" font-size="28.67" textLength="45.71" lengthAdjust="spacingAndGlyphs" fill="#000">−18</text>
<text x="1566.42" y="2136.22" font-size="32.97" textLength="18.55" lengthAdjust="spacingAndGlyphs" fill="#000">0</text>
<text x="1621.14" y="2136.22" font-size="32.97" textLength="18.55" lengthAdjust="spacingAndGlyphs" fill="#000">5</text>
<text x="1667.57" y="2136.22" font-size="32.97" textLength="37.1" lengthAdjust="spacingAndGlyphs" fill="#000">10</text>
<text x="1722.13" y="2136.22" font-size="32.97" textLength="37.1" lengthAdjust="spacingAndGlyphs" fill="#000">15</text>
<text x="1776.32" y="2136.22" font-size="32.97" textLength="37.1" lengthAdjust="spacingAndGlyphs" fill="#000">20</text>
<text x="1830.88" y="2136.22" font-size="32.97" textLength="37.1" lengthAdjust="spacingAndGlyphs" fill="#000">25</text>
<text transform="translate(1472.37,2104.4) rotate(-90)" x="-2.28" y="0" font-size="33.84" textLength="233.2" lengthAdjust="spacingAndGlyphs" fill="#000">Randic energy</text>
<text x="1581.57" y="1902.21" font-size="35.2" textLength="118.48" lengthAdjust="spacingAndGlyphs" fill="#c2672f">To MEP</text>
<path d="M1580.99,1995.58L1589.03,1989.33" fill="none" stroke="#151515" stroke-width="1.9" stroke-dasharray="11 7"/>
<path d="M1591.35,1986.24L1602.31,1958.84" fill="none" stroke="#151515" stroke-width="1.9" stroke-dasharray="11 7"/>
<path d="M1603.84,1958.82L1613.47,1981.28" fill="none" stroke="#151515" stroke-width="1.9" stroke-dasharray="11 7"/>
<path d="M1615.64,1984.56L1624.82,1994.12" fill="none" stroke="#151515" stroke-width="1.9" stroke-dasharray="11 7"/>
<path d="M1627.38,1993.95L1636.74,1981.01" fill="none" stroke="#151515" stroke-width="1.9" stroke-dasharray="11 7"/>
<path d="M1638.8,1977.6L1648.22,1958.77" fill="none" stroke="#151515" stroke-width="1.9" stroke-dasharray="11 7"/>
<path d="M1650.5,1955.54L1659.68,1945.98" fill="none" stroke="#151515" stroke-width="1.9" stroke-dasharray="11 7"/>
<path d="M1662.66,1943.34L1671.16,1937.02" fill="none" stroke="#151515" stroke-width="1.9" stroke-dasharray="11 7"/>
<path d="M1673.31,1937.74L1682.17,1968.75" fill="none" stroke="#151515" stroke-width="1.9" stroke-dasharray="11 7"/>
<path d="M1683.61,1972.46L1694.27,1993.78" fill="none" stroke="#151515" stroke-width="1.9" stroke-dasharray="11 7"/>
<path d="M1695.99,1997.39L1705.55,2018.64" fill="none" stroke="#151515" stroke-width="1.9" stroke-dasharray="11 7"/>
<path d="M1706.79,2022.42L1717.15,2070.78" fill="none" stroke="#151515" stroke-width="1.9" stroke-dasharray="11 7"/>
<path d="M1718.6,2074.45L1727.74,2089.7" fill="none" stroke="#151515" stroke-width="1.9" stroke-dasharray="11 7"/>
<path d="M1728.95,2089.42L1739.8,1968.93" fill="none" stroke="#151515" stroke-width="1.9" stroke-dasharray="11 7"/>
<path d="M1741.89,1966.36L1750.51,1963.78" fill="none" stroke="#151515" stroke-width="1.9" stroke-dasharray="11 7"/>
<path d="M1752.7,1961.22L1762.1,1894.24" fill="none" stroke="#151515" stroke-width="1.9" stroke-dasharray="11 7"/>
<path d="M1763.42,1890.55L1775.03,1871.56" fill="none" stroke="#151515" stroke-width="1.9" stroke-dasharray="11 7"/>
<path d="M1776.24,1871.84L1787.11,2001.79" fill="none" stroke="#151515" stroke-width="1.9" stroke-dasharray="11 7"/>
<path d="M1787.65,2001.82L1798.1,1947.74" fill="none" stroke="#151515" stroke-width="1.9" stroke-dasharray="11 7"/>
<path d="M1798.81,1943.81L1808.1,1889.25" fill="none" stroke="#151515" stroke-width="1.9" stroke-dasharray="11 7"/>
<path d="M1809.6,1885.65L1819.72,1871.48" fill="none" stroke="#151515" stroke-width="1.9" stroke-dasharray="11 7"/>
<path d="M1821.09,1871.84L1832.63,1983.62" fill="none" stroke="#151515" stroke-width="1.9" stroke-dasharray="11 7"/>
<path d="M1833.08,1983.62L1843.04,1902.95" fill="none" stroke="#151515" stroke-width="1.9" stroke-dasharray="11 7"/>
<path d="M1844.4,1899.31L1857.11,1880.23" fill="none" stroke="#151515" stroke-width="1.9" stroke-dasharray="11 7"/>
<circle cx="1579.41" cy="1996.81" r="1.7" fill="none" stroke="#222" stroke-width="1.1"/>
<circle cx="1590.61" cy="1988.1" r="1.7" fill="none" stroke="#222" stroke-width="1.1"/>
<circle cx="1603.06" cy="1956.98" r="1.7" fill="none" stroke="#222" stroke-width="1.1"/>
<circle cx="1614.26" cy="1983.12" r="1.7" fill="none" stroke="#222" stroke-width="1.1"/>
<circle cx="1626.21" cy="1995.57" r="1.7" fill="none" stroke="#222" stroke-width="1.1"/>
<circle cx="1637.91" cy="1979.39" r="1.7" fill="none" stroke="#222" stroke-width="1.1"/>
<circle cx="1649.11" cy="1956.98" r="1.7" fill="none" stroke="#222" stroke-width="1.1"/>
<circle cx="1661.06" cy="1944.53" r="1.7" fill="none" stroke="#222" stroke-width="1.1"/>
<circle cx="1672.76" cy="1935.82" r="1.7" fill="none" stroke="#222" stroke-width="1.1"/>
<circle cx="1682.72" cy="1970.67" r="1.7" fill="none" stroke="#222" stroke-width="1.1"/>
<circle cx="1695.17" cy="1995.57" r="1.7" fill="none" stroke="#222" stroke-width="1.1"/>
<circle cx="1706.37" cy="2020.46" r="1.7" fill="none" stroke="#222" stroke-width="1.1"/>
<circle cx="1717.57" cy="2072.74" r="1.7" fill="none" stroke="#222" stroke-width="1.1"/>
<circle cx="1728.77" cy="2091.41" r="1.7" fill="none" stroke="#222" stroke-width="1.1"/>
<circle cx="1739.98" cy="1966.94" r="1.7" fill="none" stroke="#222" stroke-width="1.1"/>
<circle cx="1752.42" cy="1963.21" r="1.7" fill="none" stroke="#222" stroke-width="1.1"/>
<circle cx="1762.38" cy="1892.26" r="1.7" fill="none" stroke="#222" stroke-width="1.1"/>
<circle cx="1776.07" cy="1869.85" r="1.7" fill="none" stroke="#222" stroke-width="1.1"/>
<circle cx="1787.27" cy="2003.78" r="1.7" fill="none" stroke="#222" stroke-width="1.1"/>
<circle cx="1798.48" cy="1945.78" r="1.7" fill="none" stroke="#222" stroke-width="1.1"/>
<circle cx="1808.43" cy="1887.28" r="1.7" fill="none" stroke="#222" stroke-width="1.1"/>
<circle cx="1820.88" cy="1869.85" r="1.7" fill="none" stroke="#222" stroke-width="1.1"/>
<circle cx="1832.83" cy="1985.61" r="1.7" fill="none" stroke="#222" stroke-width="1.1"/>
<circle cx="1843.29" cy="1900.97" r="1.7" fill="none" stroke="#222" stroke-width="1.1"/>
<circle cx="1858.22" cy="1878.56" r="1.7" fill="none" stroke="#222" stroke-width="1.1"/>
</g>
<g id="b2c5">
<line x1="2014.62" y1="1861.05" x2="2284.09" y2="1861.05" stroke="#111" stroke-width="1.8" stroke-linecap="square"/>
<line x1="2014.62" y1="1861.05" x2="2014.62" y2="2098.09" stroke="#888" stroke-width="1.8" stroke-linecap="square"/>
<line x1="2014.62" y1="2098.09" x2="2285.37" y2="2098.09" stroke="#888" stroke-width="1.8" stroke-linecap="square"/>
<line x1="2285.37" y1="2036.79" x2="2285.37" y2="2098.09" stroke="#666" stroke-width="1.8" stroke-linecap="square"/>
<line x1="2005.68" y1="1894.51" x2="2014.62" y2="1894.51" stroke="#333" stroke-width="1.6"/>
<line x1="2005.68" y1="1984.43" x2="2014.62" y2="1984.43" stroke="#333" stroke-width="1.6"/>
<line x1="2005.68" y1="2073.83" x2="2014.62" y2="2073.83" stroke="#333" stroke-width="1.6"/>
<line x1="2065.7" y1="2098.09" x2="2065.7" y2="2104.48" stroke="#444" stroke-width="1.6"/>
<line x1="2118.07" y1="2098.09" x2="2118.07" y2="2104.48" stroke="#444" stroke-width="1.6"/>
<line x1="2170.43" y1="2098.09" x2="2170.43" y2="2104.48" stroke="#444" stroke-width="1.6"/>
<line x1="2222.79" y1="2098.09" x2="2222.79" y2="2104.48" stroke="#444" stroke-width="1.6"/>
<line x1="2275.15" y1="2098.09" x2="2275.15" y2="2104.48" stroke="#444" stroke-width="1.6"/>
<text x="1952.86" y="1905.24" font-size="28.67" textLength="46.29" lengthAdjust="spacingAndGlyphs" fill="#000">120</text>
<text x="1954.38" y="1947.39" font-size="28.67" textLength="44.76" lengthAdjust="spacingAndGlyphs" fill="#000">110</text>
<text x="1952.86" y="1988.26" font-size="28.67" textLength="46.29" lengthAdjust="spacingAndGlyphs" fill="#000">100</text>
<text x="1968.33" y="2030.4" font-size="28.67" textLength="30.86" lengthAdjust="spacingAndGlyphs" fill="#000">90</text>
<text x="1968.33" y="2076.38" font-size="28.67" textLength="30.86" lengthAdjust="spacingAndGlyphs" fill="#000">80</text>
<text x="2006.13" y="2132.57" font-size="32.97" textLength="18.55" lengthAdjust="spacingAndGlyphs" fill="#000">0</text>
<text x="2061.51" y="2132.57" font-size="32.97" textLength="18.55" lengthAdjust="spacingAndGlyphs" fill="#000">5</text>
<text x="2106.84" y="2132.57" font-size="32.97" textLength="37.1" lengthAdjust="spacingAndGlyphs" fill="#000">10</text>
<text x="2162.83" y="2132.57" font-size="32.97" textLength="37.1" lengthAdjust="spacingAndGlyphs" fill="#000">15</text>
<text x="2214.58" y="2132.57" font-size="32.97" textLength="37.1" lengthAdjust="spacingAndGlyphs" fill="#000">20</text>
<text x="2270.57" y="2132.57" font-size="32.97" textLength="37.1" lengthAdjust="spacingAndGlyphs" fill="#000">25</text>
<text transform="translate(1939.96,2115.7) rotate(-90)" x="-2.15" y="0" font-size="31.82" textLength="260.01" lengthAdjust="spacingAndGlyphs" fill="#000">Laplacian energy</text>
<text x="2060.27" y="1900.13" font-size="34.11" textLength="117.69" lengthAdjust="spacingAndGlyphs" fill="#c2672f">To MEP</text>
<path d="M2024.15,1926.32L2032.42,1899.49" fill="none" stroke="#151515" stroke-width="1.9" stroke-dasharray="11 7"/>
<path d="M2033.81,1895.75L2044.47,1871.32" fill="none" stroke="#151515" stroke-width="1.9" stroke-dasharray="11 7"/>
<path d="M2045.4,1871.48L2054.08,2006.7" fill="none" stroke="#151515" stroke-width="1.9" stroke-dasharray="11 7"/>
<path d="M2054.97,2010.54L2064.95,2034.94" fill="none" stroke="#151515" stroke-width="1.9" stroke-dasharray="11 7"/>
<path d="M2067.65,2037.25L2074.48,2038.88" fill="none" stroke="#151515" stroke-width="1.9" stroke-dasharray="11 7"/>
<path d="M2077.11,2041.22L2085.96,2065.56" fill="none" stroke="#151515" stroke-width="1.9" stroke-dasharray="11 7"/>
<path d="M2088.2,2066.18L2096.08,2059.76" fill="none" stroke="#151515" stroke-width="1.9" stroke-dasharray="11 7"/>
<path d="M2098.01,2056.53L2107.47,2006.82" fill="none" stroke="#151515" stroke-width="1.9" stroke-dasharray="11 7"/>
<path d="M2108.66,2003.03L2117.25,1983.7" fill="none" stroke="#151515" stroke-width="1.9" stroke-dasharray="11 7"/>
<path d="M2118.67,1983.78L2127.67,2011.89" fill="none" stroke="#151515" stroke-width="1.9" stroke-dasharray="11 7"/>
<path d="M2128.97,2015.68L2137.82,2040.02" fill="none" stroke="#151515" stroke-width="1.9" stroke-dasharray="11 7"/>
<path d="M2140.4,2042.53L2148.1,2045.1" fill="none" stroke="#151515" stroke-width="1.9" stroke-dasharray="11 7"/>
<path d="M2151.36,2047.19L2158.85,2055.25" fill="none" stroke="#151515" stroke-width="1.9" stroke-dasharray="11 7"/>
<path d="M2160.34,2054.72L2169.79,1904.68" fill="none" stroke="#151515" stroke-width="1.9" stroke-dasharray="11 7"/>
<path d="M2170.58,1904.58L2179.98,1931.45" fill="none" stroke="#151515" stroke-width="1.9" stroke-dasharray="11 7"/>
<path d="M2180.87,1935.33L2190.64,2022.03" fill="none" stroke="#151515" stroke-width="1.9" stroke-dasharray="11 7"/>
<path d="M2191.42,2025.94L2201.8,2061.69" fill="none" stroke="#151515" stroke-width="1.9" stroke-dasharray="11 7"/>
<path d="M2202.63,2061.63L2211.02,2000.46" fill="none" stroke="#151515" stroke-width="1.9" stroke-dasharray="11 7"/>
<path d="M2212.36,2000.17L2223.01,2017.21" fill="none" stroke="#151515" stroke-width="1.9" stroke-dasharray="11 7"/>
<path d="M2224.46,2020.87L2233.38,2065.48" fill="none" stroke="#151515" stroke-width="1.9" stroke-dasharray="11 7"/>
<path d="M2234.66,2069.23L2243.62,2087.36" fill="none" stroke="#151515" stroke-width="1.9" stroke-dasharray="11 7"/>
<path d="M2246.49,2089.4L2252.73,2090.18" fill="none" stroke="#151515" stroke-width="1.9" stroke-dasharray="11 7"/>
<path d="M2254.87,2088.43L2264.78,1960.88" fill="none" stroke="#151515" stroke-width="1.9" stroke-dasharray="11 7"/>
<path d="M2265.18,1960.87L2273.64,2030.97" fill="none" stroke="#151515" stroke-width="1.9" stroke-dasharray="11 7"/>
<circle cx="2023.56" cy="1928.23" r="1.7" fill="none" stroke="#222" stroke-width="1.1"/>
<circle cx="2033.01" cy="1897.58" r="1.7" fill="none" stroke="#222" stroke-width="1.1"/>
<circle cx="2045.27" cy="1869.48" r="1.7" fill="none" stroke="#222" stroke-width="1.1"/>
<circle cx="2054.21" cy="2008.69" r="1.7" fill="none" stroke="#222" stroke-width="1.1"/>
<circle cx="2065.7" cy="2036.79" r="1.7" fill="none" stroke="#222" stroke-width="1.1"/>
<circle cx="2076.43" cy="2039.34" r="1.7" fill="none" stroke="#222" stroke-width="1.1"/>
<circle cx="2086.65" cy="2067.44" r="1.7" fill="none" stroke="#222" stroke-width="1.1"/>
<circle cx="2097.63" cy="2058.5" r="1.7" fill="none" stroke="#222" stroke-width="1.1"/>
<circle cx="2107.85" cy="2004.86" r="1.7" fill="none" stroke="#222" stroke-width="1.1"/>
<circle cx="2118.07" cy="1981.87" r="1.7" fill="none" stroke="#222" stroke-width="1.1"/>
<circle cx="2128.28" cy="2013.8" r="1.7" fill="none" stroke="#222" stroke-width="1.1"/>
<circle cx="2138.5" cy="2041.9" r="1.7" fill="none" stroke="#222" stroke-width="1.1"/>
<circle cx="2149.99" cy="2045.73" r="1.7" fill="none" stroke="#222" stroke-width="1.1"/>
<circle cx="2160.21" cy="2056.71" r="1.7" fill="none" stroke="#222" stroke-width="1.1"/>
<circle cx="2169.92" cy="1902.69" r="1.7" fill="none" stroke="#222" stroke-width="1.1"/>
<circle cx="2180.64" cy="1933.34" r="1.7" fill="none" stroke="#222" stroke-width="1.1"/>
<circle cx="2190.86" cy="2024.02" r="1.7" fill="none" stroke="#222" stroke-width="1.1"/>
<circle cx="2202.36" cy="2063.61" r="1.7" fill="none" stroke="#222" stroke-width="1.1"/>
<circle cx="2211.3" cy="1998.47" r="1.7" fill="none" stroke="#222" stroke-width="1.1"/>
<circle cx="2224.07" cy="2018.91" r="1.7" fill="none" stroke="#222" stroke-width="1.1"/>
<circle cx="2233.77" cy="2067.44" r="1.7" fill="none" stroke="#222" stroke-width="1.1"/>
<circle cx="2244.5" cy="2089.15" r="1.7" fill="none" stroke="#222" stroke-width="1.1"/>
<circle cx="2254.72" cy="2090.43" r="1.7" fill="none" stroke="#222" stroke-width="1.1"/>
<circle cx="2264.94" cy="1958.88" r="1.7" fill="none" stroke="#222" stroke-width="1.1"/>
<circle cx="2273.88" cy="2032.96" r="1.7" fill="none" stroke="#222" stroke-width="1.1"/>
</g>
<g id="b3c1">
<line x1="235.63" y1="2229.89" x2="510.71" y2="2229.89" stroke="#111" stroke-width="1.8" stroke-linecap="square"/>
<line x1="510.71" y1="2229.89" x2="510.71" y2="2251.05" stroke="#aaa" stroke-width="1.8" stroke-linecap="square"/>
<line x1="510.71" y1="2251.05" x2="510.71" y2="2465.14" stroke="#111" stroke-width="1.8" stroke-linecap="square"/>
<line x1="235.63" y1="2465.14" x2="510.71" y2="2465.14" stroke="#111" stroke-width="1.8" stroke-linecap="square"/>
<line x1="235.63" y1="2229.89" x2="235.63" y2="2254.79" stroke="#ccc" stroke-width="1.8" stroke-linecap="square"/>
<line x1="229.41" y1="2460.17" x2="235.63" y2="2460.17" stroke="#aaa" stroke-width="1.6"/>
<line x1="288.41" y1="2465.14" x2="288.41" y2="2472.61" stroke="#444" stroke-width="1.6"/>
<line x1="342.18" y1="2465.14" x2="342.18" y2="2472.61" stroke="#444" stroke-width="1.6"/>
<line x1="447.23" y1="2465.14" x2="447.23" y2="2472.61" stroke="#444" stroke-width="1.6"/>
<line x1="500.75" y1="2465.14" x2="500.75" y2="2472.61" stroke="#444" stroke-width="1.6"/>
<text x="146.1" y="2252.3" font-size="28.67" textLength="69.14" lengthAdjust="spacingAndGlyphs" fill="#000">−0.35</text>
<text x="146.1" y="2322" font-size="28.67" textLength="69.14" lengthAdjust="spacingAndGlyphs" fill="#000">−0.45</text>
<text x="149.83" y="2390.46" font-size="28.67" textLength="69.14" lengthAdjust="spacingAndGlyphs" fill="#000">−0.55</text>
<text x="146.1" y="2465.14" font-size="28.67" textLength="69.14" lengthAdjust="spacingAndGlyphs" fill="#000">−0.65</text>
<text x="221.4" y="2502.49" font-size="32.97" textLength="18.55" lengthAdjust="spacingAndGlyphs" fill="#000">0</text>
<text x="277.37" y="2502.49" font-size="32.97" textLength="18.55" lengthAdjust="spacingAndGlyphs" fill="#000">5</text>
<text x="322.55" y="2502.49" font-size="32.97" textLength="37.1" lengthAdjust="spacingAndGlyphs" fill="#000">10</text>
<text x="377.11" y="2502.49" font-size="32.97" textLength="37.1" lengthAdjust="spacingAndGlyphs" fill="#000">15</text>
<text x="430.05" y="2502.49" font-size="32.97" textLength="37.1" lengthAdjust="spacingAndGlyphs" fill="#000">20</text>
<text x="485.85" y="2502.49" font-size="32.97" textLength="37.1" lengthAdjust="spacingAndGlyphs" fill="#000">25</text>
<text transform="translate(118.25,2457.6) rotate(-90)" x="-2.17" y="0" font-size="32.2" textLength="223.75" lengthAdjust="spacingAndGlyphs" fill="#000">Degree energy</text>
<text x="237.8" y="2262.26" font-size="35.2" textLength="122.49" lengthAdjust="spacingAndGlyphs" fill="#1ca05d">To ProB</text>
<text x="328.99" y="2553.52" font-size="32.62" textLength="96.19" lengthAdjust="spacingAndGlyphs" fill="#000">Index</text>
<path d="M246.24,2312.64L255.64,2285.31" fill="none" stroke="#151515" stroke-width="1.9" stroke-dasharray="11 7"/>
<path d="M257.44,2285.06L266.1,2297.46" fill="none" stroke="#151515" stroke-width="1.9" stroke-dasharray="11 7"/>
<path d="M268.47,2300.68L277.97,2312.95" fill="none" stroke="#151515" stroke-width="1.9" stroke-dasharray="11 7"/>
<path d="M280.71,2315.84L286.39,2320.7" fill="none" stroke="#151515" stroke-width="1.9" stroke-dasharray="11 7"/>
<path d="M288.86,2320.25L299.4,2300.86" fill="none" stroke="#151515" stroke-width="1.9" stroke-dasharray="11 7"/>
<path d="M301.03,2300.98L309.64,2325.1" fill="none" stroke="#151515" stroke-width="1.9" stroke-dasharray="11 7"/>
<path d="M310.67,2328.95L321.16,2387.25" fill="none" stroke="#151515" stroke-width="1.9" stroke-dasharray="11 7"/>
<path d="M321.77,2391.2L329.97,2454.45" fill="none" stroke="#151515" stroke-width="1.9" stroke-dasharray="11 7"/>
<path d="M331.24,2454.71L341.66,2437" fill="none" stroke="#151515" stroke-width="1.9" stroke-dasharray="11 7"/>
<path d="M342.97,2433.29L352.34,2370.04" fill="none" stroke="#151515" stroke-width="1.9" stroke-dasharray="11 7"/>
<path d="M352.87,2366.07L362.36,2285.4" fill="none" stroke="#151515" stroke-width="1.9" stroke-dasharray="11 7"/>
<path d="M363.49,2285.21L372.9,2304.03" fill="none" stroke="#151515" stroke-width="1.9" stroke-dasharray="11 7"/>
<path d="M375.13,2304.33L383.66,2294.86" fill="none" stroke="#151515" stroke-width="1.9" stroke-dasharray="11 7"/>
<path d="M386.5,2294.69L393.45,2300.77" fill="none" stroke="#151515" stroke-width="1.9" stroke-dasharray="11 7"/>
<path d="M395.73,2300.24L404.14,2280.28" fill="none" stroke="#151515" stroke-width="1.9" stroke-dasharray="11 7"/>
<path d="M405.44,2280.37L415.59,2317.58" fill="none" stroke="#151515" stroke-width="1.9" stroke-dasharray="11 7"/>
<path d="M417.06,2317.75L425.13,2302.61" fill="none" stroke="#151515" stroke-width="1.9" stroke-dasharray="11 7"/>
<path d="M427.49,2299.43L435.86,2291.05" fill="none" stroke="#151515" stroke-width="1.9" stroke-dasharray="11 7"/>
<path d="M437.68,2287.68L448.07,2238.08" fill="none" stroke="#151515" stroke-width="1.9" stroke-dasharray="11 7"/>
<path d="M449.11,2238.02L457.8,2264.09" fill="none" stroke="#151515" stroke-width="1.9" stroke-dasharray="11 7"/>
<path d="M459.14,2267.86L468.93,2293.99" fill="none" stroke="#151515" stroke-width="1.9" stroke-dasharray="11 7"/>
<path d="M470.1,2297.81L479.88,2338.73" fill="none" stroke="#151515" stroke-width="1.9" stroke-dasharray="11 7"/>
<path d="M480.59,2338.69L490.55,2259.26" fill="none" stroke="#151515" stroke-width="1.9" stroke-dasharray="11 7"/>
<path d="M491.48,2259.16L500.07,2282.78" fill="none" stroke="#151515" stroke-width="1.9" stroke-dasharray="11 7"/>
<circle cx="245.59" cy="2314.53" r="1.7" fill="none" stroke="#222" stroke-width="1.1"/>
<circle cx="256.29" cy="2283.42" r="1.7" fill="none" stroke="#222" stroke-width="1.1"/>
<circle cx="267.25" cy="2299.1" r="1.7" fill="none" stroke="#222" stroke-width="1.1"/>
<circle cx="279.2" cy="2314.53" r="1.7" fill="none" stroke="#222" stroke-width="1.1"/>
<circle cx="287.91" cy="2322" r="1.7" fill="none" stroke="#222" stroke-width="1.1"/>
<circle cx="300.36" cy="2299.1" r="1.7" fill="none" stroke="#222" stroke-width="1.1"/>
<circle cx="310.31" cy="2326.98" r="1.7" fill="none" stroke="#222" stroke-width="1.1"/>
<circle cx="321.52" cy="2389.22" r="1.7" fill="none" stroke="#222" stroke-width="1.1"/>
<circle cx="330.23" cy="2456.43" r="1.7" fill="none" stroke="#222" stroke-width="1.1"/>
<circle cx="342.68" cy="2435.27" r="1.7" fill="none" stroke="#222" stroke-width="1.1"/>
<circle cx="352.63" cy="2368.06" r="1.7" fill="none" stroke="#222" stroke-width="1.1"/>
<circle cx="362.59" cy="2283.42" r="1.7" fill="none" stroke="#222" stroke-width="1.1"/>
<circle cx="373.79" cy="2305.82" r="1.7" fill="none" stroke="#222" stroke-width="1.1"/>
<circle cx="385" cy="2293.37" r="1.7" fill="none" stroke="#222" stroke-width="1.1"/>
<circle cx="394.95" cy="2302.09" r="1.7" fill="none" stroke="#222" stroke-width="1.1"/>
<circle cx="404.91" cy="2278.44" r="1.7" fill="none" stroke="#222" stroke-width="1.1"/>
<circle cx="416.11" cy="2319.51" r="1.7" fill="none" stroke="#222" stroke-width="1.1"/>
<circle cx="426.07" cy="2300.84" r="1.7" fill="none" stroke="#222" stroke-width="1.1"/>
<circle cx="437.27" cy="2289.64" r="1.7" fill="none" stroke="#222" stroke-width="1.1"/>
<circle cx="448.48" cy="2236.12" r="1.7" fill="none" stroke="#222" stroke-width="1.1"/>
<circle cx="458.43" cy="2265.99" r="1.7" fill="none" stroke="#222" stroke-width="1.1"/>
<circle cx="469.64" cy="2295.86" r="1.7" fill="none" stroke="#222" stroke-width="1.1"/>
<circle cx="480.34" cy="2340.67" r="1.7" fill="none" stroke="#222" stroke-width="1.1"/>
<circle cx="490.8" cy="2257.28" r="1.7" fill="none" stroke="#222" stroke-width="1.1"/>
<circle cx="500.75" cy="2284.66" r="1.7" fill="none" stroke="#222" stroke-width="1.1"/>
</g>
<g id="b3c2">
<line x1="663.89" y1="2235.37" x2="963.12" y2="2235.37" stroke="#333" stroke-width="1.8" stroke-linecap="square"/>
<line x1="663.89" y1="2235.37" x2="663.89" y2="2263.5" stroke="#333" stroke-width="1.8" stroke-linecap="square"/>
<line x1="663.89" y1="2263.5" x2="663.89" y2="2470.87" stroke="#999" stroke-width="1.8" stroke-linecap="square"/>
<line x1="963.12" y1="2235.37" x2="963.12" y2="2257.28" stroke="#aaa" stroke-width="1.8" stroke-linecap="square"/>
<line x1="963.12" y1="2257.28" x2="963.12" y2="2470.87" stroke="#111" stroke-width="1.8" stroke-linecap="square"/>
<line x1="655.67" y1="2263.5" x2="663.89" y2="2263.5" stroke="#333" stroke-width="1.6"/>
<line x1="655.67" y1="2314.04" x2="663.89" y2="2314.04" stroke="#bbb" stroke-width="1.6"/>
<line x1="655.67" y1="2368.06" x2="663.89" y2="2368.06" stroke="#bbb" stroke-width="1.6"/>
<line x1="655.67" y1="2419.09" x2="663.89" y2="2419.09" stroke="#333" stroke-width="1.6"/>
<line x1="655.67" y1="2470.87" x2="663.89" y2="2470.87" stroke="#333" stroke-width="1.6"/>
<text x="584.74" y="2268.48" font-size="28.67" textLength="57.21" lengthAdjust="spacingAndGlyphs" fill="#000">−0.0</text>
<text x="594.4" y="2320.01" font-size="28.67" textLength="49.93" lengthAdjust="spacingAndGlyphs" fill="#000">-0.2</text>
<text x="593.46" y="2370.55" font-size="28.67" textLength="49.93" lengthAdjust="spacingAndGlyphs" fill="#000">-0.4</text>
<text x="594.33" y="2426.56" font-size="28.67" textLength="49.93" lengthAdjust="spacingAndGlyphs" fill="#000">-0.6</text>
<text x="586.94" y="2473.86" font-size="28.67" textLength="57.21" lengthAdjust="spacingAndGlyphs" fill="#000">−0.8</text>
<text x="665.09" y="2506.22" font-size="32.97" textLength="18.55" lengthAdjust="spacingAndGlyphs" fill="#000">0</text>
<text x="721.06" y="2506.22" font-size="32.97" textLength="18.55" lengthAdjust="spacingAndGlyphs" fill="#000">5</text>
<text x="766.99" y="2506.22" font-size="32.97" textLength="37.1" lengthAdjust="spacingAndGlyphs" fill="#000">10</text>
<text x="820.8" y="2506.22" font-size="32.97" textLength="37.1" lengthAdjust="spacingAndGlyphs" fill="#000">15</text>
<text x="874.99" y="2506.22" font-size="32.97" textLength="37.1" lengthAdjust="spacingAndGlyphs" fill="#000">20</text>
<text x="928.3" y="2506.22" font-size="32.97" textLength="37.1" lengthAdjust="spacingAndGlyphs" fill="#000">25</text>
<text transform="translate(565.99,2521.5) rotate(-90)" x="-2.17" y="0" font-size="32.15" textLength="300.25" lengthAdjust="spacingAndGlyphs" fill="#000">Betweeness energy</text>
<text x="810.93" y="2267.24" font-size="35.2" textLength="125.01" lengthAdjust="spacingAndGlyphs" fill="#1ca05d">To ProB</text>
<text x="754.01" y="2552.27" font-size="34.34" textLength="96.19" lengthAdjust="spacingAndGlyphs" fill="#000">Index</text>
<path d="M676.15,2375.9L685.49,2371.41" fill="none" stroke="#151515" stroke-width="1.9" stroke-dasharray="11 7"/>
<path d="M689,2369.52L698.02,2364.11" fill="none" stroke="#151515" stroke-width="1.9" stroke-dasharray="11 7"/>
<path d="M701.25,2364.39L709.68,2371.72" fill="none" stroke="#151515" stroke-width="1.9" stroke-dasharray="11 7"/>
<path d="M712.15,2374.79L721.18,2391.2" fill="none" stroke="#151515" stroke-width="1.9" stroke-dasharray="11 7"/>
<path d="M723.77,2391.79L731.97,2385.9" fill="none" stroke="#151515" stroke-width="1.9" stroke-dasharray="11 7"/>
<path d="M735.4,2383.89L743.48,2380.11" fill="none" stroke="#151515" stroke-width="1.9" stroke-dasharray="11 7"/>
<path d="M745.46,2377.27L755.08,2263" fill="none" stroke="#151515" stroke-width="1.9" stroke-dasharray="11 7"/>
<path d="M756.38,2259.36L766.07,2245.24" fill="none" stroke="#151515" stroke-width="1.9" stroke-dasharray="11 7"/>
<path d="M768.21,2245.31L778.63,2263.02" fill="none" stroke="#151515" stroke-width="1.9" stroke-dasharray="11 7"/>
<path d="M781.25,2265.94L789.74,2272.26" fill="none" stroke="#151515" stroke-width="1.9" stroke-dasharray="11 7"/>
<path d="M791.52,2275.45L801.13,2385.98" fill="none" stroke="#151515" stroke-width="1.9" stroke-dasharray="11 7"/>
<path d="M803.26,2388.38L811.3,2390.05" fill="none" stroke="#151515" stroke-width="1.9" stroke-dasharray="11 7"/>
<path d="M814.49,2388.89L823.72,2377.1" fill="none" stroke="#151515" stroke-width="1.9" stroke-dasharray="11 7"/>
<path d="M826.78,2376.34L834.33,2379.69" fill="none" stroke="#151515" stroke-width="1.9" stroke-dasharray="11 7"/>
<path d="M838.15,2380.71L846.12,2381.54" fill="none" stroke="#151515" stroke-width="1.9" stroke-dasharray="11 7"/>
<path d="M850.09,2381.54L857.82,2380.72" fill="none" stroke="#151515" stroke-width="1.9" stroke-dasharray="11 7"/>
<path d="M861.52,2381.53L869.29,2386.2" fill="none" stroke="#151515" stroke-width="1.9" stroke-dasharray="11 7"/>
<path d="M872.96,2386.79L880.26,2385.17" fill="none" stroke="#151515" stroke-width="1.9" stroke-dasharray="11 7"/>
<path d="M884.19,2384.43L891.44,2383.3" fill="none" stroke="#151515" stroke-width="1.9" stroke-dasharray="11 7"/>
<path d="M895.41,2382.99L902.62,2382.99" fill="none" stroke="#151515" stroke-width="1.9" stroke-dasharray="11 7"/>
<path d="M906.4,2383.89L915.27,2388.32" fill="none" stroke="#151515" stroke-width="1.9" stroke-dasharray="11 7"/>
<path d="M918.56,2387.89L926.77,2380.59" fill="none" stroke="#151515" stroke-width="1.9" stroke-dasharray="11 7"/>
<path d="M928.56,2381.24L940.41,2459.43" fill="none" stroke="#151515" stroke-width="1.9" stroke-dasharray="11 7"/>
<path d="M942.7,2461.21L951.17,2460.36" fill="none" stroke="#151515" stroke-width="1.9" stroke-dasharray="11 7"/>
<circle cx="674.34" cy="2376.77" r="1.7" fill="none" stroke="#222" stroke-width="1.1"/>
<circle cx="687.29" cy="2370.55" r="1.7" fill="none" stroke="#222" stroke-width="1.1"/>
<circle cx="699.74" cy="2363.08" r="1.7" fill="none" stroke="#222" stroke-width="1.1"/>
<circle cx="711.19" cy="2373.04" r="1.7" fill="none" stroke="#222" stroke-width="1.1"/>
<circle cx="722.14" cy="2392.95" r="1.7" fill="none" stroke="#222" stroke-width="1.1"/>
<circle cx="733.59" cy="2384.74" r="1.7" fill="none" stroke="#222" stroke-width="1.1"/>
<circle cx="745.29" cy="2379.26" r="1.7" fill="none" stroke="#222" stroke-width="1.1"/>
<circle cx="755.25" cy="2261.01" r="1.7" fill="none" stroke="#222" stroke-width="1.1"/>
<circle cx="767.2" cy="2243.59" r="1.7" fill="none" stroke="#222" stroke-width="1.1"/>
<circle cx="779.65" cy="2264.75" r="1.7" fill="none" stroke="#222" stroke-width="1.1"/>
<circle cx="791.35" cy="2273.46" r="1.7" fill="none" stroke="#222" stroke-width="1.1"/>
<circle cx="801.3" cy="2387.97" r="1.7" fill="none" stroke="#222" stroke-width="1.1"/>
<circle cx="813.25" cy="2390.46" r="1.7" fill="none" stroke="#222" stroke-width="1.1"/>
<circle cx="824.95" cy="2375.53" r="1.7" fill="none" stroke="#222" stroke-width="1.1"/>
<circle cx="836.16" cy="2380.5" r="1.7" fill="none" stroke="#222" stroke-width="1.1"/>
<circle cx="848.11" cy="2381.75" r="1.7" fill="none" stroke="#222" stroke-width="1.1"/>
<circle cx="859.81" cy="2380.5" r="1.7" fill="none" stroke="#222" stroke-width="1.1"/>
<circle cx="871.01" cy="2387.23" r="1.7" fill="none" stroke="#222" stroke-width="1.1"/>
<circle cx="882.21" cy="2384.74" r="1.7" fill="none" stroke="#222" stroke-width="1.1"/>
<circle cx="893.41" cy="2382.99" r="1.7" fill="none" stroke="#222" stroke-width="1.1"/>
<circle cx="904.62" cy="2382.99" r="1.7" fill="none" stroke="#222" stroke-width="1.1"/>
<circle cx="917.06" cy="2389.22" r="1.7" fill="none" stroke="#222" stroke-width="1.1"/>
<circle cx="928.26" cy="2379.26" r="1.7" fill="none" stroke="#222" stroke-width="1.1"/>
<circle cx="940.71" cy="2461.41" r="1.7" fill="none" stroke="#222" stroke-width="1.1"/>
<circle cx="953.16" cy="2460.17" r="1.7" fill="none" stroke="#222" stroke-width="1.1"/>
</g>
<g id="b3c3">
<line x1="1128.21" y1="2234.87" x2="1407.02" y2="2234.87" stroke="#333" stroke-width="1.8" stroke-linecap="square"/>
<line x1="1128.21" y1="2234.87" x2="1128.21" y2="2257.28" stroke="#888" stroke-width="1.8" stroke-linecap="square"/>
<line x1="1128.21" y1="2369.3" x2="1128.21" y2="2471.37" stroke="#666" stroke-width="1.8" stroke-linecap="square"/>
<line x1="1407.02" y1="2234.87" x2="1407.02" y2="2257.28" stroke="#aaa" stroke-width="1.8" stroke-linecap="square"/>
<line x1="1407.02" y1="2257.28" x2="1407.02" y2="2471.37" stroke="#111" stroke-width="1.8" stroke-linecap="square"/>
<line x1="1120.74" y1="2244.83" x2="1128.21" y2="2244.83" stroke="#333" stroke-width="1.6"/>
<line x1="1120.74" y1="2293.37" x2="1128.21" y2="2293.37" stroke="#333" stroke-width="1.6"/>
<line x1="1120.74" y1="2341.92" x2="1128.21" y2="2341.92" stroke="#333" stroke-width="1.6"/>
<line x1="1120.74" y1="2390.46" x2="1128.21" y2="2390.46" stroke="#333" stroke-width="1.6"/>
<line x1="1180.98" y1="2472.61" x2="1180.98" y2="2478.84" stroke="#444" stroke-width="1.6"/>
<line x1="1234.75" y1="2472.61" x2="1234.75" y2="2478.84" stroke="#444" stroke-width="1.6"/>
<line x1="1288.27" y1="2472.61" x2="1288.27" y2="2478.84" stroke="#444" stroke-width="1.6"/>
<line x1="1342.3" y1="2472.61" x2="1342.3" y2="2478.84" stroke="#444" stroke-width="1.6"/>
<line x1="1395.82" y1="2472.61" x2="1395.82" y2="2478.84" stroke="#444" stroke-width="1.6"/>
<text x="1054.07" y="2261.01" font-size="28.67" textLength="47.63" lengthAdjust="spacingAndGlyphs" fill="#000">−18</text>
<text x="1054.35" y="2307.07" font-size="28.67" textLength="47.63" lengthAdjust="spacingAndGlyphs" fill="#000">−20</text>
<text x="1054.28" y="2350.63" font-size="28.67" textLength="47.63" lengthAdjust="spacingAndGlyphs" fill="#000">−22</text>
<text x="1060.39" y="2404.15" font-size="28.67" textLength="40.58" lengthAdjust="spacingAndGlyphs" fill="#000">-24</text>
<text x="1054.21" y="2445.23" font-size="28.67" textLength="47.63" lengthAdjust="spacingAndGlyphs" fill="#000">−26</text>
<text x="1054.07" y="2482.57" font-size="28.67" textLength="47.63" lengthAdjust="spacingAndGlyphs" fill="#000">−28</text>
<text x="1113.97" y="2508.71" font-size="32.97" textLength="18.55" lengthAdjust="spacingAndGlyphs" fill="#000">0</text>
<text x="1169.94" y="2508.71" font-size="32.97" textLength="18.55" lengthAdjust="spacingAndGlyphs" fill="#000">5</text>
<text x="1215.12" y="2508.71" font-size="32.97" textLength="37.1" lengthAdjust="spacingAndGlyphs" fill="#000">10</text>
<text x="1270.92" y="2508.71" font-size="32.97" textLength="37.1" lengthAdjust="spacingAndGlyphs" fill="#000">15</text>
<text x="1323.87" y="2508.71" font-size="32.97" textLength="37.1" lengthAdjust="spacingAndGlyphs" fill="#000">20</text>
<text x="1378.43" y="2508.71" font-size="32.97" textLength="37.1" lengthAdjust="spacingAndGlyphs" fill="#000">25</text>
<text transform="translate(1030.89,2467.6) rotate(-90)" x="-1.29" y="0" font-size="32.16" textLength="209.12" lengthAdjust="spacingAndGlyphs" fill="#000">Graph energy</text>
<text x="1261.06" y="2274.7" font-size="33.24" textLength="137.16" lengthAdjust="spacingAndGlyphs" fill="#1ca05d">To LMPP</text>
<text x="1222.84" y="2553.52" font-size="32.62" textLength="94.9" lengthAdjust="spacingAndGlyphs" fill="#000">Index</text>
<path d="M1139.74,2351.89L1147.79,2345.64" fill="none" stroke="#151515" stroke-width="1.9" stroke-dasharray="11 7"/>
<path d="M1150.19,2342.59L1159.24,2322.58" fill="none" stroke="#151515" stroke-width="1.9" stroke-dasharray="11 7"/>
<path d="M1160.61,2322.68L1169.99,2356.17" fill="none" stroke="#151515" stroke-width="1.9" stroke-dasharray="11 7"/>
<path d="M1172.08,2356.84L1179.68,2350.65" fill="none" stroke="#151515" stroke-width="1.9" stroke-dasharray="11 7"/>
<path d="M1182.16,2347.62L1190.76,2331.24" fill="none" stroke="#151515" stroke-width="1.9" stroke-dasharray="11 7"/>
<path d="M1192.77,2331.15L1201.81,2345.21" fill="none" stroke="#151515" stroke-width="1.9" stroke-dasharray="11 7"/>
<path d="M1203.08,2344.91L1212.65,2245.58" fill="none" stroke="#151515" stroke-width="1.9" stroke-dasharray="11 7"/>
<path d="M1214.83,2243.37L1222.06,2242.56" fill="none" stroke="#151515" stroke-width="1.9" stroke-dasharray="11 7"/>
<path d="M1226.04,2242.56L1233.26,2243.37" fill="none" stroke="#151515" stroke-width="1.9" stroke-dasharray="11 7"/>
<path d="M1237.2,2244.02L1244.5,2245.64" fill="none" stroke="#151515" stroke-width="1.9" stroke-dasharray="11 7"/>
<path d="M1246.69,2248.06L1256.17,2326.24" fill="none" stroke="#151515" stroke-width="1.9" stroke-dasharray="11 7"/>
<path d="M1257.61,2329.83L1266.41,2341.56" fill="none" stroke="#151515" stroke-width="1.9" stroke-dasharray="11 7"/>
<path d="M1269.56,2343.62L1276.37,2345.2" fill="none" stroke="#151515" stroke-width="1.9" stroke-dasharray="11 7"/>
<path d="M1280.12,2344.79L1286.97,2341.53" fill="none" stroke="#151515" stroke-width="1.9" stroke-dasharray="11 7"/>
<path d="M1289.38,2342.58L1298.12,2369.89" fill="none" stroke="#151515" stroke-width="1.9" stroke-dasharray="11 7"/>
<path d="M1299.24,2369.86L1309.42,2331.4" fill="none" stroke="#151515" stroke-width="1.9" stroke-dasharray="11 7"/>
<path d="M1311.35,2330.89L1319.72,2339.26" fill="none" stroke="#151515" stroke-width="1.9" stroke-dasharray="11 7"/>
<path d="M1322.63,2342L1330.84,2349.3" fill="none" stroke="#151515" stroke-width="1.9" stroke-dasharray="11 7"/>
<path d="M1333.92,2351.86L1341.96,2358.12" fill="none" stroke="#151515" stroke-width="1.9" stroke-dasharray="11 7"/>
<path d="M1345.05,2358.03L1351.99,2351.95" fill="none" stroke="#151515" stroke-width="1.9" stroke-dasharray="11 7"/>
<path d="M1355.42,2351.19L1362.78,2353.31" fill="none" stroke="#151515" stroke-width="1.9" stroke-dasharray="11 7"/>
<path d="M1366.66,2353.48L1372.7,2352.27" fill="none" stroke="#151515" stroke-width="1.9" stroke-dasharray="11 7"/>
<path d="M1374.84,2353.87L1384.43,2459.42" fill="none" stroke="#151515" stroke-width="1.9" stroke-dasharray="11 7"/>
<path d="M1386.6,2461.19L1393.83,2460.39" fill="none" stroke="#151515" stroke-width="1.9" stroke-dasharray="11 7"/>
<circle cx="1138.16" cy="2353.12" r="1.7" fill="none" stroke="#222" stroke-width="1.1"/>
<circle cx="1149.37" cy="2344.41" r="1.7" fill="none" stroke="#222" stroke-width="1.1"/>
<circle cx="1160.07" cy="2320.76" r="1.7" fill="none" stroke="#222" stroke-width="1.1"/>
<circle cx="1170.53" cy="2358.1" r="1.7" fill="none" stroke="#222" stroke-width="1.1"/>
<circle cx="1181.23" cy="2349.39" r="1.7" fill="none" stroke="#222" stroke-width="1.1"/>
<circle cx="1191.69" cy="2329.47" r="1.7" fill="none" stroke="#222" stroke-width="1.1"/>
<circle cx="1202.89" cy="2346.9" r="1.7" fill="none" stroke="#222" stroke-width="1.1"/>
<circle cx="1212.85" cy="2243.59" r="1.7" fill="none" stroke="#222" stroke-width="1.1"/>
<circle cx="1224.05" cy="2242.34" r="1.7" fill="none" stroke="#222" stroke-width="1.1"/>
<circle cx="1235.25" cy="2243.59" r="1.7" fill="none" stroke="#222" stroke-width="1.1"/>
<circle cx="1246.45" cy="2246.08" r="1.7" fill="none" stroke="#222" stroke-width="1.1"/>
<circle cx="1256.41" cy="2328.23" r="1.7" fill="none" stroke="#222" stroke-width="1.1"/>
<circle cx="1267.61" cy="2343.16" r="1.7" fill="none" stroke="#222" stroke-width="1.1"/>
<circle cx="1278.32" cy="2345.65" r="1.7" fill="none" stroke="#222" stroke-width="1.1"/>
<circle cx="1288.77" cy="2340.67" r="1.7" fill="none" stroke="#222" stroke-width="1.1"/>
<circle cx="1298.73" cy="2371.79" r="1.7" fill="none" stroke="#222" stroke-width="1.1"/>
<circle cx="1309.93" cy="2329.47" r="1.7" fill="none" stroke="#222" stroke-width="1.1"/>
<circle cx="1321.14" cy="2340.67" r="1.7" fill="none" stroke="#222" stroke-width="1.1"/>
<circle cx="1332.34" cy="2350.63" r="1.7" fill="none" stroke="#222" stroke-width="1.1"/>
<circle cx="1343.54" cy="2359.34" r="1.7" fill="none" stroke="#222" stroke-width="1.1"/>
<circle cx="1353.5" cy="2350.63" r="1.7" fill="none" stroke="#222" stroke-width="1.1"/>
<circle cx="1364.7" cy="2353.87" r="1.7" fill="none" stroke="#222" stroke-width="1.1"/>
<circle cx="1374.66" cy="2351.88" r="1.7" fill="none" stroke="#222" stroke-width="1.1"/>
<circle cx="1384.62" cy="2461.41" r="1.7" fill="none" stroke="#222" stroke-width="1.1"/>
<circle cx="1395.82" cy="2460.17" r="1.7" fill="none" stroke="#222" stroke-width="1.1"/>
</g>
<g id="b3c4">
<line x1="1568.95" y1="2235.37" x2="1866.94" y2="2235.37" stroke="#888" stroke-width="1.8" stroke-linecap="square"/>
<line x1="1568.95" y1="2235.37" x2="1568.95" y2="2263.5" stroke="#999" stroke-width="1.8" stroke-linecap="square"/>
<line x1="1866.94" y1="2235.37" x2="1866.94" y2="2264.75" stroke="#aaa" stroke-width="1.8" stroke-linecap="square"/>
<line x1="1866.94" y1="2264.75" x2="1866.94" y2="2471.37" stroke="#111" stroke-width="1.8" stroke-linecap="square"/>
<line x1="1561.48" y1="2253.54" x2="1568.95" y2="2253.54" stroke="#555" stroke-width="1.6"/>
<line x1="1561.48" y1="2296.61" x2="1568.95" y2="2296.61" stroke="#333" stroke-width="1.6"/>
<line x1="1561.48" y1="2429.05" x2="1568.95" y2="2429.05" stroke="#333" stroke-width="1.6"/>
<line x1="1625.46" y1="2472.61" x2="1625.46" y2="2478.84" stroke="#444" stroke-width="1.6"/>
<line x1="1681.97" y1="2472.61" x2="1681.97" y2="2478.84" stroke="#444" stroke-width="1.6"/>
<line x1="1741.22" y1="2472.61" x2="1741.22" y2="2478.84" stroke="#444" stroke-width="1.6"/>
<line x1="1797.23" y1="2472.61" x2="1797.23" y2="2478.84" stroke="#444" stroke-width="1.6"/>
<line x1="1855.73" y1="2472.61" x2="1855.73" y2="2478.84" stroke="#444" stroke-width="1.6"/>
<text x="1480.65" y="2265.99" font-size="28.67" textLength="69.65" lengthAdjust="spacingAndGlyphs" fill="#000">−21.5</text>
<text x="1487.95" y="2312.05" font-size="28.67" textLength="62.74" lengthAdjust="spacingAndGlyphs" fill="#000">-22.0</text>
<text x="1487.6" y="2349.39" font-size="28.67" textLength="62.74" lengthAdjust="spacingAndGlyphs" fill="#000">-22.5</text>
<text x="1481" y="2394.2" font-size="28.67" textLength="69.65" lengthAdjust="spacingAndGlyphs" fill="#000">−23.0</text>
<text x="1480.65" y="2437.76" font-size="28.67" textLength="69.65" lengthAdjust="spacingAndGlyphs" fill="#000">−23.5</text>
<text x="1567.66" y="2508.71" font-size="32.97" textLength="18.55" lengthAdjust="spacingAndGlyphs" fill="#000">0</text>
<text x="1623.63" y="2508.71" font-size="32.97" textLength="18.55" lengthAdjust="spacingAndGlyphs" fill="#000">5</text>
<text x="1668.81" y="2508.71" font-size="32.97" textLength="37.1" lengthAdjust="spacingAndGlyphs" fill="#000">10</text>
<text x="1723.37" y="2508.71" font-size="32.97" textLength="37.1" lengthAdjust="spacingAndGlyphs" fill="#000">15</text>
<text x="1778.81" y="2508.71" font-size="32.97" textLength="37.1" lengthAdjust="spacingAndGlyphs" fill="#000">20</text>
<text x="1833.36" y="2508.71" font-size="32.97" textLength="37.1" lengthAdjust="spacingAndGlyphs" fill="#000">25</text>
<text transform="translate(1469.19,2463.5) rotate(-90)" x="-2.17" y="0" font-size="32.15" textLength="221.58" lengthAdjust="spacingAndGlyphs" fill="#000">Randic energy</text>
<text x="1693.59" y="2269.23" font-size="34.41" textLength="138.42" lengthAdjust="spacingAndGlyphs" fill="#1ca05d">To LMPP</text>
<text x="1670.24" y="2557.25" font-size="34.34" textLength="97.47" lengthAdjust="spacingAndGlyphs" fill="#000">Index</text>
<path d="M1579.75,2392.23L1590.27,2331.44" fill="none" stroke="#151515" stroke-width="1.9" stroke-dasharray="11 7"/>
<path d="M1590.9,2327.49L1602.77,2245.57" fill="none" stroke="#151515" stroke-width="1.9" stroke-dasharray="11 7"/>
<path d="M1603.19,2245.58L1614.88,2424.56" fill="none" stroke="#151515" stroke-width="1.9" stroke-dasharray="11 7"/>
<path d="M1615.42,2424.6L1626.29,2373.75" fill="none" stroke="#151515" stroke-width="1.9" stroke-dasharray="11 7"/>
<path d="M1626.97,2369.81L1637.65,2287.89" fill="none" stroke="#151515" stroke-width="1.9" stroke-dasharray="11 7"/>
<path d="M1638.09,2287.9L1648.93,2405.9" fill="none" stroke="#151515" stroke-width="1.9" stroke-dasharray="11 7"/>
<path d="M1649.24,2405.89L1658.94,2260.52" fill="none" stroke="#151515" stroke-width="1.9" stroke-dasharray="11 7"/>
<path d="M1660.93,2257.78L1669.66,2254.29" fill="none" stroke="#151515" stroke-width="1.9" stroke-dasharray="11 7"/>
<path d="M1673.47,2253.11L1680.77,2251.49" fill="none" stroke="#151515" stroke-width="1.9" stroke-dasharray="11 7"/>
<path d="M1683.26,2252.98L1693.38,2288.96" fill="none" stroke="#151515" stroke-width="1.9" stroke-dasharray="11 7"/>
<path d="M1695.14,2292.47L1705.15,2305.48" fill="none" stroke="#151515" stroke-width="1.9" stroke-dasharray="11 7"/>
<path d="M1706.94,2308.98L1717,2342.49" fill="none" stroke="#151515" stroke-width="1.9" stroke-dasharray="11 7"/>
<path d="M1718.98,2345.82L1727.36,2354.2" fill="none" stroke="#151515" stroke-width="1.9" stroke-dasharray="11 7"/>
<path d="M1729.99,2354.02L1740,2341.01" fill="none" stroke="#151515" stroke-width="1.9" stroke-dasharray="11 7"/>
<path d="M1741.4,2341.42L1752.24,2463.15" fill="none" stroke="#151515" stroke-width="1.9" stroke-dasharray="11 7"/>
<path d="M1752.58,2463.15L1763.47,2324" fill="none" stroke="#151515" stroke-width="1.9" stroke-dasharray="11 7"/>
<path d="M1764.28,2323.89L1774.17,2352.48" fill="none" stroke="#151515" stroke-width="1.9" stroke-dasharray="11 7"/>
<path d="M1775.54,2356.23L1786.56,2384.86" fill="none" stroke="#151515" stroke-width="1.9" stroke-dasharray="11 7"/>
<path d="M1787.71,2388.68L1796.8,2429.58" fill="none" stroke="#151515" stroke-width="1.9" stroke-dasharray="11 7"/>
<path d="M1797.93,2429.66L1807.73,2403.54" fill="none" stroke="#151515" stroke-width="1.9" stroke-dasharray="11 7"/>
<path d="M1810.22,2400.77L1819.09,2396.34" fill="none" stroke="#151515" stroke-width="1.9" stroke-dasharray="11 7"/>
<path d="M1822.84,2395.05L1831.37,2393.34" fill="none" stroke="#151515" stroke-width="1.9" stroke-dasharray="11 7"/>
<path d="M1833.49,2390.96L1844.37,2253.05" fill="none" stroke="#151515" stroke-width="1.9" stroke-dasharray="11 7"/>
<path d="M1845.26,2252.92L1855.5,2279.07" fill="none" stroke="#151515" stroke-width="1.9" stroke-dasharray="11 7"/>
<circle cx="1579.41" cy="2394.2" r="1.7" fill="none" stroke="#222" stroke-width="1.1"/>
<circle cx="1590.61" cy="2329.47" r="1.7" fill="none" stroke="#222" stroke-width="1.1"/>
<circle cx="1603.06" cy="2243.59" r="1.7" fill="none" stroke="#222" stroke-width="1.1"/>
<circle cx="1615.01" cy="2426.56" r="1.7" fill="none" stroke="#222" stroke-width="1.1"/>
<circle cx="1626.71" cy="2371.79" r="1.7" fill="none" stroke="#222" stroke-width="1.1"/>
<circle cx="1637.91" cy="2285.91" r="1.7" fill="none" stroke="#222" stroke-width="1.1"/>
<circle cx="1649.11" cy="2407.89" r="1.7" fill="none" stroke="#222" stroke-width="1.1"/>
<circle cx="1659.07" cy="2258.52" r="1.7" fill="none" stroke="#222" stroke-width="1.1"/>
<circle cx="1671.52" cy="2253.54" r="1.7" fill="none" stroke="#222" stroke-width="1.1"/>
<circle cx="1682.72" cy="2251.05" r="1.7" fill="none" stroke="#222" stroke-width="1.1"/>
<circle cx="1693.92" cy="2290.88" r="1.7" fill="none" stroke="#222" stroke-width="1.1"/>
<circle cx="1706.37" cy="2307.07" r="1.7" fill="none" stroke="#222" stroke-width="1.1"/>
<circle cx="1717.57" cy="2344.41" r="1.7" fill="none" stroke="#222" stroke-width="1.1"/>
<circle cx="1728.77" cy="2355.61" r="1.7" fill="none" stroke="#222" stroke-width="1.1"/>
<circle cx="1741.22" cy="2339.43" r="1.7" fill="none" stroke="#222" stroke-width="1.1"/>
<circle cx="1752.42" cy="2465.14" r="1.7" fill="none" stroke="#222" stroke-width="1.1"/>
<circle cx="1763.62" cy="2322" r="1.7" fill="none" stroke="#222" stroke-width="1.1"/>
<circle cx="1774.83" cy="2354.37" r="1.7" fill="none" stroke="#222" stroke-width="1.1"/>
<circle cx="1787.27" cy="2386.73" r="1.7" fill="none" stroke="#222" stroke-width="1.1"/>
<circle cx="1797.23" cy="2431.54" r="1.7" fill="none" stroke="#222" stroke-width="1.1"/>
<circle cx="1808.43" cy="2401.66" r="1.7" fill="none" stroke="#222" stroke-width="1.1"/>
<circle cx="1820.88" cy="2395.44" r="1.7" fill="none" stroke="#222" stroke-width="1.1"/>
<circle cx="1833.33" cy="2392.95" r="1.7" fill="none" stroke="#222" stroke-width="1.1"/>
<circle cx="1844.53" cy="2251.05" r="1.7" fill="none" stroke="#222" stroke-width="1.1"/>
<circle cx="1856.23" cy="2280.93" r="1.7" fill="none" stroke="#222" stroke-width="1.1"/>
</g>
<g id="b3c5">
<line x1="2014.62" y1="2234.37" x2="2284.09" y2="2234.37" stroke="#ccc" stroke-width="1.8" stroke-linecap="square"/>
<line x1="2014.62" y1="2234.37" x2="2014.62" y2="2470.64" stroke="#666" stroke-width="1.8" stroke-linecap="square"/>
<line x1="2014.62" y1="2470.64" x2="2284.09" y2="2470.64" stroke="#111" stroke-width="1.8" stroke-linecap="square"/>
<line x1="2285.37" y1="2234.37" x2="2285.37" y2="2258.64" stroke="#555" stroke-width="1.8" stroke-linecap="square"/>
<line x1="2005.68" y1="2362.85" x2="2014.62" y2="2362.85" stroke="#333" stroke-width="1.6"/>
<line x1="2005.68" y1="2429.78" x2="2014.62" y2="2429.78" stroke="#333" stroke-width="1.6"/>
<line x1="2005.68" y1="2462.47" x2="2014.62" y2="2462.47" stroke="#333" stroke-width="1.6"/>
<line x1="2065.7" y1="2470.64" x2="2065.7" y2="2477.03" stroke="#444" stroke-width="1.6"/>
<line x1="2170.43" y1="2470.64" x2="2170.43" y2="2477.03" stroke="#444" stroke-width="1.6"/>
<line x1="2222.79" y1="2470.64" x2="2222.79" y2="2477.03" stroke="#444" stroke-width="1.6"/>
<text x="1966.34" y="2273.97" font-size="28.67" textLength="30.27" lengthAdjust="spacingAndGlyphs" fill="#000">60</text>
<text x="1966.34" y="2335.27" font-size="28.67" textLength="30.27" lengthAdjust="spacingAndGlyphs" fill="#000">50</text>
<text x="1966.34" y="2404.23" font-size="28.67" textLength="30.27" lengthAdjust="spacingAndGlyphs" fill="#000">40</text>
<text x="1966.34" y="2465.54" font-size="28.67" textLength="30.27" lengthAdjust="spacingAndGlyphs" fill="#000">30</text>
<text x="2006.64" y="2506.4" font-size="32.97" textLength="18.55" lengthAdjust="spacingAndGlyphs" fill="#000">0</text>
<text x="2062.79" y="2506.4" font-size="32.97" textLength="18.55" lengthAdjust="spacingAndGlyphs" fill="#000">5</text>
<text x="2109.4" y="2506.4" font-size="32.97" textLength="37.1" lengthAdjust="spacingAndGlyphs" fill="#000">10</text>
<text x="2164.11" y="2506.4" font-size="32.97" textLength="37.1" lengthAdjust="spacingAndGlyphs" fill="#000">15</text>
<text x="2218.41" y="2506.4" font-size="32.97" textLength="37.1" lengthAdjust="spacingAndGlyphs" fill="#000">20</text>
<text x="2271.84" y="2506.4" font-size="32.97" textLength="37.1" lengthAdjust="spacingAndGlyphs" fill="#000">25</text>
<text transform="translate(1942.18,2493.6) rotate(-90)" x="-2.14" y="0" font-size="31.74" textLength="259.31" lengthAdjust="spacingAndGlyphs" fill="#000">Laplacian energy</text>
<text x="2025.79" y="2266.3" font-size="34.11" textLength="136.86" lengthAdjust="spacingAndGlyphs" fill="#1ca05d">To LMPP</text>
<text x="2105.4" y="2557.49" font-size="35.23" textLength="94.74" lengthAdjust="spacingAndGlyphs" fill="#000">Index</text>
<path d="M2025.26,2380.26L2031.31,2384.02" fill="none" stroke="#151515" stroke-width="1.9" stroke-dasharray="11 7"/>
<path d="M2034.47,2386.44L2042.53,2393.93" fill="none" stroke="#151515" stroke-width="1.9" stroke-dasharray="11 7"/>
<path d="M2044.86,2393.49L2053.34,2375.89" fill="none" stroke="#151515" stroke-width="1.9" stroke-dasharray="11 7"/>
<path d="M2056.07,2374.84L2063.85,2377.95" fill="none" stroke="#151515" stroke-width="1.9" stroke-dasharray="11 7"/>
<path d="M2067.4,2379.75L2074.22,2384.02" fill="none" stroke="#151515" stroke-width="1.9" stroke-dasharray="11 7"/>
<path d="M2077.91,2384.84L2084.66,2384.04" fill="none" stroke="#151515" stroke-width="1.9" stroke-dasharray="11 7"/>
<path d="M2086.9,2385.78L2096.1,2458.44" fill="none" stroke="#151515" stroke-width="1.9" stroke-dasharray="11 7"/>
<path d="M2098.35,2460.43L2105.85,2460.43" fill="none" stroke="#151515" stroke-width="1.9" stroke-dasharray="11 7"/>
<path d="M2109.84,2460.65L2117.35,2461.48" fill="none" stroke="#151515" stroke-width="1.9" stroke-dasharray="11 7"/>
<path d="M2121.28,2461.2L2127.11,2459.66" fill="none" stroke="#151515" stroke-width="1.9" stroke-dasharray="11 7"/>
<path d="M2129.32,2457.17L2136.95,2401.11" fill="none" stroke="#151515" stroke-width="1.9" stroke-dasharray="11 7"/>
<path d="M2138.49,2397.58L2147.45,2386.62" fill="none" stroke="#151515" stroke-width="1.9" stroke-dasharray="11 7"/>
<path d="M2150.7,2384.86L2158.22,2384.02" fill="none" stroke="#151515" stroke-width="1.9" stroke-dasharray="11 7"/>
<path d="M2162.15,2383.31L2168.49,2381.73" fill="none" stroke="#151515" stroke-width="1.9" stroke-dasharray="11 7"/>
<path d="M2172.37,2380.76L2178.7,2379.18" fill="none" stroke="#151515" stroke-width="1.9" stroke-dasharray="11 7"/>
<path d="M2181.79,2380.33L2188.44,2389.82" fill="none" stroke="#151515" stroke-width="1.9" stroke-dasharray="11 7"/>
<path d="M2191.08,2390.13L2199.58,2382.57" fill="none" stroke="#151515" stroke-width="1.9" stroke-dasharray="11 7"/>
<path d="M2202.94,2380.5L2210.72,2377.39" fill="none" stroke="#151515" stroke-width="1.9" stroke-dasharray="11 7"/>
<path d="M2214.44,2375.94L2222.2,2373.01" fill="none" stroke="#151515" stroke-width="1.9" stroke-dasharray="11 7"/>
<path d="M2225.86,2373.2L2232.5,2376.52" fill="none" stroke="#151515" stroke-width="1.9" stroke-dasharray="11 7"/>
<path d="M2236.23,2377.9L2242.56,2379.48" fill="none" stroke="#151515" stroke-width="1.9" stroke-dasharray="11 7"/>
<path d="M2246.5,2379.97L2252.72,2379.97" fill="none" stroke="#151515" stroke-width="1.9" stroke-dasharray="11 7"/>
<path d="M2254.87,2377.97L2264.79,2242.75" fill="none" stroke="#151515" stroke-width="1.9" stroke-dasharray="11 7"/>
<path d="M2266.35,2242.17L2273.74,2249.56" fill="none" stroke="#151515" stroke-width="1.9" stroke-dasharray="11 7"/>
<circle cx="2023.56" cy="2379.2" r="1.7" fill="none" stroke="#222" stroke-width="1.1"/>
<circle cx="2033.01" cy="2385.08" r="1.7" fill="none" stroke="#222" stroke-width="1.1"/>
<circle cx="2043.99" cy="2395.29" r="1.7" fill="none" stroke="#222" stroke-width="1.1"/>
<circle cx="2054.21" cy="2374.09" r="1.7" fill="none" stroke="#222" stroke-width="1.1"/>
<circle cx="2065.7" cy="2378.69" r="1.7" fill="none" stroke="#222" stroke-width="1.1"/>
<circle cx="2075.92" cy="2385.08" r="1.7" fill="none" stroke="#222" stroke-width="1.1"/>
<circle cx="2086.65" cy="2383.8" r="1.7" fill="none" stroke="#222" stroke-width="1.1"/>
<circle cx="2096.35" cy="2460.43" r="1.7" fill="none" stroke="#222" stroke-width="1.1"/>
<circle cx="2107.85" cy="2460.43" r="1.7" fill="none" stroke="#222" stroke-width="1.1"/>
<circle cx="2119.34" cy="2461.7" r="1.7" fill="none" stroke="#222" stroke-width="1.1"/>
<circle cx="2129.05" cy="2459.15" r="1.7" fill="none" stroke="#222" stroke-width="1.1"/>
<circle cx="2137.22" cy="2399.13" r="1.7" fill="none" stroke="#222" stroke-width="1.1"/>
<circle cx="2148.72" cy="2385.08" r="1.7" fill="none" stroke="#222" stroke-width="1.1"/>
<circle cx="2160.21" cy="2383.8" r="1.7" fill="none" stroke="#222" stroke-width="1.1"/>
<circle cx="2170.43" cy="2381.25" r="1.7" fill="none" stroke="#222" stroke-width="1.1"/>
<circle cx="2180.64" cy="2378.69" r="1.7" fill="none" stroke="#222" stroke-width="1.1"/>
<circle cx="2189.58" cy="2391.46" r="1.7" fill="none" stroke="#222" stroke-width="1.1"/>
<circle cx="2201.08" cy="2381.25" r="1.7" fill="none" stroke="#222" stroke-width="1.1"/>
<circle cx="2212.57" cy="2376.65" r="1.7" fill="none" stroke="#222" stroke-width="1.1"/>
<circle cx="2224.07" cy="2372.31" r="1.7" fill="none" stroke="#222" stroke-width="1.1"/>
<circle cx="2234.28" cy="2377.41" r="1.7" fill="none" stroke="#222" stroke-width="1.1"/>
<circle cx="2244.5" cy="2379.97" r="1.7" fill="none" stroke="#222" stroke-width="1.1"/>
<circle cx="2254.72" cy="2379.97" r="1.7" fill="none" stroke="#222" stroke-width="1.1"/>
<circle cx="2264.94" cy="2240.76" r="1.7" fill="none" stroke="#222" stroke-width="1.1"/>
<circle cx="2275.15" cy="2250.98" r="1.7" fill="none" stroke="#222" stroke-width="1.1"/>
</g>
</svg></body></html>
